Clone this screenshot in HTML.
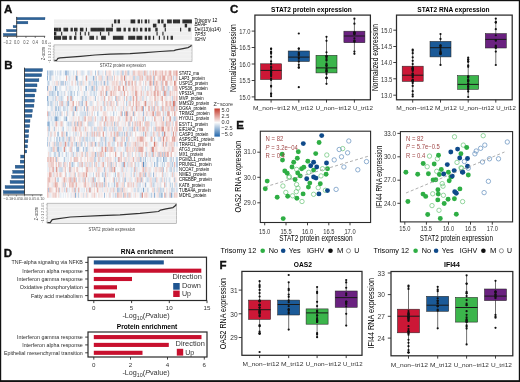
<!DOCTYPE html>
<html><head><meta charset="utf-8"><style>
html,body{margin:0;padding:0;background:#fff;width:520px;height:382px;overflow:hidden}
svg{display:block;font-family:"Liberation Sans",sans-serif;will-change:transform}
</style></head><body>
<svg width="520" height="382" viewBox="0 0 520 382" font-family="Liberation Sans, sans-serif">
<rect x="0" y="0" width="520" height="382" fill="#fff"/>
<text x="4" y="13.1" font-size="11.5" font-weight="bold" fill="#111" stroke="#111" stroke-width="0.35">A</text>
<text x="4.2" y="69.2" font-size="11.5" font-weight="bold" fill="#111" stroke="#111" stroke-width="0.35">B</text>
<text x="230" y="13.1" font-size="11.5" font-weight="bold" fill="#111" stroke="#111" stroke-width="0.35">C</text>
<text x="3.8" y="257.1" font-size="11.5" font-weight="bold" fill="#111" stroke="#111" stroke-width="0.35">D</text>
<text x="236.3" y="129.2" font-size="11.5" font-weight="bold" fill="#111" stroke="#111" stroke-width="0.35">E</text>
<text x="219.4" y="269.1" font-size="11.5" font-weight="bold" fill="#111" stroke="#111" stroke-width="0.35">F</text>
<rect x="16.7" y="17.4" width="28.3" height="2.4" fill="#2d6399" stroke="#1f4670" stroke-width="0.3"/>
<rect x="16.7" y="21.3" width="11.2" height="2.6" fill="#2d6399" stroke="#1f4670" stroke-width="0.3"/>
<rect x="13.1" y="25.4" width="3.6" height="2.4" fill="#2d6399" stroke="#1f4670" stroke-width="0.3"/>
<rect x="6.5" y="29.4" width="10.2" height="2.4" fill="#2d6399" stroke="#1f4670" stroke-width="0.3"/>
<rect x="3.3" y="33.4" width="13.4" height="2.4" fill="#2d6399" stroke="#1f4670" stroke-width="0.3"/>
<line x1="16.7" y1="16.9" x2="16.7" y2="36.3" stroke="#2a2a2a" stroke-width="0.8" />
<line x1="3" y1="36.3" x2="45.2" y2="36.3" stroke="#2a2a2a" stroke-width="0.8" />
<line x1="7.44" y1="36.3" x2="7.44" y2="38" stroke="#2a2a2a" stroke-width="0.6" />
<text x="7.44" y="43.9" font-size="4.9" text-anchor="middle" fill="#555" textLength="7.93" lengthAdjust="spacingAndGlyphs">−0.2</text>
<line x1="16.7" y1="36.3" x2="16.7" y2="38" stroke="#2a2a2a" stroke-width="0.6" />
<text x="16.7" y="43.9" font-size="4.9" text-anchor="middle" fill="#555" textLength="5.59" lengthAdjust="spacingAndGlyphs">0.0</text>
<line x1="25.96" y1="36.3" x2="25.96" y2="38" stroke="#2a2a2a" stroke-width="0.6" />
<text x="25.96" y="43.9" font-size="4.9" text-anchor="middle" fill="#555" textLength="5.59" lengthAdjust="spacingAndGlyphs">0.2</text>
<line x1="35.22" y1="36.3" x2="35.22" y2="38" stroke="#2a2a2a" stroke-width="0.6" />
<text x="35.22" y="43.9" font-size="4.9" text-anchor="middle" fill="#555" textLength="5.59" lengthAdjust="spacingAndGlyphs">0.4</text>
<line x1="44.48" y1="36.3" x2="44.48" y2="38" stroke="#2a2a2a" stroke-width="0.6" />
<text x="44.48" y="43.9" font-size="4.9" text-anchor="middle" fill="#555" textLength="5.59" lengthAdjust="spacingAndGlyphs">0.6</text>
<rect x="54" y="19.5" width="137.8" height="20.25" fill="#ececec"/>
<rect x="114.07" y="19.5" width="2.36" height="4.05" fill="#161616"/>
<rect x="117.6" y="19.5" width="2.36" height="4.05" fill="#161616"/>
<rect x="130.56" y="19.5" width="4.71" height="4.05" fill="#161616"/>
<rect x="137.62" y="19.5" width="2.36" height="4.05" fill="#161616"/>
<rect x="141.16" y="19.5" width="1.18" height="4.05" fill="#161616"/>
<rect x="144.69" y="19.5" width="2.36" height="4.05" fill="#161616"/>
<rect x="148.22" y="19.5" width="1.18" height="4.05" fill="#161616"/>
<rect x="157.64" y="19.5" width="2.36" height="4.05" fill="#161616"/>
<rect x="161.18" y="19.5" width="2.36" height="4.05" fill="#161616"/>
<rect x="167.07" y="19.5" width="4.71" height="4.05" fill="#161616"/>
<rect x="172.96" y="19.5" width="7.07" height="4.05" fill="#161616"/>
<rect x="182.38" y="19.5" width="9.42" height="4.05" fill="#161616"/>
<rect x="111.71" y="23.55" width="1.18" height="4.05" fill="#161616"/>
<rect x="152.93" y="23.55" width="3.53" height="4.05" fill="#161616"/>
<rect x="163.53" y="23.55" width="2.36" height="4.05" fill="#161616"/>
<rect x="184.73" y="23.55" width="2.36" height="4.05" fill="#161616"/>
<rect x="54" y="27.6" width="4.71" height="4.05" fill="#161616"/>
<rect x="58.71" y="27.6" width="2.36" height="4.05" fill="#161616"/>
<rect x="63.42" y="27.6" width="4.71" height="4.05" fill="#161616"/>
<rect x="70.49" y="27.6" width="2.36" height="4.05" fill="#161616"/>
<rect x="74.02" y="27.6" width="3.53" height="4.05" fill="#161616"/>
<rect x="79.91" y="27.6" width="3.53" height="4.05" fill="#161616"/>
<rect x="85.8" y="27.6" width="1.18" height="4.05" fill="#161616"/>
<rect x="90.51" y="27.6" width="14.13" height="4.05" fill="#161616"/>
<rect x="105.82" y="27.6" width="7.07" height="4.05" fill="#161616"/>
<rect x="116.42" y="27.6" width="4.71" height="4.05" fill="#161616"/>
<rect x="123.49" y="27.6" width="2.36" height="4.05" fill="#161616"/>
<rect x="128.2" y="27.6" width="2.36" height="4.05" fill="#161616"/>
<rect x="132.91" y="27.6" width="2.36" height="4.05" fill="#161616"/>
<rect x="136.44" y="27.6" width="1.18" height="4.05" fill="#161616"/>
<rect x="139.98" y="27.6" width="2.36" height="4.05" fill="#161616"/>
<rect x="144.69" y="27.6" width="2.36" height="4.05" fill="#161616"/>
<rect x="148.22" y="27.6" width="2.36" height="4.05" fill="#161616"/>
<rect x="155.29" y="27.6" width="2.36" height="4.05" fill="#161616"/>
<rect x="164.71" y="27.6" width="1.18" height="4.05" fill="#161616"/>
<rect x="180.02" y="27.6" width="1.18" height="4.05" fill="#161616"/>
<rect x="188.27" y="27.6" width="2.36" height="4.05" fill="#161616"/>
<rect x="54" y="31.65" width="2.36" height="4.05" fill="#161616"/>
<rect x="61.07" y="31.65" width="1.18" height="4.05" fill="#161616"/>
<rect x="75.2" y="31.65" width="1.18" height="4.05" fill="#161616"/>
<rect x="79.91" y="31.65" width="1.18" height="4.05" fill="#161616"/>
<rect x="84.62" y="31.65" width="1.18" height="4.05" fill="#161616"/>
<rect x="88.16" y="31.65" width="1.18" height="4.05" fill="#161616"/>
<rect x="99.93" y="31.65" width="1.18" height="4.05" fill="#161616"/>
<rect x="108.18" y="31.65" width="1.18" height="4.05" fill="#161616"/>
<rect x="156.47" y="31.65" width="1.18" height="4.05" fill="#161616"/>
<rect x="162.36" y="31.65" width="1.18" height="4.05" fill="#161616"/>
<rect x="54" y="35.7" width="7.07" height="4.05" fill="#161616"/>
<rect x="62.24" y="35.7" width="4.71" height="4.05" fill="#161616"/>
<rect x="69.31" y="35.7" width="2.36" height="4.05" fill="#161616"/>
<rect x="74.02" y="35.7" width="2.36" height="4.05" fill="#161616"/>
<rect x="79.91" y="35.7" width="2.36" height="4.05" fill="#161616"/>
<rect x="89.33" y="35.7" width="4.71" height="4.05" fill="#161616"/>
<rect x="96.4" y="35.7" width="1.18" height="4.05" fill="#161616"/>
<rect x="101.11" y="35.7" width="4.71" height="4.05" fill="#161616"/>
<rect x="112.89" y="35.7" width="10.6" height="4.05" fill="#161616"/>
<rect x="128.2" y="35.7" width="7.07" height="4.05" fill="#161616"/>
<rect x="136.44" y="35.7" width="5.89" height="4.05" fill="#161616"/>
<rect x="144.69" y="35.7" width="2.36" height="4.05" fill="#161616"/>
<rect x="148.22" y="35.7" width="2.36" height="4.05" fill="#161616"/>
<rect x="152.93" y="35.7" width="1.18" height="4.05" fill="#161616"/>
<rect x="158.82" y="35.7" width="1.18" height="4.05" fill="#161616"/>
<rect x="163.53" y="35.7" width="1.18" height="4.05" fill="#161616"/>
<rect x="167.07" y="35.7" width="1.18" height="4.05" fill="#161616"/>
<rect x="170.6" y="35.7" width="2.36" height="4.05" fill="#161616"/>
<path d="M55.18 19.5V39.75M56.36 19.5V39.75M57.53 19.5V39.75M58.71 19.5V39.75M59.89 19.5V39.75M61.07 19.5V39.75M62.24 19.5V39.75M63.42 19.5V39.75M64.6 19.5V39.75M65.78 19.5V39.75M66.96 19.5V39.75M68.13 19.5V39.75M69.31 19.5V39.75M70.49 19.5V39.75M71.67 19.5V39.75M72.84 19.5V39.75M74.02 19.5V39.75M75.2 19.5V39.75M76.38 19.5V39.75M77.56 19.5V39.75M78.73 19.5V39.75M79.91 19.5V39.75M81.09 19.5V39.75M82.27 19.5V39.75M83.44 19.5V39.75M84.62 19.5V39.75M85.8 19.5V39.75M86.98 19.5V39.75M88.16 19.5V39.75M89.33 19.5V39.75M90.51 19.5V39.75M91.69 19.5V39.75M92.87 19.5V39.75M94.04 19.5V39.75M95.22 19.5V39.75M96.4 19.5V39.75M97.58 19.5V39.75M98.76 19.5V39.75M99.93 19.5V39.75M101.11 19.5V39.75M102.29 19.5V39.75M103.47 19.5V39.75M104.64 19.5V39.75M105.82 19.5V39.75M107 19.5V39.75M108.18 19.5V39.75M109.36 19.5V39.75M110.53 19.5V39.75M111.71 19.5V39.75M112.89 19.5V39.75M114.07 19.5V39.75M115.24 19.5V39.75M116.42 19.5V39.75M117.6 19.5V39.75M118.78 19.5V39.75M119.96 19.5V39.75M121.13 19.5V39.75M122.31 19.5V39.75M123.49 19.5V39.75M124.67 19.5V39.75M125.84 19.5V39.75M127.02 19.5V39.75M128.2 19.5V39.75M129.38 19.5V39.75M130.56 19.5V39.75M131.73 19.5V39.75M132.91 19.5V39.75M134.09 19.5V39.75M135.27 19.5V39.75M136.44 19.5V39.75M137.62 19.5V39.75M138.8 19.5V39.75M139.98 19.5V39.75M141.16 19.5V39.75M142.33 19.5V39.75M143.51 19.5V39.75M144.69 19.5V39.75M145.87 19.5V39.75M147.04 19.5V39.75M148.22 19.5V39.75M149.4 19.5V39.75M150.58 19.5V39.75M151.76 19.5V39.75M152.93 19.5V39.75M154.11 19.5V39.75M155.29 19.5V39.75M156.47 19.5V39.75M157.64 19.5V39.75M158.82 19.5V39.75M160 19.5V39.75M161.18 19.5V39.75M162.36 19.5V39.75M163.53 19.5V39.75M164.71 19.5V39.75M165.89 19.5V39.75M167.07 19.5V39.75M168.24 19.5V39.75M169.42 19.5V39.75M170.6 19.5V39.75M171.78 19.5V39.75M172.96 19.5V39.75M174.13 19.5V39.75M175.31 19.5V39.75M176.49 19.5V39.75M177.67 19.5V39.75M178.84 19.5V39.75M180.02 19.5V39.75M181.2 19.5V39.75M182.38 19.5V39.75M183.56 19.5V39.75M184.73 19.5V39.75M185.91 19.5V39.75M187.09 19.5V39.75M188.27 19.5V39.75M189.44 19.5V39.75M190.62 19.5V39.75" stroke="#ffffff" stroke-width="0.3" opacity="0.45"/>
<path d="M54 23.55H191.8M54 27.6H191.8M54 31.65H191.8M54 35.7H191.8" stroke="#ffffff" stroke-width="0.3"/>
<text x="194.4" y="22.02" font-size="5" textLength="23.07" lengthAdjust="spacingAndGlyphs">Trisomy 12</text>
<text x="194.4" y="26.42" font-size="5" textLength="12.54" lengthAdjust="spacingAndGlyphs" font-style="italic">BRAF</text>
<text x="194.4" y="31.32" font-size="5" textLength="26.38" lengthAdjust="spacingAndGlyphs">Del(13)(q14)</text>
<text x="194.4" y="36.02" font-size="5" textLength="11.23" lengthAdjust="spacingAndGlyphs" font-style="italic">TP53</text>
<text x="194.4" y="40.72" font-size="5" textLength="11.49" lengthAdjust="spacingAndGlyphs">IGHV</text>
<rect x="54" y="44.9" width="138" height="16.7" fill="#efefef" stroke="#9a9a9a" stroke-width="0.6"/>
<line x1="54" y1="48.24" x2="192" y2="48.24" stroke="#fbfbfb" stroke-width="0.4" />
<line x1="54" y1="51.58" x2="192" y2="51.58" stroke="#fbfbfb" stroke-width="0.4" />
<line x1="54" y1="54.92" x2="192" y2="54.92" stroke="#fbfbfb" stroke-width="0.4" />
<line x1="54" y1="58.26" x2="192" y2="58.26" stroke="#fbfbfb" stroke-width="0.4" />
<path d="M54.4 60.3 L56.5 60.5 L57.9 58.4 L60 57.9 L66.9 57.4 L80.4 56.3 L95 55 L110 54.1 L130 53.6 L145 52.6 L160 51.5 L174 50.6 L176 49.9 L183 48.6 L188 47.6 L190.5 46.3 L191.5 45.3" fill="none" stroke="#333" stroke-width="1.25" stroke-linejoin="round"/>
<line x1="52.7" y1="60.1" x2="54" y2="60.1" stroke="#888" stroke-width="0.4" />
<line x1="52.7" y1="57.36" x2="54" y2="57.36" stroke="#888" stroke-width="0.4" />
<line x1="52.7" y1="54.62" x2="54" y2="54.62" stroke="#888" stroke-width="0.4" />
<line x1="52.7" y1="51.88" x2="54" y2="51.88" stroke="#888" stroke-width="0.4" />
<line x1="52.7" y1="49.14" x2="54" y2="49.14" stroke="#888" stroke-width="0.4" />
<line x1="52.7" y1="46.4" x2="54" y2="46.4" stroke="#888" stroke-width="0.4" />
<text x="45.1" y="53.45" font-size="4.9" text-anchor="middle" fill="#333" textLength="13.2" lengthAdjust="spacingAndGlyphs" transform="rotate(-90 45.1 53.45)">Z−score</text>
<text x="50.6" y="52.75" font-size="3.6" text-anchor="middle" fill="#666" textLength="20.8" lengthAdjust="spacingAndGlyphs" transform="rotate(-90 50.6 52.75)">−1 0 1 2 3 4 5</text>
<text x="122.8" y="66.6" font-size="5.9" text-anchor="middle" fill="#444" textLength="46" lengthAdjust="spacingAndGlyphs">STAT2 protein expression</text>
<rect x="24.5" y="68.6" width="18" height="3" fill="#2d6399" stroke="#1f4670" stroke-width="0.35"/>
<rect x="24.5" y="73.68" width="17.1" height="3" fill="#2d6399" stroke="#1f4670" stroke-width="0.35"/>
<rect x="24.5" y="78.77" width="14.4" height="3" fill="#2d6399" stroke="#1f4670" stroke-width="0.35"/>
<rect x="24.5" y="83.85" width="12.5" height="3" fill="#2d6399" stroke="#1f4670" stroke-width="0.35"/>
<rect x="24.5" y="88.94" width="11.6" height="3" fill="#2d6399" stroke="#1f4670" stroke-width="0.35"/>
<rect x="24.5" y="94.02" width="10.3" height="3" fill="#2d6399" stroke="#1f4670" stroke-width="0.35"/>
<rect x="24.5" y="99.11" width="9.8" height="3" fill="#2d6399" stroke="#1f4670" stroke-width="0.35"/>
<rect x="24.5" y="104.19" width="9.4" height="3" fill="#2d6399" stroke="#1f4670" stroke-width="0.35"/>
<rect x="24.5" y="109.28" width="7.9" height="3" fill="#2d6399" stroke="#1f4670" stroke-width="0.35"/>
<rect x="24.5" y="114.36" width="7.4" height="3" fill="#2d6399" stroke="#1f4670" stroke-width="0.35"/>
<rect x="24.5" y="119.45" width="5.5" height="3" fill="#2d6399" stroke="#1f4670" stroke-width="0.35"/>
<rect x="24.5" y="124.53" width="5.2" height="3" fill="#2d6399" stroke="#1f4670" stroke-width="0.35"/>
<rect x="24.5" y="129.62" width="4.3" height="3" fill="#2d6399" stroke="#1f4670" stroke-width="0.35"/>
<rect x="24.5" y="134.7" width="4.1" height="3" fill="#2d6399" stroke="#1f4670" stroke-width="0.35"/>
<rect x="24.5" y="139.79" width="3.4" height="3" fill="#2d6399" stroke="#1f4670" stroke-width="0.35"/>
<rect x="24.5" y="144.88" width="3" height="3" fill="#2d6399" stroke="#1f4670" stroke-width="0.35"/>
<rect x="24.5" y="149.96" width="2.3" height="3" fill="#2d6399" stroke="#1f4670" stroke-width="0.35"/>
<rect x="20.7" y="155.04" width="3.8" height="3" fill="#2d6399" stroke="#1f4670" stroke-width="0.35"/>
<rect x="20.2" y="160.13" width="4.3" height="3" fill="#2d6399" stroke="#1f4670" stroke-width="0.35"/>
<rect x="15.2" y="165.21" width="9.3" height="3" fill="#2d6399" stroke="#1f4670" stroke-width="0.35"/>
<rect x="12.8" y="170.3" width="11.7" height="3" fill="#2d6399" stroke="#1f4670" stroke-width="0.35"/>
<rect x="11.6" y="175.38" width="12.9" height="3" fill="#2d6399" stroke="#1f4670" stroke-width="0.35"/>
<rect x="10.1" y="180.47" width="14.4" height="3" fill="#2d6399" stroke="#1f4670" stroke-width="0.35"/>
<rect x="5.1" y="185.56" width="19.4" height="3" fill="#2d6399" stroke="#1f4670" stroke-width="0.35"/>
<rect x="3.3" y="190.64" width="21.2" height="3" fill="#2d6399" stroke="#1f4670" stroke-width="0.35"/>
<line x1="24.5" y1="67.6" x2="24.5" y2="194.9" stroke="#2a2a2a" stroke-width="0.8" />
<line x1="3" y1="194.9" x2="42.5" y2="194.9" stroke="#2a2a2a" stroke-width="0.8" />
<line x1="8.3" y1="194.9" x2="8.3" y2="196.3" stroke="#2a2a2a" stroke-width="0.5" />
<text x="8.3" y="200.3" font-size="3.9" text-anchor="middle" fill="#555">−0.10</text>
<line x1="16.4" y1="194.9" x2="16.4" y2="196.3" stroke="#2a2a2a" stroke-width="0.5" />
<text x="16.4" y="200.3" font-size="3.9" text-anchor="middle" fill="#555">−0.05</text>
<line x1="24.5" y1="194.9" x2="24.5" y2="196.3" stroke="#2a2a2a" stroke-width="0.5" />
<text x="24.5" y="200.3" font-size="3.9" text-anchor="middle" fill="#555">0.00</text>
<line x1="32.6" y1="194.9" x2="32.6" y2="196.3" stroke="#2a2a2a" stroke-width="0.5" />
<text x="32.6" y="200.3" font-size="3.9" text-anchor="middle" fill="#555">0.05</text>
<line x1="40.7" y1="194.9" x2="40.7" y2="196.3" stroke="#2a2a2a" stroke-width="0.5" />
<text x="40.7" y="200.3" font-size="3.9" text-anchor="middle" fill="#555">0.10</text>
<path fill="#578bc0" d="M81.55 101h1.17v5.14h-1.17zM142.85 162.01h1.17v5.14h-1.17z"/>
<path fill="#6997c6" d="M70.41 90.84h1.17v5.14h-1.17zM59.26 136.59h1.17v5.14h-1.17zM71.52 162.01h1.17v5.14h-1.17zM176.29 162.01h1.17v5.14h-1.17zM170.71 192.52h1.17v5.14h-1.17z"/>
<path fill="#7ba4cc" d="M75.98 75.58h1.17v5.14h-1.17zM92.7 75.58h1.17v5.14h-1.17zM54.8 85.75h1.17v5.14h-1.17zM91.58 85.75h1.17v5.14h-1.17zM74.86 106.09h1.17v5.14h-1.17zM55.92 116.26h1.17v5.14h-1.17zM48.11 121.34h1.17v5.14h-1.17zM128.36 121.34h1.17v5.14h-1.17zM157.34 156.93h1.17v5.14h-1.17zM176.29 156.93h1.17v5.14h-1.17zM110.53 162.01h1.17v5.14h-1.17zM117.22 187.43h1.17v5.14h-1.17zM142.85 187.43h1.17v5.14h-1.17z"/>
<path fill="#8eb0d3" d="M47 75.58h1.17v5.14h-1.17zM107.18 75.58h1.17v5.14h-1.17zM60.37 80.67h1.17v5.14h-1.17zM62.6 80.67h1.17v5.14h-1.17zM100.5 80.67h1.17v5.14h-1.17zM47 85.75h1.17v5.14h-1.17zM106.07 90.84h1.17v5.14h-1.17zM47 95.92h1.17v5.14h-1.17zM50.34 101h1.17v5.14h-1.17zM68.18 101h1.17v5.14h-1.17zM58.15 106.09h1.17v5.14h-1.17zM142.85 106.09h1.17v5.14h-1.17zM72.63 111.17h1.17v5.14h-1.17zM121.67 111.17h1.17v5.14h-1.17zM127.25 111.17h1.17v5.14h-1.17zM54.8 116.26h1.17v5.14h-1.17zM65.95 116.26h1.17v5.14h-1.17zM62.6 126.42h1.17v5.14h-1.17zM137.28 126.42h1.17v5.14h-1.17zM100.5 136.59h1.17v5.14h-1.17zM58.15 146.76h1.17v5.14h-1.17zM78.21 146.76h1.17v5.14h-1.17zM82.66 146.76h1.17v5.14h-1.17zM158.45 151.84h1.17v5.14h-1.17zM162.91 156.93h1.17v5.14h-1.17zM103.84 177.26h1.17v5.14h-1.17zM140.62 177.26h1.17v5.14h-1.17zM108.3 182.35h1.17v5.14h-1.17zM145.08 182.35h1.17v5.14h-1.17zM74.86 192.52h1.17v5.14h-1.17zM153.99 192.52h1.17v5.14h-1.17zM160.68 192.52h1.17v5.14h-1.17z"/>
<path fill="#a0bcda" d="M47 70.5h1.17v5.14h-1.17zM51.46 70.5h1.17v5.14h-1.17zM60.37 70.5h1.17v5.14h-1.17zM64.83 70.5h1.17v5.14h-1.17zM65.95 70.5h1.17v5.14h-1.17zM98.27 70.5h1.17v5.14h-1.17zM128.36 70.5h1.17v5.14h-1.17zM49.23 75.58h1.17v5.14h-1.17zM80.44 80.67h1.17v5.14h-1.17zM103.84 80.67h1.17v5.14h-1.17zM107.18 80.67h1.17v5.14h-1.17zM119.44 80.67h1.17v5.14h-1.17zM152.88 80.67h1.17v5.14h-1.17zM86.01 85.75h1.17v5.14h-1.17zM49.23 90.84h1.17v5.14h-1.17zM57.03 90.84h1.17v5.14h-1.17zM71.52 95.92h1.17v5.14h-1.17zM81.55 95.92h1.17v5.14h-1.17zM126.13 101h1.17v5.14h-1.17zM83.78 106.09h1.17v5.14h-1.17zM87.12 106.09h1.17v5.14h-1.17zM60.37 111.17h1.17v5.14h-1.17zM97.15 111.17h1.17v5.14h-1.17zM132.82 111.17h1.17v5.14h-1.17zM142.85 111.17h1.17v5.14h-1.17zM162.91 116.26h1.17v5.14h-1.17zM49.23 121.34h1.17v5.14h-1.17zM70.41 121.34h1.17v5.14h-1.17zM77.09 121.34h1.17v5.14h-1.17zM49.23 126.42h1.17v5.14h-1.17zM53.69 126.42h1.17v5.14h-1.17zM109.41 126.42h1.17v5.14h-1.17zM131.7 126.42h1.17v5.14h-1.17zM65.95 131.51h1.17v5.14h-1.17zM129.48 131.51h1.17v5.14h-1.17zM62.6 136.59h1.17v5.14h-1.17zM113.87 136.59h1.17v5.14h-1.17zM126.13 136.59h1.17v5.14h-1.17zM159.57 136.59h1.17v5.14h-1.17zM49.23 141.68h1.17v5.14h-1.17zM68.18 141.68h1.17v5.14h-1.17zM75.98 141.68h1.17v5.14h-1.17zM80.44 141.68h1.17v5.14h-1.17zM90.47 141.68h1.17v5.14h-1.17zM94.92 141.68h1.17v5.14h-1.17zM101.61 141.68h1.17v5.14h-1.17zM125.02 141.68h1.17v5.14h-1.17zM166.25 141.68h1.17v5.14h-1.17zM57.03 146.76h1.17v5.14h-1.17zM77.09 146.76h1.17v5.14h-1.17zM72.63 151.84h1.17v5.14h-1.17zM94.92 151.84h1.17v5.14h-1.17zM146.19 151.84h1.17v5.14h-1.17zM63.72 156.93h1.17v5.14h-1.17zM145.08 156.93h1.17v5.14h-1.17zM122.79 162.01h1.17v5.14h-1.17zM153.99 162.01h1.17v5.14h-1.17zM61.49 167.1h1.17v5.14h-1.17zM110.53 167.1h1.17v5.14h-1.17zM101.61 172.18h1.17v5.14h-1.17zM145.08 172.18h1.17v5.14h-1.17zM152.88 172.18h1.17v5.14h-1.17zM139.51 182.35h1.17v5.14h-1.17zM169.6 182.35h1.17v5.14h-1.17zM48.11 187.43h1.17v5.14h-1.17zM59.26 187.43h1.17v5.14h-1.17zM121.67 187.43h1.17v5.14h-1.17zM147.31 187.43h1.17v5.14h-1.17zM78.21 192.52h1.17v5.14h-1.17zM103.84 192.52h1.17v5.14h-1.17zM127.25 192.52h1.17v5.14h-1.17zM150.65 192.52h1.17v5.14h-1.17z"/>
<path fill="#b2c9e0" d="M49.23 70.5h1.17v5.14h-1.17zM50.34 70.5h1.17v5.14h-1.17zM94.92 70.5h1.17v5.14h-1.17zM121.67 70.5h1.17v5.14h-1.17zM127.25 70.5h1.17v5.14h-1.17zM50.34 75.58h1.17v5.14h-1.17zM77.09 75.58h1.17v5.14h-1.17zM101.61 75.58h1.17v5.14h-1.17zM111.64 75.58h1.17v5.14h-1.17zM152.88 75.58h1.17v5.14h-1.17zM48.11 80.67h1.17v5.14h-1.17zM61.49 80.67h1.17v5.14h-1.17zM64.83 80.67h1.17v5.14h-1.17zM77.09 80.67h1.17v5.14h-1.17zM89.35 80.67h1.17v5.14h-1.17zM96.04 80.67h1.17v5.14h-1.17zM126.13 80.67h1.17v5.14h-1.17zM52.57 85.75h1.17v5.14h-1.17zM78.21 85.75h1.17v5.14h-1.17zM96.04 85.75h1.17v5.14h-1.17zM147.31 85.75h1.17v5.14h-1.17zM51.46 90.84h1.17v5.14h-1.17zM52.57 90.84h1.17v5.14h-1.17zM58.15 90.84h1.17v5.14h-1.17zM73.75 90.84h1.17v5.14h-1.17zM77.09 90.84h1.17v5.14h-1.17zM90.47 90.84h1.17v5.14h-1.17zM52.57 95.92h1.17v5.14h-1.17zM94.92 95.92h1.17v5.14h-1.17zM114.99 95.92h1.17v5.14h-1.17zM118.33 95.92h1.17v5.14h-1.17zM48.11 101h1.17v5.14h-1.17zM67.06 101h1.17v5.14h-1.17zM79.32 101h1.17v5.14h-1.17zM109.41 101h1.17v5.14h-1.17zM116.1 101h1.17v5.14h-1.17zM51.46 106.09h1.17v5.14h-1.17zM54.8 106.09h1.17v5.14h-1.17zM55.92 106.09h1.17v5.14h-1.17zM80.44 106.09h1.17v5.14h-1.17zM168.48 106.09h1.17v5.14h-1.17zM174.06 106.09h1.17v5.14h-1.17zM48.11 111.17h1.17v5.14h-1.17zM87.12 111.17h1.17v5.14h-1.17zM112.76 111.17h1.17v5.14h-1.17zM123.9 111.17h1.17v5.14h-1.17zM155.11 111.17h1.17v5.14h-1.17zM57.03 116.26h1.17v5.14h-1.17zM129.48 116.26h1.17v5.14h-1.17zM145.08 116.26h1.17v5.14h-1.17zM174.06 116.26h1.17v5.14h-1.17zM47 121.34h1.17v5.14h-1.17zM68.18 121.34h1.17v5.14h-1.17zM73.75 121.34h1.17v5.14h-1.17zM81.55 121.34h1.17v5.14h-1.17zM88.24 121.34h1.17v5.14h-1.17zM90.47 121.34h1.17v5.14h-1.17zM113.87 121.34h1.17v5.14h-1.17zM131.7 121.34h1.17v5.14h-1.17zM48.11 126.42h1.17v5.14h-1.17zM90.47 126.42h1.17v5.14h-1.17zM99.38 126.42h1.17v5.14h-1.17zM103.84 126.42h1.17v5.14h-1.17zM111.64 126.42h1.17v5.14h-1.17zM122.79 126.42h1.17v5.14h-1.17zM155.11 126.42h1.17v5.14h-1.17zM57.03 131.51h1.17v5.14h-1.17zM58.15 131.51h1.17v5.14h-1.17zM87.12 131.51h1.17v5.14h-1.17zM121.67 131.51h1.17v5.14h-1.17zM123.9 131.51h1.17v5.14h-1.17zM127.25 131.51h1.17v5.14h-1.17zM142.85 131.51h1.17v5.14h-1.17zM161.8 131.51h1.17v5.14h-1.17zM50.34 136.59h1.17v5.14h-1.17zM68.18 136.59h1.17v5.14h-1.17zM69.29 136.59h1.17v5.14h-1.17zM82.66 136.59h1.17v5.14h-1.17zM89.35 136.59h1.17v5.14h-1.17zM104.96 136.59h1.17v5.14h-1.17zM112.76 136.59h1.17v5.14h-1.17zM153.99 136.59h1.17v5.14h-1.17zM47 141.68h1.17v5.14h-1.17zM53.69 141.68h1.17v5.14h-1.17zM58.15 141.68h1.17v5.14h-1.17zM81.55 141.68h1.17v5.14h-1.17zM99.38 141.68h1.17v5.14h-1.17zM104.96 141.68h1.17v5.14h-1.17zM176.29 141.68h1.17v5.14h-1.17zM71.52 146.76h1.17v5.14h-1.17zM75.98 146.76h1.17v5.14h-1.17zM86.01 146.76h1.17v5.14h-1.17zM107.18 146.76h1.17v5.14h-1.17zM150.65 146.76h1.17v5.14h-1.17zM58.15 151.84h1.17v5.14h-1.17zM59.26 151.84h1.17v5.14h-1.17zM61.49 151.84h1.17v5.14h-1.17zM138.39 151.84h1.17v5.14h-1.17zM151.77 151.84h1.17v5.14h-1.17zM161.8 151.84h1.17v5.14h-1.17zM164.03 151.84h1.17v5.14h-1.17zM55.92 156.93h1.17v5.14h-1.17zM128.36 156.93h1.17v5.14h-1.17zM139.51 156.93h1.17v5.14h-1.17zM140.62 156.93h1.17v5.14h-1.17zM149.54 156.93h1.17v5.14h-1.17zM156.22 156.93h1.17v5.14h-1.17zM166.25 156.93h1.17v5.14h-1.17zM170.71 156.93h1.17v5.14h-1.17zM62.6 162.01h1.17v5.14h-1.17zM89.35 162.01h1.17v5.14h-1.17zM98.27 162.01h1.17v5.14h-1.17zM127.25 162.01h1.17v5.14h-1.17zM138.39 162.01h1.17v5.14h-1.17zM156.22 162.01h1.17v5.14h-1.17zM157.34 162.01h1.17v5.14h-1.17zM171.83 162.01h1.17v5.14h-1.17zM59.26 167.1h1.17v5.14h-1.17zM70.41 167.1h1.17v5.14h-1.17zM103.84 167.1h1.17v5.14h-1.17zM162.91 167.1h1.17v5.14h-1.17zM170.71 167.1h1.17v5.14h-1.17zM176.29 167.1h1.17v5.14h-1.17zM92.7 172.18h1.17v5.14h-1.17zM114.99 172.18h1.17v5.14h-1.17zM130.59 172.18h1.17v5.14h-1.17zM71.52 177.26h1.17v5.14h-1.17zM113.87 177.26h1.17v5.14h-1.17zM125.02 177.26h1.17v5.14h-1.17zM147.31 177.26h1.17v5.14h-1.17zM155.11 177.26h1.17v5.14h-1.17zM166.25 177.26h1.17v5.14h-1.17zM168.48 177.26h1.17v5.14h-1.17zM174.06 177.26h1.17v5.14h-1.17zM62.6 182.35h1.17v5.14h-1.17zM103.84 182.35h1.17v5.14h-1.17zM113.87 182.35h1.17v5.14h-1.17zM73.75 187.43h1.17v5.14h-1.17zM118.33 187.43h1.17v5.14h-1.17zM137.28 187.43h1.17v5.14h-1.17zM176.29 187.43h1.17v5.14h-1.17zM122.79 192.52h1.17v5.14h-1.17zM139.51 192.52h1.17v5.14h-1.17zM161.8 192.52h1.17v5.14h-1.17zM165.14 192.52h1.17v5.14h-1.17z"/>
<path fill="#c4d5e6" d="M52.57 70.5h1.17v5.14h-1.17zM67.06 70.5h1.17v5.14h-1.17zM68.18 70.5h1.17v5.14h-1.17zM72.63 70.5h1.17v5.14h-1.17zM75.98 70.5h1.17v5.14h-1.17zM81.55 70.5h1.17v5.14h-1.17zM88.24 70.5h1.17v5.14h-1.17zM104.96 70.5h1.17v5.14h-1.17zM112.76 70.5h1.17v5.14h-1.17zM117.22 70.5h1.17v5.14h-1.17zM122.79 70.5h1.17v5.14h-1.17zM147.31 70.5h1.17v5.14h-1.17zM96.04 75.58h1.17v5.14h-1.17zM109.41 75.58h1.17v5.14h-1.17zM132.82 75.58h1.17v5.14h-1.17zM133.93 75.58h1.17v5.14h-1.17zM138.39 75.58h1.17v5.14h-1.17zM172.94 75.58h1.17v5.14h-1.17zM58.15 80.67h1.17v5.14h-1.17zM88.24 80.67h1.17v5.14h-1.17zM93.81 80.67h1.17v5.14h-1.17zM98.27 80.67h1.17v5.14h-1.17zM160.68 80.67h1.17v5.14h-1.17zM55.92 85.75h1.17v5.14h-1.17zM59.26 85.75h1.17v5.14h-1.17zM69.29 85.75h1.17v5.14h-1.17zM84.89 85.75h1.17v5.14h-1.17zM88.24 85.75h1.17v5.14h-1.17zM90.47 85.75h1.17v5.14h-1.17zM92.7 85.75h1.17v5.14h-1.17zM109.41 85.75h1.17v5.14h-1.17zM145.08 85.75h1.17v5.14h-1.17zM160.68 85.75h1.17v5.14h-1.17zM164.03 85.75h1.17v5.14h-1.17zM167.37 85.75h1.17v5.14h-1.17zM168.48 85.75h1.17v5.14h-1.17zM50.34 90.84h1.17v5.14h-1.17zM63.72 90.84h1.17v5.14h-1.17zM68.18 90.84h1.17v5.14h-1.17zM71.52 90.84h1.17v5.14h-1.17zM83.78 90.84h1.17v5.14h-1.17zM93.81 90.84h1.17v5.14h-1.17zM162.91 90.84h1.17v5.14h-1.17zM54.8 95.92h1.17v5.14h-1.17zM60.37 95.92h1.17v5.14h-1.17zM61.49 95.92h1.17v5.14h-1.17zM68.18 95.92h1.17v5.14h-1.17zM82.66 95.92h1.17v5.14h-1.17zM84.89 95.92h1.17v5.14h-1.17zM86.01 95.92h1.17v5.14h-1.17zM123.9 95.92h1.17v5.14h-1.17zM129.48 95.92h1.17v5.14h-1.17zM130.59 95.92h1.17v5.14h-1.17zM146.19 95.92h1.17v5.14h-1.17zM171.83 95.92h1.17v5.14h-1.17zM47 101h1.17v5.14h-1.17zM51.46 101h1.17v5.14h-1.17zM57.03 101h1.17v5.14h-1.17zM60.37 101h1.17v5.14h-1.17zM62.6 101h1.17v5.14h-1.17zM102.73 101h1.17v5.14h-1.17zM155.11 101h1.17v5.14h-1.17zM157.34 101h1.17v5.14h-1.17zM175.17 101h1.17v5.14h-1.17zM62.6 106.09h1.17v5.14h-1.17zM63.72 106.09h1.17v5.14h-1.17zM67.06 106.09h1.17v5.14h-1.17zM72.63 106.09h1.17v5.14h-1.17zM103.84 106.09h1.17v5.14h-1.17zM122.79 106.09h1.17v5.14h-1.17zM150.65 106.09h1.17v5.14h-1.17zM152.88 106.09h1.17v5.14h-1.17zM160.68 106.09h1.17v5.14h-1.17zM49.23 111.17h1.17v5.14h-1.17zM52.57 111.17h1.17v5.14h-1.17zM54.8 111.17h1.17v5.14h-1.17zM57.03 111.17h1.17v5.14h-1.17zM59.26 111.17h1.17v5.14h-1.17zM67.06 111.17h1.17v5.14h-1.17zM80.44 111.17h1.17v5.14h-1.17zM84.89 111.17h1.17v5.14h-1.17zM89.35 111.17h1.17v5.14h-1.17zM165.14 111.17h1.17v5.14h-1.17zM48.11 116.26h1.17v5.14h-1.17zM53.69 116.26h1.17v5.14h-1.17zM58.15 116.26h1.17v5.14h-1.17zM63.72 116.26h1.17v5.14h-1.17zM64.83 116.26h1.17v5.14h-1.17zM81.55 116.26h1.17v5.14h-1.17zM91.58 116.26h1.17v5.14h-1.17zM119.44 116.26h1.17v5.14h-1.17zM175.17 116.26h1.17v5.14h-1.17zM51.46 121.34h1.17v5.14h-1.17zM89.35 121.34h1.17v5.14h-1.17zM110.53 121.34h1.17v5.14h-1.17zM150.65 121.34h1.17v5.14h-1.17zM165.14 121.34h1.17v5.14h-1.17zM169.6 121.34h1.17v5.14h-1.17zM82.66 126.42h1.17v5.14h-1.17zM93.81 126.42h1.17v5.14h-1.17zM113.87 126.42h1.17v5.14h-1.17zM148.42 126.42h1.17v5.14h-1.17zM150.65 126.42h1.17v5.14h-1.17zM48.11 131.51h1.17v5.14h-1.17zM51.46 131.51h1.17v5.14h-1.17zM62.6 131.51h1.17v5.14h-1.17zM67.06 131.51h1.17v5.14h-1.17zM72.63 131.51h1.17v5.14h-1.17zM97.15 131.51h1.17v5.14h-1.17zM118.33 131.51h1.17v5.14h-1.17zM119.44 131.51h1.17v5.14h-1.17zM147.31 131.51h1.17v5.14h-1.17zM150.65 131.51h1.17v5.14h-1.17zM47 136.59h1.17v5.14h-1.17zM53.69 136.59h1.17v5.14h-1.17zM55.92 136.59h1.17v5.14h-1.17zM57.03 136.59h1.17v5.14h-1.17zM61.49 136.59h1.17v5.14h-1.17zM73.75 136.59h1.17v5.14h-1.17zM81.55 136.59h1.17v5.14h-1.17zM86.01 136.59h1.17v5.14h-1.17zM87.12 136.59h1.17v5.14h-1.17zM93.81 136.59h1.17v5.14h-1.17zM120.56 136.59h1.17v5.14h-1.17zM127.25 136.59h1.17v5.14h-1.17zM55.92 141.68h1.17v5.14h-1.17zM57.03 141.68h1.17v5.14h-1.17zM62.6 141.68h1.17v5.14h-1.17zM78.21 141.68h1.17v5.14h-1.17zM87.12 141.68h1.17v5.14h-1.17zM111.64 141.68h1.17v5.14h-1.17zM119.44 141.68h1.17v5.14h-1.17zM129.48 141.68h1.17v5.14h-1.17zM174.06 141.68h1.17v5.14h-1.17zM50.34 146.76h1.17v5.14h-1.17zM51.46 146.76h1.17v5.14h-1.17zM60.37 146.76h1.17v5.14h-1.17zM87.12 146.76h1.17v5.14h-1.17zM113.87 146.76h1.17v5.14h-1.17zM125.02 146.76h1.17v5.14h-1.17zM50.34 151.84h1.17v5.14h-1.17zM53.69 151.84h1.17v5.14h-1.17zM54.8 151.84h1.17v5.14h-1.17zM65.95 151.84h1.17v5.14h-1.17zM70.41 151.84h1.17v5.14h-1.17zM84.89 151.84h1.17v5.14h-1.17zM89.35 151.84h1.17v5.14h-1.17zM98.27 151.84h1.17v5.14h-1.17zM104.96 151.84h1.17v5.14h-1.17zM122.79 151.84h1.17v5.14h-1.17zM128.36 151.84h1.17v5.14h-1.17zM131.7 151.84h1.17v5.14h-1.17zM93.81 156.93h1.17v5.14h-1.17zM94.92 156.93h1.17v5.14h-1.17zM99.38 156.93h1.17v5.14h-1.17zM114.99 156.93h1.17v5.14h-1.17zM137.28 156.93h1.17v5.14h-1.17zM142.85 156.93h1.17v5.14h-1.17zM147.31 156.93h1.17v5.14h-1.17zM159.57 156.93h1.17v5.14h-1.17zM164.03 156.93h1.17v5.14h-1.17zM165.14 156.93h1.17v5.14h-1.17zM169.6 156.93h1.17v5.14h-1.17zM172.94 156.93h1.17v5.14h-1.17zM59.26 162.01h1.17v5.14h-1.17zM80.44 162.01h1.17v5.14h-1.17zM93.81 162.01h1.17v5.14h-1.17zM116.1 162.01h1.17v5.14h-1.17zM121.67 162.01h1.17v5.14h-1.17zM135.05 162.01h1.17v5.14h-1.17zM145.08 162.01h1.17v5.14h-1.17zM161.8 162.01h1.17v5.14h-1.17zM164.03 162.01h1.17v5.14h-1.17zM169.6 162.01h1.17v5.14h-1.17zM60.37 167.1h1.17v5.14h-1.17zM130.59 167.1h1.17v5.14h-1.17zM135.05 167.1h1.17v5.14h-1.17zM148.42 167.1h1.17v5.14h-1.17zM160.68 167.1h1.17v5.14h-1.17zM169.6 167.1h1.17v5.14h-1.17zM174.06 167.1h1.17v5.14h-1.17zM52.57 172.18h1.17v5.14h-1.17zM69.29 172.18h1.17v5.14h-1.17zM74.86 172.18h1.17v5.14h-1.17zM107.18 172.18h1.17v5.14h-1.17zM133.93 172.18h1.17v5.14h-1.17zM142.85 172.18h1.17v5.14h-1.17zM149.54 172.18h1.17v5.14h-1.17zM57.03 177.26h1.17v5.14h-1.17zM58.15 177.26h1.17v5.14h-1.17zM75.98 177.26h1.17v5.14h-1.17zM83.78 177.26h1.17v5.14h-1.17zM88.24 177.26h1.17v5.14h-1.17zM91.58 177.26h1.17v5.14h-1.17zM93.81 177.26h1.17v5.14h-1.17zM94.92 177.26h1.17v5.14h-1.17zM116.1 177.26h1.17v5.14h-1.17zM119.44 177.26h1.17v5.14h-1.17zM123.9 177.26h1.17v5.14h-1.17zM160.68 177.26h1.17v5.14h-1.17zM164.03 177.26h1.17v5.14h-1.17zM64.83 182.35h1.17v5.14h-1.17zM123.9 182.35h1.17v5.14h-1.17zM137.28 182.35h1.17v5.14h-1.17zM152.88 182.35h1.17v5.14h-1.17zM157.34 182.35h1.17v5.14h-1.17zM159.57 182.35h1.17v5.14h-1.17zM171.83 182.35h1.17v5.14h-1.17zM63.72 187.43h1.17v5.14h-1.17zM88.24 187.43h1.17v5.14h-1.17zM109.41 187.43h1.17v5.14h-1.17zM119.44 187.43h1.17v5.14h-1.17zM138.39 187.43h1.17v5.14h-1.17zM153.99 187.43h1.17v5.14h-1.17zM157.34 187.43h1.17v5.14h-1.17zM159.57 187.43h1.17v5.14h-1.17zM160.68 187.43h1.17v5.14h-1.17zM162.91 187.43h1.17v5.14h-1.17zM168.48 187.43h1.17v5.14h-1.17zM170.71 187.43h1.17v5.14h-1.17zM171.83 187.43h1.17v5.14h-1.17zM70.41 192.52h1.17v5.14h-1.17zM82.66 192.52h1.17v5.14h-1.17zM114.99 192.52h1.17v5.14h-1.17zM140.62 192.52h1.17v5.14h-1.17zM158.45 192.52h1.17v5.14h-1.17zM159.57 192.52h1.17v5.14h-1.17zM168.48 192.52h1.17v5.14h-1.17z"/>
<path fill="#d6e1ed" d="M48.11 70.5h1.17v5.14h-1.17zM54.8 70.5h1.17v5.14h-1.17zM57.03 70.5h1.17v5.14h-1.17zM59.26 70.5h1.17v5.14h-1.17zM70.41 70.5h1.17v5.14h-1.17zM80.44 70.5h1.17v5.14h-1.17zM82.66 70.5h1.17v5.14h-1.17zM87.12 70.5h1.17v5.14h-1.17zM89.35 70.5h1.17v5.14h-1.17zM91.58 70.5h1.17v5.14h-1.17zM101.61 70.5h1.17v5.14h-1.17zM118.33 70.5h1.17v5.14h-1.17zM131.7 70.5h1.17v5.14h-1.17zM142.85 70.5h1.17v5.14h-1.17zM150.65 70.5h1.17v5.14h-1.17zM59.26 75.58h1.17v5.14h-1.17zM68.18 75.58h1.17v5.14h-1.17zM69.29 75.58h1.17v5.14h-1.17zM72.63 75.58h1.17v5.14h-1.17zM81.55 75.58h1.17v5.14h-1.17zM84.89 75.58h1.17v5.14h-1.17zM88.24 75.58h1.17v5.14h-1.17zM93.81 75.58h1.17v5.14h-1.17zM125.02 75.58h1.17v5.14h-1.17zM136.16 75.58h1.17v5.14h-1.17zM137.28 75.58h1.17v5.14h-1.17zM145.08 75.58h1.17v5.14h-1.17zM175.17 75.58h1.17v5.14h-1.17zM47 80.67h1.17v5.14h-1.17zM49.23 80.67h1.17v5.14h-1.17zM51.46 80.67h1.17v5.14h-1.17zM53.69 80.67h1.17v5.14h-1.17zM67.06 80.67h1.17v5.14h-1.17zM69.29 80.67h1.17v5.14h-1.17zM78.21 80.67h1.17v5.14h-1.17zM81.55 80.67h1.17v5.14h-1.17zM90.47 80.67h1.17v5.14h-1.17zM92.7 80.67h1.17v5.14h-1.17zM94.92 80.67h1.17v5.14h-1.17zM102.73 80.67h1.17v5.14h-1.17zM108.3 80.67h1.17v5.14h-1.17zM129.48 80.67h1.17v5.14h-1.17zM136.16 80.67h1.17v5.14h-1.17zM142.85 80.67h1.17v5.14h-1.17zM167.37 80.67h1.17v5.14h-1.17zM57.03 85.75h1.17v5.14h-1.17zM60.37 85.75h1.17v5.14h-1.17zM65.95 85.75h1.17v5.14h-1.17zM70.41 85.75h1.17v5.14h-1.17zM97.15 85.75h1.17v5.14h-1.17zM128.36 85.75h1.17v5.14h-1.17zM141.74 85.75h1.17v5.14h-1.17zM153.99 85.75h1.17v5.14h-1.17zM171.83 85.75h1.17v5.14h-1.17zM53.69 90.84h1.17v5.14h-1.17zM54.8 90.84h1.17v5.14h-1.17zM60.37 90.84h1.17v5.14h-1.17zM61.49 90.84h1.17v5.14h-1.17zM89.35 90.84h1.17v5.14h-1.17zM92.7 90.84h1.17v5.14h-1.17zM96.04 90.84h1.17v5.14h-1.17zM107.18 90.84h1.17v5.14h-1.17zM119.44 90.84h1.17v5.14h-1.17zM121.67 90.84h1.17v5.14h-1.17zM129.48 90.84h1.17v5.14h-1.17zM166.25 90.84h1.17v5.14h-1.17zM167.37 90.84h1.17v5.14h-1.17zM168.48 90.84h1.17v5.14h-1.17zM48.11 95.92h1.17v5.14h-1.17zM51.46 95.92h1.17v5.14h-1.17zM58.15 95.92h1.17v5.14h-1.17zM59.26 95.92h1.17v5.14h-1.17zM62.6 95.92h1.17v5.14h-1.17zM72.63 95.92h1.17v5.14h-1.17zM88.24 95.92h1.17v5.14h-1.17zM98.27 95.92h1.17v5.14h-1.17zM101.61 95.92h1.17v5.14h-1.17zM111.64 95.92h1.17v5.14h-1.17zM128.36 95.92h1.17v5.14h-1.17zM141.74 95.92h1.17v5.14h-1.17zM142.85 95.92h1.17v5.14h-1.17zM166.25 95.92h1.17v5.14h-1.17zM52.57 101h1.17v5.14h-1.17zM54.8 101h1.17v5.14h-1.17zM80.44 101h1.17v5.14h-1.17zM89.35 101h1.17v5.14h-1.17zM90.47 101h1.17v5.14h-1.17zM91.58 101h1.17v5.14h-1.17zM106.07 101h1.17v5.14h-1.17zM149.54 101h1.17v5.14h-1.17zM171.83 101h1.17v5.14h-1.17zM50.34 106.09h1.17v5.14h-1.17zM59.26 106.09h1.17v5.14h-1.17zM60.37 106.09h1.17v5.14h-1.17zM64.83 106.09h1.17v5.14h-1.17zM73.75 106.09h1.17v5.14h-1.17zM77.09 106.09h1.17v5.14h-1.17zM98.27 106.09h1.17v5.14h-1.17zM104.96 106.09h1.17v5.14h-1.17zM126.13 106.09h1.17v5.14h-1.17zM135.05 106.09h1.17v5.14h-1.17zM159.57 106.09h1.17v5.14h-1.17zM50.34 111.17h1.17v5.14h-1.17zM63.72 111.17h1.17v5.14h-1.17zM71.52 111.17h1.17v5.14h-1.17zM79.32 111.17h1.17v5.14h-1.17zM81.55 111.17h1.17v5.14h-1.17zM82.66 111.17h1.17v5.14h-1.17zM83.78 111.17h1.17v5.14h-1.17zM93.81 111.17h1.17v5.14h-1.17zM98.27 111.17h1.17v5.14h-1.17zM116.1 111.17h1.17v5.14h-1.17zM147.31 111.17h1.17v5.14h-1.17zM50.34 116.26h1.17v5.14h-1.17zM51.46 116.26h1.17v5.14h-1.17zM79.32 116.26h1.17v5.14h-1.17zM82.66 116.26h1.17v5.14h-1.17zM92.7 116.26h1.17v5.14h-1.17zM97.15 116.26h1.17v5.14h-1.17zM99.38 116.26h1.17v5.14h-1.17zM100.5 116.26h1.17v5.14h-1.17zM102.73 116.26h1.17v5.14h-1.17zM108.3 116.26h1.17v5.14h-1.17zM133.93 116.26h1.17v5.14h-1.17zM136.16 116.26h1.17v5.14h-1.17zM141.74 116.26h1.17v5.14h-1.17zM148.42 116.26h1.17v5.14h-1.17zM151.77 116.26h1.17v5.14h-1.17zM172.94 116.26h1.17v5.14h-1.17zM52.57 121.34h1.17v5.14h-1.17zM62.6 121.34h1.17v5.14h-1.17zM67.06 121.34h1.17v5.14h-1.17zM69.29 121.34h1.17v5.14h-1.17zM91.58 121.34h1.17v5.14h-1.17zM92.7 121.34h1.17v5.14h-1.17zM97.15 121.34h1.17v5.14h-1.17zM104.96 121.34h1.17v5.14h-1.17zM116.1 121.34h1.17v5.14h-1.17zM118.33 121.34h1.17v5.14h-1.17zM136.16 121.34h1.17v5.14h-1.17zM143.96 121.34h1.17v5.14h-1.17zM172.94 121.34h1.17v5.14h-1.17zM58.15 126.42h1.17v5.14h-1.17zM61.49 126.42h1.17v5.14h-1.17zM68.18 126.42h1.17v5.14h-1.17zM94.92 126.42h1.17v5.14h-1.17zM96.04 126.42h1.17v5.14h-1.17zM102.73 126.42h1.17v5.14h-1.17zM104.96 126.42h1.17v5.14h-1.17zM106.07 126.42h1.17v5.14h-1.17zM114.99 126.42h1.17v5.14h-1.17zM116.1 126.42h1.17v5.14h-1.17zM126.13 126.42h1.17v5.14h-1.17zM128.36 126.42h1.17v5.14h-1.17zM129.48 126.42h1.17v5.14h-1.17zM130.59 126.42h1.17v5.14h-1.17zM136.16 126.42h1.17v5.14h-1.17zM153.99 126.42h1.17v5.14h-1.17zM159.57 126.42h1.17v5.14h-1.17zM170.71 126.42h1.17v5.14h-1.17zM69.29 131.51h1.17v5.14h-1.17zM74.86 131.51h1.17v5.14h-1.17zM75.98 131.51h1.17v5.14h-1.17zM78.21 131.51h1.17v5.14h-1.17zM89.35 131.51h1.17v5.14h-1.17zM90.47 131.51h1.17v5.14h-1.17zM92.7 131.51h1.17v5.14h-1.17zM106.07 131.51h1.17v5.14h-1.17zM114.99 131.51h1.17v5.14h-1.17zM120.56 131.51h1.17v5.14h-1.17zM131.7 131.51h1.17v5.14h-1.17zM140.62 131.51h1.17v5.14h-1.17zM149.54 131.51h1.17v5.14h-1.17zM156.22 131.51h1.17v5.14h-1.17zM157.34 131.51h1.17v5.14h-1.17zM162.91 131.51h1.17v5.14h-1.17zM165.14 131.51h1.17v5.14h-1.17zM170.71 131.51h1.17v5.14h-1.17zM176.29 131.51h1.17v5.14h-1.17zM63.72 136.59h1.17v5.14h-1.17zM65.95 136.59h1.17v5.14h-1.17zM80.44 136.59h1.17v5.14h-1.17zM84.89 136.59h1.17v5.14h-1.17zM91.58 136.59h1.17v5.14h-1.17zM92.7 136.59h1.17v5.14h-1.17zM101.61 136.59h1.17v5.14h-1.17zM102.73 136.59h1.17v5.14h-1.17zM106.07 136.59h1.17v5.14h-1.17zM157.34 136.59h1.17v5.14h-1.17zM158.45 136.59h1.17v5.14h-1.17zM61.49 141.68h1.17v5.14h-1.17zM63.72 141.68h1.17v5.14h-1.17zM67.06 141.68h1.17v5.14h-1.17zM69.29 141.68h1.17v5.14h-1.17zM73.75 141.68h1.17v5.14h-1.17zM74.86 141.68h1.17v5.14h-1.17zM83.78 141.68h1.17v5.14h-1.17zM96.04 141.68h1.17v5.14h-1.17zM100.5 141.68h1.17v5.14h-1.17zM106.07 141.68h1.17v5.14h-1.17zM112.76 141.68h1.17v5.14h-1.17zM113.87 141.68h1.17v5.14h-1.17zM123.9 141.68h1.17v5.14h-1.17zM126.13 141.68h1.17v5.14h-1.17zM128.36 141.68h1.17v5.14h-1.17zM136.16 141.68h1.17v5.14h-1.17zM138.39 141.68h1.17v5.14h-1.17zM161.8 141.68h1.17v5.14h-1.17zM49.23 146.76h1.17v5.14h-1.17zM59.26 146.76h1.17v5.14h-1.17zM61.49 146.76h1.17v5.14h-1.17zM64.83 146.76h1.17v5.14h-1.17zM84.89 146.76h1.17v5.14h-1.17zM92.7 146.76h1.17v5.14h-1.17zM100.5 146.76h1.17v5.14h-1.17zM114.99 146.76h1.17v5.14h-1.17zM118.33 146.76h1.17v5.14h-1.17zM133.93 146.76h1.17v5.14h-1.17zM137.28 146.76h1.17v5.14h-1.17zM146.19 146.76h1.17v5.14h-1.17zM169.6 146.76h1.17v5.14h-1.17zM49.23 151.84h1.17v5.14h-1.17zM68.18 151.84h1.17v5.14h-1.17zM77.09 151.84h1.17v5.14h-1.17zM79.32 151.84h1.17v5.14h-1.17zM96.04 151.84h1.17v5.14h-1.17zM139.51 151.84h1.17v5.14h-1.17zM150.65 151.84h1.17v5.14h-1.17zM155.11 151.84h1.17v5.14h-1.17zM68.18 156.93h1.17v5.14h-1.17zM101.61 156.93h1.17v5.14h-1.17zM102.73 156.93h1.17v5.14h-1.17zM108.3 156.93h1.17v5.14h-1.17zM117.22 156.93h1.17v5.14h-1.17zM125.02 156.93h1.17v5.14h-1.17zM160.68 156.93h1.17v5.14h-1.17zM67.06 162.01h1.17v5.14h-1.17zM72.63 162.01h1.17v5.14h-1.17zM73.75 162.01h1.17v5.14h-1.17zM77.09 162.01h1.17v5.14h-1.17zM78.21 162.01h1.17v5.14h-1.17zM83.78 162.01h1.17v5.14h-1.17zM87.12 162.01h1.17v5.14h-1.17zM90.47 162.01h1.17v5.14h-1.17zM108.3 162.01h1.17v5.14h-1.17zM112.76 162.01h1.17v5.14h-1.17zM120.56 162.01h1.17v5.14h-1.17zM129.48 162.01h1.17v5.14h-1.17zM137.28 162.01h1.17v5.14h-1.17zM143.96 162.01h1.17v5.14h-1.17zM146.19 162.01h1.17v5.14h-1.17zM150.65 162.01h1.17v5.14h-1.17zM170.71 162.01h1.17v5.14h-1.17zM81.55 167.1h1.17v5.14h-1.17zM96.04 167.1h1.17v5.14h-1.17zM108.3 167.1h1.17v5.14h-1.17zM114.99 167.1h1.17v5.14h-1.17zM120.56 167.1h1.17v5.14h-1.17zM122.79 167.1h1.17v5.14h-1.17zM126.13 167.1h1.17v5.14h-1.17zM137.28 167.1h1.17v5.14h-1.17zM143.96 167.1h1.17v5.14h-1.17zM168.48 167.1h1.17v5.14h-1.17zM172.94 167.1h1.17v5.14h-1.17zM65.95 172.18h1.17v5.14h-1.17zM79.32 172.18h1.17v5.14h-1.17zM90.47 172.18h1.17v5.14h-1.17zM102.73 172.18h1.17v5.14h-1.17zM103.84 172.18h1.17v5.14h-1.17zM120.56 172.18h1.17v5.14h-1.17zM125.02 172.18h1.17v5.14h-1.17zM138.39 172.18h1.17v5.14h-1.17zM146.19 172.18h1.17v5.14h-1.17zM150.65 172.18h1.17v5.14h-1.17zM156.22 172.18h1.17v5.14h-1.17zM162.91 172.18h1.17v5.14h-1.17zM165.14 172.18h1.17v5.14h-1.17zM167.37 172.18h1.17v5.14h-1.17zM172.94 172.18h1.17v5.14h-1.17zM81.55 177.26h1.17v5.14h-1.17zM121.67 177.26h1.17v5.14h-1.17zM130.59 177.26h1.17v5.14h-1.17zM135.05 177.26h1.17v5.14h-1.17zM146.19 177.26h1.17v5.14h-1.17zM148.42 177.26h1.17v5.14h-1.17zM151.77 177.26h1.17v5.14h-1.17zM152.88 177.26h1.17v5.14h-1.17zM153.99 177.26h1.17v5.14h-1.17zM159.57 177.26h1.17v5.14h-1.17zM169.6 177.26h1.17v5.14h-1.17zM51.46 182.35h1.17v5.14h-1.17zM90.47 182.35h1.17v5.14h-1.17zM92.7 182.35h1.17v5.14h-1.17zM94.92 182.35h1.17v5.14h-1.17zM97.15 182.35h1.17v5.14h-1.17zM100.5 182.35h1.17v5.14h-1.17zM102.73 182.35h1.17v5.14h-1.17zM119.44 182.35h1.17v5.14h-1.17zM138.39 182.35h1.17v5.14h-1.17zM151.77 182.35h1.17v5.14h-1.17zM153.99 182.35h1.17v5.14h-1.17zM165.14 182.35h1.17v5.14h-1.17zM166.25 182.35h1.17v5.14h-1.17zM175.17 182.35h1.17v5.14h-1.17zM176.29 182.35h1.17v5.14h-1.17zM67.06 187.43h1.17v5.14h-1.17zM69.29 187.43h1.17v5.14h-1.17zM80.44 187.43h1.17v5.14h-1.17zM83.78 187.43h1.17v5.14h-1.17zM90.47 187.43h1.17v5.14h-1.17zM99.38 187.43h1.17v5.14h-1.17zM101.61 187.43h1.17v5.14h-1.17zM113.87 187.43h1.17v5.14h-1.17zM133.93 187.43h1.17v5.14h-1.17zM135.05 187.43h1.17v5.14h-1.17zM140.62 187.43h1.17v5.14h-1.17zM156.22 187.43h1.17v5.14h-1.17zM161.8 187.43h1.17v5.14h-1.17zM172.94 187.43h1.17v5.14h-1.17zM174.06 187.43h1.17v5.14h-1.17zM60.37 192.52h1.17v5.14h-1.17zM62.6 192.52h1.17v5.14h-1.17zM86.01 192.52h1.17v5.14h-1.17zM108.3 192.52h1.17v5.14h-1.17zM112.76 192.52h1.17v5.14h-1.17zM116.1 192.52h1.17v5.14h-1.17zM130.59 192.52h1.17v5.14h-1.17zM148.42 192.52h1.17v5.14h-1.17zM171.83 192.52h1.17v5.14h-1.17z"/>
<path fill="#e8eef4" d="M58.15 70.5h1.17v5.14h-1.17zM62.6 70.5h1.17v5.14h-1.17zM63.72 70.5h1.17v5.14h-1.17zM69.29 70.5h1.17v5.14h-1.17zM73.75 70.5h1.17v5.14h-1.17zM83.78 70.5h1.17v5.14h-1.17zM99.38 70.5h1.17v5.14h-1.17zM100.5 70.5h1.17v5.14h-1.17zM114.99 70.5h1.17v5.14h-1.17zM116.1 70.5h1.17v5.14h-1.17zM119.44 70.5h1.17v5.14h-1.17zM130.59 70.5h1.17v5.14h-1.17zM153.99 70.5h1.17v5.14h-1.17zM51.46 75.58h1.17v5.14h-1.17zM54.8 75.58h1.17v5.14h-1.17zM55.92 75.58h1.17v5.14h-1.17zM57.03 75.58h1.17v5.14h-1.17zM60.37 75.58h1.17v5.14h-1.17zM62.6 75.58h1.17v5.14h-1.17zM70.41 75.58h1.17v5.14h-1.17zM89.35 75.58h1.17v5.14h-1.17zM90.47 75.58h1.17v5.14h-1.17zM91.58 75.58h1.17v5.14h-1.17zM102.73 75.58h1.17v5.14h-1.17zM103.84 75.58h1.17v5.14h-1.17zM142.85 75.58h1.17v5.14h-1.17zM148.42 75.58h1.17v5.14h-1.17zM160.68 75.58h1.17v5.14h-1.17zM65.95 80.67h1.17v5.14h-1.17zM68.18 80.67h1.17v5.14h-1.17zM72.63 80.67h1.17v5.14h-1.17zM75.98 80.67h1.17v5.14h-1.17zM84.89 80.67h1.17v5.14h-1.17zM97.15 80.67h1.17v5.14h-1.17zM106.07 80.67h1.17v5.14h-1.17zM110.53 80.67h1.17v5.14h-1.17zM123.9 80.67h1.17v5.14h-1.17zM147.31 80.67h1.17v5.14h-1.17zM148.42 80.67h1.17v5.14h-1.17zM53.69 85.75h1.17v5.14h-1.17zM64.83 85.75h1.17v5.14h-1.17zM68.18 85.75h1.17v5.14h-1.17zM71.52 85.75h1.17v5.14h-1.17zM72.63 85.75h1.17v5.14h-1.17zM74.86 85.75h1.17v5.14h-1.17zM77.09 85.75h1.17v5.14h-1.17zM82.66 85.75h1.17v5.14h-1.17zM94.92 85.75h1.17v5.14h-1.17zM112.76 85.75h1.17v5.14h-1.17zM123.9 85.75h1.17v5.14h-1.17zM142.85 85.75h1.17v5.14h-1.17zM148.42 85.75h1.17v5.14h-1.17zM158.45 85.75h1.17v5.14h-1.17zM169.6 85.75h1.17v5.14h-1.17zM59.26 90.84h1.17v5.14h-1.17zM62.6 90.84h1.17v5.14h-1.17zM67.06 90.84h1.17v5.14h-1.17zM69.29 90.84h1.17v5.14h-1.17zM72.63 90.84h1.17v5.14h-1.17zM78.21 90.84h1.17v5.14h-1.17zM79.32 90.84h1.17v5.14h-1.17zM82.66 90.84h1.17v5.14h-1.17zM84.89 90.84h1.17v5.14h-1.17zM86.01 90.84h1.17v5.14h-1.17zM91.58 90.84h1.17v5.14h-1.17zM94.92 90.84h1.17v5.14h-1.17zM99.38 90.84h1.17v5.14h-1.17zM101.61 90.84h1.17v5.14h-1.17zM133.93 90.84h1.17v5.14h-1.17zM141.74 90.84h1.17v5.14h-1.17zM143.96 90.84h1.17v5.14h-1.17zM145.08 90.84h1.17v5.14h-1.17zM149.54 90.84h1.17v5.14h-1.17zM49.23 95.92h1.17v5.14h-1.17zM50.34 95.92h1.17v5.14h-1.17zM53.69 95.92h1.17v5.14h-1.17zM69.29 95.92h1.17v5.14h-1.17zM77.09 95.92h1.17v5.14h-1.17zM79.32 95.92h1.17v5.14h-1.17zM83.78 95.92h1.17v5.14h-1.17zM93.81 95.92h1.17v5.14h-1.17zM104.96 95.92h1.17v5.14h-1.17zM127.25 95.92h1.17v5.14h-1.17zM137.28 95.92h1.17v5.14h-1.17zM138.39 95.92h1.17v5.14h-1.17zM148.42 95.92h1.17v5.14h-1.17zM158.45 95.92h1.17v5.14h-1.17zM170.71 95.92h1.17v5.14h-1.17zM49.23 101h1.17v5.14h-1.17zM55.92 101h1.17v5.14h-1.17zM63.72 101h1.17v5.14h-1.17zM64.83 101h1.17v5.14h-1.17zM83.78 101h1.17v5.14h-1.17zM88.24 101h1.17v5.14h-1.17zM96.04 101h1.17v5.14h-1.17zM99.38 101h1.17v5.14h-1.17zM101.61 101h1.17v5.14h-1.17zM119.44 101h1.17v5.14h-1.17zM123.9 101h1.17v5.14h-1.17zM127.25 101h1.17v5.14h-1.17zM130.59 101h1.17v5.14h-1.17zM139.51 101h1.17v5.14h-1.17zM146.19 101h1.17v5.14h-1.17zM147.31 101h1.17v5.14h-1.17zM158.45 101h1.17v5.14h-1.17zM47 106.09h1.17v5.14h-1.17zM52.57 106.09h1.17v5.14h-1.17zM57.03 106.09h1.17v5.14h-1.17zM65.95 106.09h1.17v5.14h-1.17zM68.18 106.09h1.17v5.14h-1.17zM78.21 106.09h1.17v5.14h-1.17zM82.66 106.09h1.17v5.14h-1.17zM93.81 106.09h1.17v5.14h-1.17zM96.04 106.09h1.17v5.14h-1.17zM102.73 106.09h1.17v5.14h-1.17zM112.76 106.09h1.17v5.14h-1.17zM113.87 106.09h1.17v5.14h-1.17zM117.22 106.09h1.17v5.14h-1.17zM118.33 106.09h1.17v5.14h-1.17zM119.44 106.09h1.17v5.14h-1.17zM129.48 106.09h1.17v5.14h-1.17zM132.82 106.09h1.17v5.14h-1.17zM137.28 106.09h1.17v5.14h-1.17zM139.51 106.09h1.17v5.14h-1.17zM147.31 106.09h1.17v5.14h-1.17zM155.11 106.09h1.17v5.14h-1.17zM164.03 106.09h1.17v5.14h-1.17zM55.92 111.17h1.17v5.14h-1.17zM58.15 111.17h1.17v5.14h-1.17zM68.18 111.17h1.17v5.14h-1.17zM75.98 111.17h1.17v5.14h-1.17zM77.09 111.17h1.17v5.14h-1.17zM100.5 111.17h1.17v5.14h-1.17zM107.18 111.17h1.17v5.14h-1.17zM109.41 111.17h1.17v5.14h-1.17zM110.53 111.17h1.17v5.14h-1.17zM113.87 111.17h1.17v5.14h-1.17zM137.28 111.17h1.17v5.14h-1.17zM139.51 111.17h1.17v5.14h-1.17zM141.74 111.17h1.17v5.14h-1.17zM153.99 111.17h1.17v5.14h-1.17zM161.8 111.17h1.17v5.14h-1.17zM164.03 111.17h1.17v5.14h-1.17zM166.25 111.17h1.17v5.14h-1.17zM49.23 116.26h1.17v5.14h-1.17zM52.57 116.26h1.17v5.14h-1.17zM59.26 116.26h1.17v5.14h-1.17zM60.37 116.26h1.17v5.14h-1.17zM62.6 116.26h1.17v5.14h-1.17zM67.06 116.26h1.17v5.14h-1.17zM70.41 116.26h1.17v5.14h-1.17zM71.52 116.26h1.17v5.14h-1.17zM73.75 116.26h1.17v5.14h-1.17zM80.44 116.26h1.17v5.14h-1.17zM98.27 116.26h1.17v5.14h-1.17zM122.79 116.26h1.17v5.14h-1.17zM123.9 116.26h1.17v5.14h-1.17zM143.96 116.26h1.17v5.14h-1.17zM147.31 116.26h1.17v5.14h-1.17zM165.14 116.26h1.17v5.14h-1.17zM170.71 116.26h1.17v5.14h-1.17zM171.83 116.26h1.17v5.14h-1.17zM53.69 121.34h1.17v5.14h-1.17zM58.15 121.34h1.17v5.14h-1.17zM59.26 121.34h1.17v5.14h-1.17zM65.95 121.34h1.17v5.14h-1.17zM98.27 121.34h1.17v5.14h-1.17zM102.73 121.34h1.17v5.14h-1.17zM108.3 121.34h1.17v5.14h-1.17zM121.67 121.34h1.17v5.14h-1.17zM123.9 121.34h1.17v5.14h-1.17zM149.54 121.34h1.17v5.14h-1.17zM151.77 121.34h1.17v5.14h-1.17zM152.88 121.34h1.17v5.14h-1.17zM153.99 121.34h1.17v5.14h-1.17zM164.03 121.34h1.17v5.14h-1.17zM52.57 126.42h1.17v5.14h-1.17zM65.95 126.42h1.17v5.14h-1.17zM69.29 126.42h1.17v5.14h-1.17zM70.41 126.42h1.17v5.14h-1.17zM73.75 126.42h1.17v5.14h-1.17zM80.44 126.42h1.17v5.14h-1.17zM81.55 126.42h1.17v5.14h-1.17zM88.24 126.42h1.17v5.14h-1.17zM92.7 126.42h1.17v5.14h-1.17zM108.3 126.42h1.17v5.14h-1.17zM117.22 126.42h1.17v5.14h-1.17zM123.9 126.42h1.17v5.14h-1.17zM125.02 126.42h1.17v5.14h-1.17zM145.08 126.42h1.17v5.14h-1.17zM49.23 131.51h1.17v5.14h-1.17zM70.41 131.51h1.17v5.14h-1.17zM82.66 131.51h1.17v5.14h-1.17zM84.89 131.51h1.17v5.14h-1.17zM104.96 131.51h1.17v5.14h-1.17zM111.64 131.51h1.17v5.14h-1.17zM128.36 131.51h1.17v5.14h-1.17zM138.39 131.51h1.17v5.14h-1.17zM143.96 131.51h1.17v5.14h-1.17zM151.77 131.51h1.17v5.14h-1.17zM160.68 131.51h1.17v5.14h-1.17zM171.83 131.51h1.17v5.14h-1.17zM48.11 136.59h1.17v5.14h-1.17zM58.15 136.59h1.17v5.14h-1.17zM60.37 136.59h1.17v5.14h-1.17zM88.24 136.59h1.17v5.14h-1.17zM90.47 136.59h1.17v5.14h-1.17zM96.04 136.59h1.17v5.14h-1.17zM107.18 136.59h1.17v5.14h-1.17zM108.3 136.59h1.17v5.14h-1.17zM110.53 136.59h1.17v5.14h-1.17zM122.79 136.59h1.17v5.14h-1.17zM130.59 136.59h1.17v5.14h-1.17zM132.82 136.59h1.17v5.14h-1.17zM133.93 136.59h1.17v5.14h-1.17zM147.31 136.59h1.17v5.14h-1.17zM149.54 136.59h1.17v5.14h-1.17zM72.63 141.68h1.17v5.14h-1.17zM97.15 141.68h1.17v5.14h-1.17zM102.73 141.68h1.17v5.14h-1.17zM110.53 141.68h1.17v5.14h-1.17zM148.42 141.68h1.17v5.14h-1.17zM149.54 141.68h1.17v5.14h-1.17zM150.65 141.68h1.17v5.14h-1.17zM157.34 141.68h1.17v5.14h-1.17zM158.45 141.68h1.17v5.14h-1.17zM48.11 146.76h1.17v5.14h-1.17zM54.8 146.76h1.17v5.14h-1.17zM65.95 146.76h1.17v5.14h-1.17zM68.18 146.76h1.17v5.14h-1.17zM73.75 146.76h1.17v5.14h-1.17zM83.78 146.76h1.17v5.14h-1.17zM98.27 146.76h1.17v5.14h-1.17zM99.38 146.76h1.17v5.14h-1.17zM119.44 146.76h1.17v5.14h-1.17zM120.56 146.76h1.17v5.14h-1.17zM123.9 146.76h1.17v5.14h-1.17zM145.08 146.76h1.17v5.14h-1.17zM160.68 146.76h1.17v5.14h-1.17zM165.14 146.76h1.17v5.14h-1.17zM52.57 151.84h1.17v5.14h-1.17zM55.92 151.84h1.17v5.14h-1.17zM62.6 151.84h1.17v5.14h-1.17zM64.83 151.84h1.17v5.14h-1.17zM67.06 151.84h1.17v5.14h-1.17zM73.75 151.84h1.17v5.14h-1.17zM74.86 151.84h1.17v5.14h-1.17zM82.66 151.84h1.17v5.14h-1.17zM103.84 151.84h1.17v5.14h-1.17zM107.18 151.84h1.17v5.14h-1.17zM119.44 151.84h1.17v5.14h-1.17zM123.9 151.84h1.17v5.14h-1.17zM126.13 151.84h1.17v5.14h-1.17zM136.16 151.84h1.17v5.14h-1.17zM143.96 151.84h1.17v5.14h-1.17zM147.31 151.84h1.17v5.14h-1.17zM176.29 151.84h1.17v5.14h-1.17zM60.37 156.93h1.17v5.14h-1.17zM62.6 156.93h1.17v5.14h-1.17zM64.83 156.93h1.17v5.14h-1.17zM65.95 156.93h1.17v5.14h-1.17zM67.06 156.93h1.17v5.14h-1.17zM72.63 156.93h1.17v5.14h-1.17zM81.55 156.93h1.17v5.14h-1.17zM96.04 156.93h1.17v5.14h-1.17zM103.84 156.93h1.17v5.14h-1.17zM113.87 156.93h1.17v5.14h-1.17zM116.1 156.93h1.17v5.14h-1.17zM119.44 156.93h1.17v5.14h-1.17zM133.93 156.93h1.17v5.14h-1.17zM143.96 156.93h1.17v5.14h-1.17zM151.77 156.93h1.17v5.14h-1.17zM152.88 156.93h1.17v5.14h-1.17zM153.99 156.93h1.17v5.14h-1.17zM158.45 156.93h1.17v5.14h-1.17zM168.48 156.93h1.17v5.14h-1.17zM175.17 156.93h1.17v5.14h-1.17zM47 162.01h1.17v5.14h-1.17zM70.41 162.01h1.17v5.14h-1.17zM82.66 162.01h1.17v5.14h-1.17zM99.38 162.01h1.17v5.14h-1.17zM103.84 162.01h1.17v5.14h-1.17zM104.96 162.01h1.17v5.14h-1.17zM125.02 162.01h1.17v5.14h-1.17zM126.13 162.01h1.17v5.14h-1.17zM136.16 162.01h1.17v5.14h-1.17zM140.62 162.01h1.17v5.14h-1.17zM149.54 162.01h1.17v5.14h-1.17zM155.11 162.01h1.17v5.14h-1.17zM159.57 162.01h1.17v5.14h-1.17zM160.68 162.01h1.17v5.14h-1.17zM162.91 162.01h1.17v5.14h-1.17zM172.94 162.01h1.17v5.14h-1.17zM47 167.1h1.17v5.14h-1.17zM48.11 167.1h1.17v5.14h-1.17zM53.69 167.1h1.17v5.14h-1.17zM54.8 167.1h1.17v5.14h-1.17zM58.15 167.1h1.17v5.14h-1.17zM67.06 167.1h1.17v5.14h-1.17zM68.18 167.1h1.17v5.14h-1.17zM79.32 167.1h1.17v5.14h-1.17zM88.24 167.1h1.17v5.14h-1.17zM94.92 167.1h1.17v5.14h-1.17zM102.73 167.1h1.17v5.14h-1.17zM107.18 167.1h1.17v5.14h-1.17zM117.22 167.1h1.17v5.14h-1.17zM119.44 167.1h1.17v5.14h-1.17zM123.9 167.1h1.17v5.14h-1.17zM127.25 167.1h1.17v5.14h-1.17zM129.48 167.1h1.17v5.14h-1.17zM131.7 167.1h1.17v5.14h-1.17zM132.82 167.1h1.17v5.14h-1.17zM138.39 167.1h1.17v5.14h-1.17zM139.51 167.1h1.17v5.14h-1.17zM150.65 167.1h1.17v5.14h-1.17zM152.88 167.1h1.17v5.14h-1.17zM157.34 167.1h1.17v5.14h-1.17zM68.18 172.18h1.17v5.14h-1.17zM88.24 172.18h1.17v5.14h-1.17zM89.35 172.18h1.17v5.14h-1.17zM97.15 172.18h1.17v5.14h-1.17zM99.38 172.18h1.17v5.14h-1.17zM110.53 172.18h1.17v5.14h-1.17zM112.76 172.18h1.17v5.14h-1.17zM113.87 172.18h1.17v5.14h-1.17zM119.44 172.18h1.17v5.14h-1.17zM121.67 172.18h1.17v5.14h-1.17zM127.25 172.18h1.17v5.14h-1.17zM129.48 172.18h1.17v5.14h-1.17zM135.05 172.18h1.17v5.14h-1.17zM137.28 172.18h1.17v5.14h-1.17zM164.03 172.18h1.17v5.14h-1.17zM169.6 172.18h1.17v5.14h-1.17zM170.71 172.18h1.17v5.14h-1.17zM55.92 177.26h1.17v5.14h-1.17zM60.37 177.26h1.17v5.14h-1.17zM67.06 177.26h1.17v5.14h-1.17zM80.44 177.26h1.17v5.14h-1.17zM89.35 177.26h1.17v5.14h-1.17zM99.38 177.26h1.17v5.14h-1.17zM102.73 177.26h1.17v5.14h-1.17zM108.3 177.26h1.17v5.14h-1.17zM117.22 177.26h1.17v5.14h-1.17zM127.25 177.26h1.17v5.14h-1.17zM128.36 177.26h1.17v5.14h-1.17zM131.7 177.26h1.17v5.14h-1.17zM138.39 177.26h1.17v5.14h-1.17zM142.85 177.26h1.17v5.14h-1.17zM145.08 177.26h1.17v5.14h-1.17zM158.45 177.26h1.17v5.14h-1.17zM73.75 182.35h1.17v5.14h-1.17zM79.32 182.35h1.17v5.14h-1.17zM110.53 182.35h1.17v5.14h-1.17zM111.64 182.35h1.17v5.14h-1.17zM112.76 182.35h1.17v5.14h-1.17zM114.99 182.35h1.17v5.14h-1.17zM118.33 182.35h1.17v5.14h-1.17zM131.7 182.35h1.17v5.14h-1.17zM133.93 182.35h1.17v5.14h-1.17zM141.74 182.35h1.17v5.14h-1.17zM142.85 182.35h1.17v5.14h-1.17zM146.19 182.35h1.17v5.14h-1.17zM148.42 182.35h1.17v5.14h-1.17zM155.11 182.35h1.17v5.14h-1.17zM170.71 182.35h1.17v5.14h-1.17zM64.83 187.43h1.17v5.14h-1.17zM68.18 187.43h1.17v5.14h-1.17zM75.98 187.43h1.17v5.14h-1.17zM77.09 187.43h1.17v5.14h-1.17zM81.55 187.43h1.17v5.14h-1.17zM82.66 187.43h1.17v5.14h-1.17zM102.73 187.43h1.17v5.14h-1.17zM106.07 187.43h1.17v5.14h-1.17zM111.64 187.43h1.17v5.14h-1.17zM127.25 187.43h1.17v5.14h-1.17zM132.82 187.43h1.17v5.14h-1.17zM139.51 187.43h1.17v5.14h-1.17zM141.74 187.43h1.17v5.14h-1.17zM143.96 187.43h1.17v5.14h-1.17zM145.08 187.43h1.17v5.14h-1.17zM148.42 187.43h1.17v5.14h-1.17zM49.23 192.52h1.17v5.14h-1.17zM50.34 192.52h1.17v5.14h-1.17zM59.26 192.52h1.17v5.14h-1.17zM64.83 192.52h1.17v5.14h-1.17zM68.18 192.52h1.17v5.14h-1.17zM72.63 192.52h1.17v5.14h-1.17zM75.98 192.52h1.17v5.14h-1.17zM90.47 192.52h1.17v5.14h-1.17zM96.04 192.52h1.17v5.14h-1.17zM99.38 192.52h1.17v5.14h-1.17zM111.64 192.52h1.17v5.14h-1.17zM133.93 192.52h1.17v5.14h-1.17zM149.54 192.52h1.17v5.14h-1.17zM151.77 192.52h1.17v5.14h-1.17zM155.11 192.52h1.17v5.14h-1.17zM172.94 192.52h1.17v5.14h-1.17z"/>
<path fill="#fafafa" d="M53.69 70.5h1.17v5.14h-1.17zM55.92 70.5h1.17v5.14h-1.17zM61.49 70.5h1.17v5.14h-1.17zM71.52 70.5h1.17v5.14h-1.17zM74.86 70.5h1.17v5.14h-1.17zM78.21 70.5h1.17v5.14h-1.17zM84.89 70.5h1.17v5.14h-1.17zM86.01 70.5h1.17v5.14h-1.17zM92.7 70.5h1.17v5.14h-1.17zM93.81 70.5h1.17v5.14h-1.17zM96.04 70.5h1.17v5.14h-1.17zM103.84 70.5h1.17v5.14h-1.17zM111.64 70.5h1.17v5.14h-1.17zM148.42 70.5h1.17v5.14h-1.17zM167.37 70.5h1.17v5.14h-1.17zM171.83 70.5h1.17v5.14h-1.17zM48.11 75.58h1.17v5.14h-1.17zM53.69 75.58h1.17v5.14h-1.17zM58.15 75.58h1.17v5.14h-1.17zM61.49 75.58h1.17v5.14h-1.17zM63.72 75.58h1.17v5.14h-1.17zM64.83 75.58h1.17v5.14h-1.17zM67.06 75.58h1.17v5.14h-1.17zM73.75 75.58h1.17v5.14h-1.17zM78.21 75.58h1.17v5.14h-1.17zM79.32 75.58h1.17v5.14h-1.17zM80.44 75.58h1.17v5.14h-1.17zM83.78 75.58h1.17v5.14h-1.17zM87.12 75.58h1.17v5.14h-1.17zM97.15 75.58h1.17v5.14h-1.17zM112.76 75.58h1.17v5.14h-1.17zM114.99 75.58h1.17v5.14h-1.17zM118.33 75.58h1.17v5.14h-1.17zM119.44 75.58h1.17v5.14h-1.17zM122.79 75.58h1.17v5.14h-1.17zM127.25 75.58h1.17v5.14h-1.17zM156.22 75.58h1.17v5.14h-1.17zM166.25 75.58h1.17v5.14h-1.17zM50.34 80.67h1.17v5.14h-1.17zM70.41 80.67h1.17v5.14h-1.17zM73.75 80.67h1.17v5.14h-1.17zM87.12 80.67h1.17v5.14h-1.17zM122.79 80.67h1.17v5.14h-1.17zM132.82 80.67h1.17v5.14h-1.17zM137.28 80.67h1.17v5.14h-1.17zM141.74 80.67h1.17v5.14h-1.17zM143.96 80.67h1.17v5.14h-1.17zM164.03 80.67h1.17v5.14h-1.17zM168.48 80.67h1.17v5.14h-1.17zM172.94 80.67h1.17v5.14h-1.17zM176.29 80.67h1.17v5.14h-1.17zM49.23 85.75h1.17v5.14h-1.17zM51.46 85.75h1.17v5.14h-1.17zM58.15 85.75h1.17v5.14h-1.17zM61.49 85.75h1.17v5.14h-1.17zM62.6 85.75h1.17v5.14h-1.17zM63.72 85.75h1.17v5.14h-1.17zM73.75 85.75h1.17v5.14h-1.17zM75.98 85.75h1.17v5.14h-1.17zM79.32 85.75h1.17v5.14h-1.17zM81.55 85.75h1.17v5.14h-1.17zM83.78 85.75h1.17v5.14h-1.17zM87.12 85.75h1.17v5.14h-1.17zM100.5 85.75h1.17v5.14h-1.17zM103.84 85.75h1.17v5.14h-1.17zM110.53 85.75h1.17v5.14h-1.17zM117.22 85.75h1.17v5.14h-1.17zM120.56 85.75h1.17v5.14h-1.17zM121.67 85.75h1.17v5.14h-1.17zM127.25 85.75h1.17v5.14h-1.17zM139.51 85.75h1.17v5.14h-1.17zM146.19 85.75h1.17v5.14h-1.17zM152.88 85.75h1.17v5.14h-1.17zM170.71 85.75h1.17v5.14h-1.17zM55.92 90.84h1.17v5.14h-1.17zM65.95 90.84h1.17v5.14h-1.17zM74.86 90.84h1.17v5.14h-1.17zM75.98 90.84h1.17v5.14h-1.17zM80.44 90.84h1.17v5.14h-1.17zM88.24 90.84h1.17v5.14h-1.17zM97.15 90.84h1.17v5.14h-1.17zM103.84 90.84h1.17v5.14h-1.17zM117.22 90.84h1.17v5.14h-1.17zM125.02 90.84h1.17v5.14h-1.17zM126.13 90.84h1.17v5.14h-1.17zM128.36 90.84h1.17v5.14h-1.17zM139.51 90.84h1.17v5.14h-1.17zM156.22 90.84h1.17v5.14h-1.17zM160.68 90.84h1.17v5.14h-1.17zM175.17 90.84h1.17v5.14h-1.17zM63.72 95.92h1.17v5.14h-1.17zM64.83 95.92h1.17v5.14h-1.17zM65.95 95.92h1.17v5.14h-1.17zM73.75 95.92h1.17v5.14h-1.17zM74.86 95.92h1.17v5.14h-1.17zM75.98 95.92h1.17v5.14h-1.17zM78.21 95.92h1.17v5.14h-1.17zM91.58 95.92h1.17v5.14h-1.17zM96.04 95.92h1.17v5.14h-1.17zM99.38 95.92h1.17v5.14h-1.17zM106.07 95.92h1.17v5.14h-1.17zM107.18 95.92h1.17v5.14h-1.17zM112.76 95.92h1.17v5.14h-1.17zM113.87 95.92h1.17v5.14h-1.17zM120.56 95.92h1.17v5.14h-1.17zM125.02 95.92h1.17v5.14h-1.17zM147.31 95.92h1.17v5.14h-1.17zM152.88 95.92h1.17v5.14h-1.17zM156.22 95.92h1.17v5.14h-1.17zM162.91 95.92h1.17v5.14h-1.17zM168.48 95.92h1.17v5.14h-1.17zM58.15 101h1.17v5.14h-1.17zM73.75 101h1.17v5.14h-1.17zM74.86 101h1.17v5.14h-1.17zM77.09 101h1.17v5.14h-1.17zM87.12 101h1.17v5.14h-1.17zM93.81 101h1.17v5.14h-1.17zM94.92 101h1.17v5.14h-1.17zM114.99 101h1.17v5.14h-1.17zM118.33 101h1.17v5.14h-1.17zM121.67 101h1.17v5.14h-1.17zM125.02 101h1.17v5.14h-1.17zM131.7 101h1.17v5.14h-1.17zM133.93 101h1.17v5.14h-1.17zM141.74 101h1.17v5.14h-1.17zM152.88 101h1.17v5.14h-1.17zM159.57 101h1.17v5.14h-1.17zM160.68 101h1.17v5.14h-1.17zM164.03 101h1.17v5.14h-1.17zM48.11 106.09h1.17v5.14h-1.17zM49.23 106.09h1.17v5.14h-1.17zM61.49 106.09h1.17v5.14h-1.17zM84.89 106.09h1.17v5.14h-1.17zM89.35 106.09h1.17v5.14h-1.17zM99.38 106.09h1.17v5.14h-1.17zM106.07 106.09h1.17v5.14h-1.17zM110.53 106.09h1.17v5.14h-1.17zM116.1 106.09h1.17v5.14h-1.17zM128.36 106.09h1.17v5.14h-1.17zM143.96 106.09h1.17v5.14h-1.17zM146.19 106.09h1.17v5.14h-1.17zM62.6 111.17h1.17v5.14h-1.17zM64.83 111.17h1.17v5.14h-1.17zM70.41 111.17h1.17v5.14h-1.17zM74.86 111.17h1.17v5.14h-1.17zM78.21 111.17h1.17v5.14h-1.17zM90.47 111.17h1.17v5.14h-1.17zM92.7 111.17h1.17v5.14h-1.17zM94.92 111.17h1.17v5.14h-1.17zM96.04 111.17h1.17v5.14h-1.17zM99.38 111.17h1.17v5.14h-1.17zM101.61 111.17h1.17v5.14h-1.17zM108.3 111.17h1.17v5.14h-1.17zM111.64 111.17h1.17v5.14h-1.17zM114.99 111.17h1.17v5.14h-1.17zM117.22 111.17h1.17v5.14h-1.17zM119.44 111.17h1.17v5.14h-1.17zM122.79 111.17h1.17v5.14h-1.17zM130.59 111.17h1.17v5.14h-1.17zM136.16 111.17h1.17v5.14h-1.17zM160.68 111.17h1.17v5.14h-1.17zM169.6 111.17h1.17v5.14h-1.17zM170.71 111.17h1.17v5.14h-1.17zM172.94 111.17h1.17v5.14h-1.17zM176.29 111.17h1.17v5.14h-1.17zM61.49 116.26h1.17v5.14h-1.17zM68.18 116.26h1.17v5.14h-1.17zM77.09 116.26h1.17v5.14h-1.17zM86.01 116.26h1.17v5.14h-1.17zM96.04 116.26h1.17v5.14h-1.17zM103.84 116.26h1.17v5.14h-1.17zM113.87 116.26h1.17v5.14h-1.17zM116.1 116.26h1.17v5.14h-1.17zM120.56 116.26h1.17v5.14h-1.17zM132.82 116.26h1.17v5.14h-1.17zM135.05 116.26h1.17v5.14h-1.17zM146.19 116.26h1.17v5.14h-1.17zM149.54 116.26h1.17v5.14h-1.17zM152.88 116.26h1.17v5.14h-1.17zM156.22 116.26h1.17v5.14h-1.17zM167.37 116.26h1.17v5.14h-1.17zM50.34 121.34h1.17v5.14h-1.17zM63.72 121.34h1.17v5.14h-1.17zM64.83 121.34h1.17v5.14h-1.17zM84.89 121.34h1.17v5.14h-1.17zM86.01 121.34h1.17v5.14h-1.17zM94.92 121.34h1.17v5.14h-1.17zM96.04 121.34h1.17v5.14h-1.17zM101.61 121.34h1.17v5.14h-1.17zM119.44 121.34h1.17v5.14h-1.17zM126.13 121.34h1.17v5.14h-1.17zM130.59 121.34h1.17v5.14h-1.17zM138.39 121.34h1.17v5.14h-1.17zM140.62 121.34h1.17v5.14h-1.17zM142.85 121.34h1.17v5.14h-1.17zM157.34 121.34h1.17v5.14h-1.17zM174.06 121.34h1.17v5.14h-1.17zM50.34 126.42h1.17v5.14h-1.17zM57.03 126.42h1.17v5.14h-1.17zM59.26 126.42h1.17v5.14h-1.17zM63.72 126.42h1.17v5.14h-1.17zM64.83 126.42h1.17v5.14h-1.17zM89.35 126.42h1.17v5.14h-1.17zM149.54 126.42h1.17v5.14h-1.17zM151.77 126.42h1.17v5.14h-1.17zM164.03 126.42h1.17v5.14h-1.17zM172.94 126.42h1.17v5.14h-1.17zM52.57 131.51h1.17v5.14h-1.17zM55.92 131.51h1.17v5.14h-1.17zM59.26 131.51h1.17v5.14h-1.17zM60.37 131.51h1.17v5.14h-1.17zM68.18 131.51h1.17v5.14h-1.17zM71.52 131.51h1.17v5.14h-1.17zM79.32 131.51h1.17v5.14h-1.17zM81.55 131.51h1.17v5.14h-1.17zM100.5 131.51h1.17v5.14h-1.17zM101.61 131.51h1.17v5.14h-1.17zM103.84 131.51h1.17v5.14h-1.17zM109.41 131.51h1.17v5.14h-1.17zM132.82 131.51h1.17v5.14h-1.17zM133.93 131.51h1.17v5.14h-1.17zM136.16 131.51h1.17v5.14h-1.17zM137.28 131.51h1.17v5.14h-1.17zM174.06 131.51h1.17v5.14h-1.17zM51.46 136.59h1.17v5.14h-1.17zM52.57 136.59h1.17v5.14h-1.17zM54.8 136.59h1.17v5.14h-1.17zM71.52 136.59h1.17v5.14h-1.17zM75.98 136.59h1.17v5.14h-1.17zM78.21 136.59h1.17v5.14h-1.17zM94.92 136.59h1.17v5.14h-1.17zM97.15 136.59h1.17v5.14h-1.17zM98.27 136.59h1.17v5.14h-1.17zM118.33 136.59h1.17v5.14h-1.17zM125.02 136.59h1.17v5.14h-1.17zM129.48 136.59h1.17v5.14h-1.17zM146.19 136.59h1.17v5.14h-1.17zM148.42 136.59h1.17v5.14h-1.17zM152.88 136.59h1.17v5.14h-1.17zM156.22 136.59h1.17v5.14h-1.17zM169.6 136.59h1.17v5.14h-1.17zM170.71 136.59h1.17v5.14h-1.17zM50.34 141.68h1.17v5.14h-1.17zM82.66 141.68h1.17v5.14h-1.17zM86.01 141.68h1.17v5.14h-1.17zM114.99 141.68h1.17v5.14h-1.17zM116.1 141.68h1.17v5.14h-1.17zM122.79 141.68h1.17v5.14h-1.17zM143.96 141.68h1.17v5.14h-1.17zM151.77 141.68h1.17v5.14h-1.17zM159.57 141.68h1.17v5.14h-1.17zM164.03 141.68h1.17v5.14h-1.17zM175.17 141.68h1.17v5.14h-1.17zM47 146.76h1.17v5.14h-1.17zM62.6 146.76h1.17v5.14h-1.17zM67.06 146.76h1.17v5.14h-1.17zM72.63 146.76h1.17v5.14h-1.17zM74.86 146.76h1.17v5.14h-1.17zM80.44 146.76h1.17v5.14h-1.17zM81.55 146.76h1.17v5.14h-1.17zM90.47 146.76h1.17v5.14h-1.17zM93.81 146.76h1.17v5.14h-1.17zM94.92 146.76h1.17v5.14h-1.17zM97.15 146.76h1.17v5.14h-1.17zM121.67 146.76h1.17v5.14h-1.17zM128.36 146.76h1.17v5.14h-1.17zM143.96 146.76h1.17v5.14h-1.17zM148.42 146.76h1.17v5.14h-1.17zM158.45 146.76h1.17v5.14h-1.17zM175.17 146.76h1.17v5.14h-1.17zM47 151.84h1.17v5.14h-1.17zM51.46 151.84h1.17v5.14h-1.17zM60.37 151.84h1.17v5.14h-1.17zM63.72 151.84h1.17v5.14h-1.17zM69.29 151.84h1.17v5.14h-1.17zM88.24 151.84h1.17v5.14h-1.17zM106.07 151.84h1.17v5.14h-1.17zM108.3 151.84h1.17v5.14h-1.17zM110.53 151.84h1.17v5.14h-1.17zM111.64 151.84h1.17v5.14h-1.17zM113.87 151.84h1.17v5.14h-1.17zM117.22 151.84h1.17v5.14h-1.17zM118.33 151.84h1.17v5.14h-1.17zM125.02 151.84h1.17v5.14h-1.17zM132.82 151.84h1.17v5.14h-1.17zM133.93 151.84h1.17v5.14h-1.17zM142.85 151.84h1.17v5.14h-1.17zM168.48 151.84h1.17v5.14h-1.17zM171.83 151.84h1.17v5.14h-1.17zM172.94 151.84h1.17v5.14h-1.17zM51.46 156.93h1.17v5.14h-1.17zM53.69 156.93h1.17v5.14h-1.17zM59.26 156.93h1.17v5.14h-1.17zM61.49 156.93h1.17v5.14h-1.17zM69.29 156.93h1.17v5.14h-1.17zM71.52 156.93h1.17v5.14h-1.17zM78.21 156.93h1.17v5.14h-1.17zM79.32 156.93h1.17v5.14h-1.17zM82.66 156.93h1.17v5.14h-1.17zM86.01 156.93h1.17v5.14h-1.17zM88.24 156.93h1.17v5.14h-1.17zM111.64 156.93h1.17v5.14h-1.17zM121.67 156.93h1.17v5.14h-1.17zM146.19 156.93h1.17v5.14h-1.17zM148.42 156.93h1.17v5.14h-1.17zM155.11 156.93h1.17v5.14h-1.17zM161.8 156.93h1.17v5.14h-1.17zM167.37 156.93h1.17v5.14h-1.17zM174.06 156.93h1.17v5.14h-1.17zM53.69 162.01h1.17v5.14h-1.17zM57.03 162.01h1.17v5.14h-1.17zM61.49 162.01h1.17v5.14h-1.17zM68.18 162.01h1.17v5.14h-1.17zM74.86 162.01h1.17v5.14h-1.17zM75.98 162.01h1.17v5.14h-1.17zM92.7 162.01h1.17v5.14h-1.17zM97.15 162.01h1.17v5.14h-1.17zM106.07 162.01h1.17v5.14h-1.17zM117.22 162.01h1.17v5.14h-1.17zM132.82 162.01h1.17v5.14h-1.17zM139.51 162.01h1.17v5.14h-1.17zM148.42 162.01h1.17v5.14h-1.17zM152.88 162.01h1.17v5.14h-1.17zM158.45 162.01h1.17v5.14h-1.17zM165.14 162.01h1.17v5.14h-1.17zM175.17 162.01h1.17v5.14h-1.17zM65.95 167.1h1.17v5.14h-1.17zM74.86 167.1h1.17v5.14h-1.17zM78.21 167.1h1.17v5.14h-1.17zM80.44 167.1h1.17v5.14h-1.17zM82.66 167.1h1.17v5.14h-1.17zM83.78 167.1h1.17v5.14h-1.17zM92.7 167.1h1.17v5.14h-1.17zM116.1 167.1h1.17v5.14h-1.17zM118.33 167.1h1.17v5.14h-1.17zM140.62 167.1h1.17v5.14h-1.17zM151.77 167.1h1.17v5.14h-1.17zM164.03 167.1h1.17v5.14h-1.17zM165.14 167.1h1.17v5.14h-1.17zM167.37 167.1h1.17v5.14h-1.17zM175.17 167.1h1.17v5.14h-1.17zM58.15 172.18h1.17v5.14h-1.17zM62.6 172.18h1.17v5.14h-1.17zM63.72 172.18h1.17v5.14h-1.17zM67.06 172.18h1.17v5.14h-1.17zM75.98 172.18h1.17v5.14h-1.17zM87.12 172.18h1.17v5.14h-1.17zM91.58 172.18h1.17v5.14h-1.17zM93.81 172.18h1.17v5.14h-1.17zM100.5 172.18h1.17v5.14h-1.17zM111.64 172.18h1.17v5.14h-1.17zM116.1 172.18h1.17v5.14h-1.17zM131.7 172.18h1.17v5.14h-1.17zM151.77 172.18h1.17v5.14h-1.17zM157.34 172.18h1.17v5.14h-1.17zM159.57 172.18h1.17v5.14h-1.17zM160.68 172.18h1.17v5.14h-1.17zM168.48 172.18h1.17v5.14h-1.17zM175.17 172.18h1.17v5.14h-1.17zM50.34 177.26h1.17v5.14h-1.17zM59.26 177.26h1.17v5.14h-1.17zM77.09 177.26h1.17v5.14h-1.17zM86.01 177.26h1.17v5.14h-1.17zM96.04 177.26h1.17v5.14h-1.17zM100.5 177.26h1.17v5.14h-1.17zM101.61 177.26h1.17v5.14h-1.17zM107.18 177.26h1.17v5.14h-1.17zM110.53 177.26h1.17v5.14h-1.17zM111.64 177.26h1.17v5.14h-1.17zM120.56 177.26h1.17v5.14h-1.17zM132.82 177.26h1.17v5.14h-1.17zM143.96 177.26h1.17v5.14h-1.17zM167.37 177.26h1.17v5.14h-1.17zM170.71 177.26h1.17v5.14h-1.17zM171.83 177.26h1.17v5.14h-1.17zM49.23 182.35h1.17v5.14h-1.17zM58.15 182.35h1.17v5.14h-1.17zM60.37 182.35h1.17v5.14h-1.17zM65.95 182.35h1.17v5.14h-1.17zM68.18 182.35h1.17v5.14h-1.17zM77.09 182.35h1.17v5.14h-1.17zM81.55 182.35h1.17v5.14h-1.17zM89.35 182.35h1.17v5.14h-1.17zM107.18 182.35h1.17v5.14h-1.17zM109.41 182.35h1.17v5.14h-1.17zM125.02 182.35h1.17v5.14h-1.17zM126.13 182.35h1.17v5.14h-1.17zM140.62 182.35h1.17v5.14h-1.17zM147.31 182.35h1.17v5.14h-1.17zM161.8 182.35h1.17v5.14h-1.17zM162.91 182.35h1.17v5.14h-1.17zM167.37 182.35h1.17v5.14h-1.17zM172.94 182.35h1.17v5.14h-1.17zM53.69 187.43h1.17v5.14h-1.17zM60.37 187.43h1.17v5.14h-1.17zM70.41 187.43h1.17v5.14h-1.17zM79.32 187.43h1.17v5.14h-1.17zM84.89 187.43h1.17v5.14h-1.17zM92.7 187.43h1.17v5.14h-1.17zM94.92 187.43h1.17v5.14h-1.17zM98.27 187.43h1.17v5.14h-1.17zM108.3 187.43h1.17v5.14h-1.17zM128.36 187.43h1.17v5.14h-1.17zM129.48 187.43h1.17v5.14h-1.17zM149.54 187.43h1.17v5.14h-1.17zM150.65 187.43h1.17v5.14h-1.17zM165.14 187.43h1.17v5.14h-1.17zM167.37 187.43h1.17v5.14h-1.17zM57.03 192.52h1.17v5.14h-1.17zM61.49 192.52h1.17v5.14h-1.17zM63.72 192.52h1.17v5.14h-1.17zM65.95 192.52h1.17v5.14h-1.17zM69.29 192.52h1.17v5.14h-1.17zM79.32 192.52h1.17v5.14h-1.17zM88.24 192.52h1.17v5.14h-1.17zM89.35 192.52h1.17v5.14h-1.17zM97.15 192.52h1.17v5.14h-1.17zM102.73 192.52h1.17v5.14h-1.17zM104.96 192.52h1.17v5.14h-1.17zM107.18 192.52h1.17v5.14h-1.17zM110.53 192.52h1.17v5.14h-1.17zM131.7 192.52h1.17v5.14h-1.17zM136.16 192.52h1.17v5.14h-1.17zM138.39 192.52h1.17v5.14h-1.17zM142.85 192.52h1.17v5.14h-1.17zM162.91 192.52h1.17v5.14h-1.17zM167.37 192.52h1.17v5.14h-1.17z"/>
<path fill="#f6eae9" d="M79.32 70.5h1.17v5.14h-1.17zM102.73 70.5h1.17v5.14h-1.17zM107.18 70.5h1.17v5.14h-1.17zM110.53 70.5h1.17v5.14h-1.17zM113.87 70.5h1.17v5.14h-1.17zM123.9 70.5h1.17v5.14h-1.17zM129.48 70.5h1.17v5.14h-1.17zM135.05 70.5h1.17v5.14h-1.17zM136.16 70.5h1.17v5.14h-1.17zM151.77 70.5h1.17v5.14h-1.17zM157.34 70.5h1.17v5.14h-1.17zM162.91 70.5h1.17v5.14h-1.17zM164.03 70.5h1.17v5.14h-1.17zM52.57 75.58h1.17v5.14h-1.17zM71.52 75.58h1.17v5.14h-1.17zM82.66 75.58h1.17v5.14h-1.17zM104.96 75.58h1.17v5.14h-1.17zM116.1 75.58h1.17v5.14h-1.17zM128.36 75.58h1.17v5.14h-1.17zM130.59 75.58h1.17v5.14h-1.17zM143.96 75.58h1.17v5.14h-1.17zM151.77 75.58h1.17v5.14h-1.17zM155.11 75.58h1.17v5.14h-1.17zM165.14 75.58h1.17v5.14h-1.17zM171.83 75.58h1.17v5.14h-1.17zM174.06 75.58h1.17v5.14h-1.17zM52.57 80.67h1.17v5.14h-1.17zM54.8 80.67h1.17v5.14h-1.17zM59.26 80.67h1.17v5.14h-1.17zM63.72 80.67h1.17v5.14h-1.17zM83.78 80.67h1.17v5.14h-1.17zM86.01 80.67h1.17v5.14h-1.17zM99.38 80.67h1.17v5.14h-1.17zM101.61 80.67h1.17v5.14h-1.17zM109.41 80.67h1.17v5.14h-1.17zM114.99 80.67h1.17v5.14h-1.17zM118.33 80.67h1.17v5.14h-1.17zM127.25 80.67h1.17v5.14h-1.17zM138.39 80.67h1.17v5.14h-1.17zM140.62 80.67h1.17v5.14h-1.17zM146.19 80.67h1.17v5.14h-1.17zM158.45 80.67h1.17v5.14h-1.17zM171.83 80.67h1.17v5.14h-1.17zM67.06 85.75h1.17v5.14h-1.17zM89.35 85.75h1.17v5.14h-1.17zM98.27 85.75h1.17v5.14h-1.17zM99.38 85.75h1.17v5.14h-1.17zM104.96 85.75h1.17v5.14h-1.17zM129.48 85.75h1.17v5.14h-1.17zM130.59 85.75h1.17v5.14h-1.17zM133.93 85.75h1.17v5.14h-1.17zM137.28 85.75h1.17v5.14h-1.17zM138.39 85.75h1.17v5.14h-1.17zM143.96 85.75h1.17v5.14h-1.17zM151.77 85.75h1.17v5.14h-1.17zM159.57 85.75h1.17v5.14h-1.17zM165.14 85.75h1.17v5.14h-1.17zM47 90.84h1.17v5.14h-1.17zM48.11 90.84h1.17v5.14h-1.17zM64.83 90.84h1.17v5.14h-1.17zM81.55 90.84h1.17v5.14h-1.17zM87.12 90.84h1.17v5.14h-1.17zM98.27 90.84h1.17v5.14h-1.17zM108.3 90.84h1.17v5.14h-1.17zM109.41 90.84h1.17v5.14h-1.17zM111.64 90.84h1.17v5.14h-1.17zM116.1 90.84h1.17v5.14h-1.17zM118.33 90.84h1.17v5.14h-1.17zM122.79 90.84h1.17v5.14h-1.17zM130.59 90.84h1.17v5.14h-1.17zM137.28 90.84h1.17v5.14h-1.17zM138.39 90.84h1.17v5.14h-1.17zM148.42 90.84h1.17v5.14h-1.17zM151.77 90.84h1.17v5.14h-1.17zM158.45 90.84h1.17v5.14h-1.17zM161.8 90.84h1.17v5.14h-1.17zM170.71 90.84h1.17v5.14h-1.17zM172.94 90.84h1.17v5.14h-1.17zM57.03 95.92h1.17v5.14h-1.17zM80.44 95.92h1.17v5.14h-1.17zM87.12 95.92h1.17v5.14h-1.17zM89.35 95.92h1.17v5.14h-1.17zM90.47 95.92h1.17v5.14h-1.17zM92.7 95.92h1.17v5.14h-1.17zM97.15 95.92h1.17v5.14h-1.17zM102.73 95.92h1.17v5.14h-1.17zM109.41 95.92h1.17v5.14h-1.17zM121.67 95.92h1.17v5.14h-1.17zM122.79 95.92h1.17v5.14h-1.17zM131.7 95.92h1.17v5.14h-1.17zM133.93 95.92h1.17v5.14h-1.17zM135.05 95.92h1.17v5.14h-1.17zM143.96 95.92h1.17v5.14h-1.17zM145.08 95.92h1.17v5.14h-1.17zM150.65 95.92h1.17v5.14h-1.17zM151.77 95.92h1.17v5.14h-1.17zM159.57 95.92h1.17v5.14h-1.17zM164.03 95.92h1.17v5.14h-1.17zM167.37 95.92h1.17v5.14h-1.17zM175.17 95.92h1.17v5.14h-1.17zM53.69 101h1.17v5.14h-1.17zM69.29 101h1.17v5.14h-1.17zM70.41 101h1.17v5.14h-1.17zM71.52 101h1.17v5.14h-1.17zM82.66 101h1.17v5.14h-1.17zM92.7 101h1.17v5.14h-1.17zM98.27 101h1.17v5.14h-1.17zM100.5 101h1.17v5.14h-1.17zM104.96 101h1.17v5.14h-1.17zM108.3 101h1.17v5.14h-1.17zM111.64 101h1.17v5.14h-1.17zM113.87 101h1.17v5.14h-1.17zM120.56 101h1.17v5.14h-1.17zM137.28 101h1.17v5.14h-1.17zM140.62 101h1.17v5.14h-1.17zM142.85 101h1.17v5.14h-1.17zM162.91 101h1.17v5.14h-1.17zM167.37 101h1.17v5.14h-1.17zM53.69 106.09h1.17v5.14h-1.17zM69.29 106.09h1.17v5.14h-1.17zM79.32 106.09h1.17v5.14h-1.17zM81.55 106.09h1.17v5.14h-1.17zM90.47 106.09h1.17v5.14h-1.17zM91.58 106.09h1.17v5.14h-1.17zM101.61 106.09h1.17v5.14h-1.17zM108.3 106.09h1.17v5.14h-1.17zM109.41 106.09h1.17v5.14h-1.17zM121.67 106.09h1.17v5.14h-1.17zM123.9 106.09h1.17v5.14h-1.17zM125.02 106.09h1.17v5.14h-1.17zM133.93 106.09h1.17v5.14h-1.17zM149.54 106.09h1.17v5.14h-1.17zM156.22 106.09h1.17v5.14h-1.17zM158.45 106.09h1.17v5.14h-1.17zM169.6 106.09h1.17v5.14h-1.17zM51.46 111.17h1.17v5.14h-1.17zM53.69 111.17h1.17v5.14h-1.17zM69.29 111.17h1.17v5.14h-1.17zM86.01 111.17h1.17v5.14h-1.17zM88.24 111.17h1.17v5.14h-1.17zM106.07 111.17h1.17v5.14h-1.17zM118.33 111.17h1.17v5.14h-1.17zM128.36 111.17h1.17v5.14h-1.17zM135.05 111.17h1.17v5.14h-1.17zM140.62 111.17h1.17v5.14h-1.17zM143.96 111.17h1.17v5.14h-1.17zM145.08 111.17h1.17v5.14h-1.17zM148.42 111.17h1.17v5.14h-1.17zM150.65 111.17h1.17v5.14h-1.17zM47 116.26h1.17v5.14h-1.17zM69.29 116.26h1.17v5.14h-1.17zM74.86 116.26h1.17v5.14h-1.17zM75.98 116.26h1.17v5.14h-1.17zM87.12 116.26h1.17v5.14h-1.17zM93.81 116.26h1.17v5.14h-1.17zM107.18 116.26h1.17v5.14h-1.17zM109.41 116.26h1.17v5.14h-1.17zM114.99 116.26h1.17v5.14h-1.17zM117.22 116.26h1.17v5.14h-1.17zM121.67 116.26h1.17v5.14h-1.17zM128.36 116.26h1.17v5.14h-1.17zM131.7 116.26h1.17v5.14h-1.17zM137.28 116.26h1.17v5.14h-1.17zM139.51 116.26h1.17v5.14h-1.17zM140.62 116.26h1.17v5.14h-1.17zM150.65 116.26h1.17v5.14h-1.17zM157.34 116.26h1.17v5.14h-1.17zM158.45 116.26h1.17v5.14h-1.17zM159.57 116.26h1.17v5.14h-1.17zM161.8 116.26h1.17v5.14h-1.17zM164.03 116.26h1.17v5.14h-1.17zM57.03 121.34h1.17v5.14h-1.17zM72.63 121.34h1.17v5.14h-1.17zM79.32 121.34h1.17v5.14h-1.17zM82.66 121.34h1.17v5.14h-1.17zM83.78 121.34h1.17v5.14h-1.17zM93.81 121.34h1.17v5.14h-1.17zM112.76 121.34h1.17v5.14h-1.17zM120.56 121.34h1.17v5.14h-1.17zM122.79 121.34h1.17v5.14h-1.17zM127.25 121.34h1.17v5.14h-1.17zM132.82 121.34h1.17v5.14h-1.17zM158.45 121.34h1.17v5.14h-1.17zM159.57 121.34h1.17v5.14h-1.17zM170.71 121.34h1.17v5.14h-1.17zM51.46 126.42h1.17v5.14h-1.17zM54.8 126.42h1.17v5.14h-1.17zM55.92 126.42h1.17v5.14h-1.17zM60.37 126.42h1.17v5.14h-1.17zM67.06 126.42h1.17v5.14h-1.17zM71.52 126.42h1.17v5.14h-1.17zM77.09 126.42h1.17v5.14h-1.17zM78.21 126.42h1.17v5.14h-1.17zM83.78 126.42h1.17v5.14h-1.17zM86.01 126.42h1.17v5.14h-1.17zM87.12 126.42h1.17v5.14h-1.17zM107.18 126.42h1.17v5.14h-1.17zM110.53 126.42h1.17v5.14h-1.17zM121.67 126.42h1.17v5.14h-1.17zM135.05 126.42h1.17v5.14h-1.17zM138.39 126.42h1.17v5.14h-1.17zM140.62 126.42h1.17v5.14h-1.17zM166.25 126.42h1.17v5.14h-1.17zM169.6 126.42h1.17v5.14h-1.17zM47 131.51h1.17v5.14h-1.17zM64.83 131.51h1.17v5.14h-1.17zM73.75 131.51h1.17v5.14h-1.17zM77.09 131.51h1.17v5.14h-1.17zM83.78 131.51h1.17v5.14h-1.17zM88.24 131.51h1.17v5.14h-1.17zM94.92 131.51h1.17v5.14h-1.17zM107.18 131.51h1.17v5.14h-1.17zM108.3 131.51h1.17v5.14h-1.17zM112.76 131.51h1.17v5.14h-1.17zM122.79 131.51h1.17v5.14h-1.17zM125.02 131.51h1.17v5.14h-1.17zM139.51 131.51h1.17v5.14h-1.17zM141.74 131.51h1.17v5.14h-1.17zM146.19 131.51h1.17v5.14h-1.17zM148.42 131.51h1.17v5.14h-1.17zM155.11 131.51h1.17v5.14h-1.17zM159.57 131.51h1.17v5.14h-1.17zM166.25 131.51h1.17v5.14h-1.17zM168.48 131.51h1.17v5.14h-1.17zM169.6 131.51h1.17v5.14h-1.17zM49.23 136.59h1.17v5.14h-1.17zM64.83 136.59h1.17v5.14h-1.17zM74.86 136.59h1.17v5.14h-1.17zM77.09 136.59h1.17v5.14h-1.17zM99.38 136.59h1.17v5.14h-1.17zM116.1 136.59h1.17v5.14h-1.17zM117.22 136.59h1.17v5.14h-1.17zM119.44 136.59h1.17v5.14h-1.17zM131.7 136.59h1.17v5.14h-1.17zM135.05 136.59h1.17v5.14h-1.17zM136.16 136.59h1.17v5.14h-1.17zM138.39 136.59h1.17v5.14h-1.17zM143.96 136.59h1.17v5.14h-1.17zM145.08 136.59h1.17v5.14h-1.17zM155.11 136.59h1.17v5.14h-1.17zM161.8 136.59h1.17v5.14h-1.17zM164.03 136.59h1.17v5.14h-1.17zM165.14 136.59h1.17v5.14h-1.17zM167.37 136.59h1.17v5.14h-1.17zM175.17 136.59h1.17v5.14h-1.17zM48.11 141.68h1.17v5.14h-1.17zM51.46 141.68h1.17v5.14h-1.17zM88.24 141.68h1.17v5.14h-1.17zM92.7 141.68h1.17v5.14h-1.17zM103.84 141.68h1.17v5.14h-1.17zM107.18 141.68h1.17v5.14h-1.17zM118.33 141.68h1.17v5.14h-1.17zM130.59 141.68h1.17v5.14h-1.17zM131.7 141.68h1.17v5.14h-1.17zM140.62 141.68h1.17v5.14h-1.17zM141.74 141.68h1.17v5.14h-1.17zM147.31 141.68h1.17v5.14h-1.17zM152.88 141.68h1.17v5.14h-1.17zM160.68 141.68h1.17v5.14h-1.17zM167.37 141.68h1.17v5.14h-1.17zM79.32 146.76h1.17v5.14h-1.17zM88.24 146.76h1.17v5.14h-1.17zM89.35 146.76h1.17v5.14h-1.17zM91.58 146.76h1.17v5.14h-1.17zM96.04 146.76h1.17v5.14h-1.17zM102.73 146.76h1.17v5.14h-1.17zM103.84 146.76h1.17v5.14h-1.17zM116.1 146.76h1.17v5.14h-1.17zM117.22 146.76h1.17v5.14h-1.17zM122.79 146.76h1.17v5.14h-1.17zM130.59 146.76h1.17v5.14h-1.17zM147.31 146.76h1.17v5.14h-1.17zM153.99 146.76h1.17v5.14h-1.17zM157.34 146.76h1.17v5.14h-1.17zM159.57 146.76h1.17v5.14h-1.17zM161.8 146.76h1.17v5.14h-1.17zM162.91 146.76h1.17v5.14h-1.17zM166.25 146.76h1.17v5.14h-1.17zM167.37 146.76h1.17v5.14h-1.17zM174.06 146.76h1.17v5.14h-1.17zM176.29 146.76h1.17v5.14h-1.17zM57.03 151.84h1.17v5.14h-1.17zM78.21 151.84h1.17v5.14h-1.17zM80.44 151.84h1.17v5.14h-1.17zM83.78 151.84h1.17v5.14h-1.17zM90.47 151.84h1.17v5.14h-1.17zM112.76 151.84h1.17v5.14h-1.17zM116.1 151.84h1.17v5.14h-1.17zM121.67 151.84h1.17v5.14h-1.17zM130.59 151.84h1.17v5.14h-1.17zM137.28 151.84h1.17v5.14h-1.17zM153.99 151.84h1.17v5.14h-1.17zM156.22 151.84h1.17v5.14h-1.17zM169.6 151.84h1.17v5.14h-1.17zM174.06 151.84h1.17v5.14h-1.17zM175.17 151.84h1.17v5.14h-1.17zM58.15 156.93h1.17v5.14h-1.17zM83.78 156.93h1.17v5.14h-1.17zM84.89 156.93h1.17v5.14h-1.17zM97.15 156.93h1.17v5.14h-1.17zM100.5 156.93h1.17v5.14h-1.17zM106.07 156.93h1.17v5.14h-1.17zM112.76 156.93h1.17v5.14h-1.17zM122.79 156.93h1.17v5.14h-1.17zM127.25 156.93h1.17v5.14h-1.17zM129.48 156.93h1.17v5.14h-1.17zM130.59 156.93h1.17v5.14h-1.17zM131.7 156.93h1.17v5.14h-1.17zM135.05 156.93h1.17v5.14h-1.17zM141.74 156.93h1.17v5.14h-1.17zM150.65 156.93h1.17v5.14h-1.17zM171.83 156.93h1.17v5.14h-1.17zM54.8 162.01h1.17v5.14h-1.17zM65.95 162.01h1.17v5.14h-1.17zM100.5 162.01h1.17v5.14h-1.17zM113.87 162.01h1.17v5.14h-1.17zM118.33 162.01h1.17v5.14h-1.17zM119.44 162.01h1.17v5.14h-1.17zM147.31 162.01h1.17v5.14h-1.17zM151.77 162.01h1.17v5.14h-1.17zM166.25 162.01h1.17v5.14h-1.17zM50.34 167.1h1.17v5.14h-1.17zM62.6 167.1h1.17v5.14h-1.17zM63.72 167.1h1.17v5.14h-1.17zM71.52 167.1h1.17v5.14h-1.17zM72.63 167.1h1.17v5.14h-1.17zM84.89 167.1h1.17v5.14h-1.17zM90.47 167.1h1.17v5.14h-1.17zM93.81 167.1h1.17v5.14h-1.17zM100.5 167.1h1.17v5.14h-1.17zM101.61 167.1h1.17v5.14h-1.17zM106.07 167.1h1.17v5.14h-1.17zM125.02 167.1h1.17v5.14h-1.17zM128.36 167.1h1.17v5.14h-1.17zM147.31 167.1h1.17v5.14h-1.17zM153.99 167.1h1.17v5.14h-1.17zM171.83 167.1h1.17v5.14h-1.17zM47 172.18h1.17v5.14h-1.17zM48.11 172.18h1.17v5.14h-1.17zM51.46 172.18h1.17v5.14h-1.17zM54.8 172.18h1.17v5.14h-1.17zM61.49 172.18h1.17v5.14h-1.17zM71.52 172.18h1.17v5.14h-1.17zM72.63 172.18h1.17v5.14h-1.17zM77.09 172.18h1.17v5.14h-1.17zM81.55 172.18h1.17v5.14h-1.17zM94.92 172.18h1.17v5.14h-1.17zM106.07 172.18h1.17v5.14h-1.17zM108.3 172.18h1.17v5.14h-1.17zM109.41 172.18h1.17v5.14h-1.17zM123.9 172.18h1.17v5.14h-1.17zM126.13 172.18h1.17v5.14h-1.17zM128.36 172.18h1.17v5.14h-1.17zM147.31 172.18h1.17v5.14h-1.17zM153.99 172.18h1.17v5.14h-1.17zM155.11 172.18h1.17v5.14h-1.17zM158.45 172.18h1.17v5.14h-1.17zM166.25 172.18h1.17v5.14h-1.17zM176.29 172.18h1.17v5.14h-1.17zM52.57 177.26h1.17v5.14h-1.17zM53.69 177.26h1.17v5.14h-1.17zM61.49 177.26h1.17v5.14h-1.17zM87.12 177.26h1.17v5.14h-1.17zM97.15 177.26h1.17v5.14h-1.17zM106.07 177.26h1.17v5.14h-1.17zM109.41 177.26h1.17v5.14h-1.17zM114.99 177.26h1.17v5.14h-1.17zM126.13 177.26h1.17v5.14h-1.17zM133.93 177.26h1.17v5.14h-1.17zM157.34 177.26h1.17v5.14h-1.17zM162.91 177.26h1.17v5.14h-1.17zM165.14 177.26h1.17v5.14h-1.17zM172.94 177.26h1.17v5.14h-1.17zM176.29 177.26h1.17v5.14h-1.17zM50.34 182.35h1.17v5.14h-1.17zM59.26 182.35h1.17v5.14h-1.17zM67.06 182.35h1.17v5.14h-1.17zM70.41 182.35h1.17v5.14h-1.17zM78.21 182.35h1.17v5.14h-1.17zM80.44 182.35h1.17v5.14h-1.17zM82.66 182.35h1.17v5.14h-1.17zM86.01 182.35h1.17v5.14h-1.17zM87.12 182.35h1.17v5.14h-1.17zM120.56 182.35h1.17v5.14h-1.17zM129.48 182.35h1.17v5.14h-1.17zM135.05 182.35h1.17v5.14h-1.17zM143.96 182.35h1.17v5.14h-1.17zM149.54 182.35h1.17v5.14h-1.17zM156.22 182.35h1.17v5.14h-1.17zM158.45 182.35h1.17v5.14h-1.17zM160.68 182.35h1.17v5.14h-1.17zM168.48 182.35h1.17v5.14h-1.17zM52.57 187.43h1.17v5.14h-1.17zM54.8 187.43h1.17v5.14h-1.17zM57.03 187.43h1.17v5.14h-1.17zM62.6 187.43h1.17v5.14h-1.17zM87.12 187.43h1.17v5.14h-1.17zM91.58 187.43h1.17v5.14h-1.17zM96.04 187.43h1.17v5.14h-1.17zM100.5 187.43h1.17v5.14h-1.17zM103.84 187.43h1.17v5.14h-1.17zM104.96 187.43h1.17v5.14h-1.17zM114.99 187.43h1.17v5.14h-1.17zM116.1 187.43h1.17v5.14h-1.17zM125.02 187.43h1.17v5.14h-1.17zM126.13 187.43h1.17v5.14h-1.17zM130.59 187.43h1.17v5.14h-1.17zM131.7 187.43h1.17v5.14h-1.17zM136.16 187.43h1.17v5.14h-1.17zM146.19 187.43h1.17v5.14h-1.17zM155.11 187.43h1.17v5.14h-1.17zM164.03 187.43h1.17v5.14h-1.17zM169.6 187.43h1.17v5.14h-1.17zM175.17 187.43h1.17v5.14h-1.17zM51.46 192.52h1.17v5.14h-1.17zM67.06 192.52h1.17v5.14h-1.17zM71.52 192.52h1.17v5.14h-1.17zM77.09 192.52h1.17v5.14h-1.17zM80.44 192.52h1.17v5.14h-1.17zM81.55 192.52h1.17v5.14h-1.17zM83.78 192.52h1.17v5.14h-1.17zM84.89 192.52h1.17v5.14h-1.17zM92.7 192.52h1.17v5.14h-1.17zM94.92 192.52h1.17v5.14h-1.17zM100.5 192.52h1.17v5.14h-1.17zM101.61 192.52h1.17v5.14h-1.17zM106.07 192.52h1.17v5.14h-1.17zM113.87 192.52h1.17v5.14h-1.17zM121.67 192.52h1.17v5.14h-1.17zM126.13 192.52h1.17v5.14h-1.17zM132.82 192.52h1.17v5.14h-1.17zM137.28 192.52h1.17v5.14h-1.17zM147.31 192.52h1.17v5.14h-1.17zM152.88 192.52h1.17v5.14h-1.17zM156.22 192.52h1.17v5.14h-1.17z"/>
<path fill="#f1dad7" d="M77.09 70.5h1.17v5.14h-1.17zM90.47 70.5h1.17v5.14h-1.17zM97.15 70.5h1.17v5.14h-1.17zM106.07 70.5h1.17v5.14h-1.17zM108.3 70.5h1.17v5.14h-1.17zM126.13 70.5h1.17v5.14h-1.17zM137.28 70.5h1.17v5.14h-1.17zM139.51 70.5h1.17v5.14h-1.17zM140.62 70.5h1.17v5.14h-1.17zM141.74 70.5h1.17v5.14h-1.17zM146.19 70.5h1.17v5.14h-1.17zM158.45 70.5h1.17v5.14h-1.17zM160.68 70.5h1.17v5.14h-1.17zM166.25 70.5h1.17v5.14h-1.17zM170.71 70.5h1.17v5.14h-1.17zM94.92 75.58h1.17v5.14h-1.17zM98.27 75.58h1.17v5.14h-1.17zM99.38 75.58h1.17v5.14h-1.17zM106.07 75.58h1.17v5.14h-1.17zM108.3 75.58h1.17v5.14h-1.17zM110.53 75.58h1.17v5.14h-1.17zM117.22 75.58h1.17v5.14h-1.17zM126.13 75.58h1.17v5.14h-1.17zM129.48 75.58h1.17v5.14h-1.17zM131.7 75.58h1.17v5.14h-1.17zM135.05 75.58h1.17v5.14h-1.17zM140.62 75.58h1.17v5.14h-1.17zM157.34 75.58h1.17v5.14h-1.17zM158.45 75.58h1.17v5.14h-1.17zM168.48 75.58h1.17v5.14h-1.17zM169.6 75.58h1.17v5.14h-1.17zM55.92 80.67h1.17v5.14h-1.17zM57.03 80.67h1.17v5.14h-1.17zM74.86 80.67h1.17v5.14h-1.17zM79.32 80.67h1.17v5.14h-1.17zM82.66 80.67h1.17v5.14h-1.17zM91.58 80.67h1.17v5.14h-1.17zM104.96 80.67h1.17v5.14h-1.17zM111.64 80.67h1.17v5.14h-1.17zM112.76 80.67h1.17v5.14h-1.17zM113.87 80.67h1.17v5.14h-1.17zM117.22 80.67h1.17v5.14h-1.17zM120.56 80.67h1.17v5.14h-1.17zM130.59 80.67h1.17v5.14h-1.17zM133.93 80.67h1.17v5.14h-1.17zM151.77 80.67h1.17v5.14h-1.17zM155.11 80.67h1.17v5.14h-1.17zM157.34 80.67h1.17v5.14h-1.17zM159.57 80.67h1.17v5.14h-1.17zM162.91 80.67h1.17v5.14h-1.17zM169.6 80.67h1.17v5.14h-1.17zM170.71 80.67h1.17v5.14h-1.17zM48.11 85.75h1.17v5.14h-1.17zM50.34 85.75h1.17v5.14h-1.17zM80.44 85.75h1.17v5.14h-1.17zM102.73 85.75h1.17v5.14h-1.17zM107.18 85.75h1.17v5.14h-1.17zM108.3 85.75h1.17v5.14h-1.17zM111.64 85.75h1.17v5.14h-1.17zM114.99 85.75h1.17v5.14h-1.17zM116.1 85.75h1.17v5.14h-1.17zM125.02 85.75h1.17v5.14h-1.17zM132.82 85.75h1.17v5.14h-1.17zM136.16 85.75h1.17v5.14h-1.17zM140.62 85.75h1.17v5.14h-1.17zM149.54 85.75h1.17v5.14h-1.17zM150.65 85.75h1.17v5.14h-1.17zM156.22 85.75h1.17v5.14h-1.17zM172.94 85.75h1.17v5.14h-1.17zM113.87 90.84h1.17v5.14h-1.17zM114.99 90.84h1.17v5.14h-1.17zM131.7 90.84h1.17v5.14h-1.17zM132.82 90.84h1.17v5.14h-1.17zM142.85 90.84h1.17v5.14h-1.17zM146.19 90.84h1.17v5.14h-1.17zM152.88 90.84h1.17v5.14h-1.17zM171.83 90.84h1.17v5.14h-1.17zM174.06 90.84h1.17v5.14h-1.17zM55.92 95.92h1.17v5.14h-1.17zM100.5 95.92h1.17v5.14h-1.17zM110.53 95.92h1.17v5.14h-1.17zM117.22 95.92h1.17v5.14h-1.17zM119.44 95.92h1.17v5.14h-1.17zM139.51 95.92h1.17v5.14h-1.17zM140.62 95.92h1.17v5.14h-1.17zM149.54 95.92h1.17v5.14h-1.17zM165.14 95.92h1.17v5.14h-1.17zM169.6 95.92h1.17v5.14h-1.17zM172.94 95.92h1.17v5.14h-1.17zM65.95 101h1.17v5.14h-1.17zM75.98 101h1.17v5.14h-1.17zM84.89 101h1.17v5.14h-1.17zM97.15 101h1.17v5.14h-1.17zM112.76 101h1.17v5.14h-1.17zM122.79 101h1.17v5.14h-1.17zM128.36 101h1.17v5.14h-1.17zM135.05 101h1.17v5.14h-1.17zM148.42 101h1.17v5.14h-1.17zM150.65 101h1.17v5.14h-1.17zM151.77 101h1.17v5.14h-1.17zM153.99 101h1.17v5.14h-1.17zM168.48 101h1.17v5.14h-1.17zM170.71 101h1.17v5.14h-1.17zM176.29 101h1.17v5.14h-1.17zM70.41 106.09h1.17v5.14h-1.17zM88.24 106.09h1.17v5.14h-1.17zM94.92 106.09h1.17v5.14h-1.17zM97.15 106.09h1.17v5.14h-1.17zM107.18 106.09h1.17v5.14h-1.17zM114.99 106.09h1.17v5.14h-1.17zM120.56 106.09h1.17v5.14h-1.17zM127.25 106.09h1.17v5.14h-1.17zM130.59 106.09h1.17v5.14h-1.17zM145.08 106.09h1.17v5.14h-1.17zM166.25 106.09h1.17v5.14h-1.17zM175.17 106.09h1.17v5.14h-1.17zM61.49 111.17h1.17v5.14h-1.17zM65.95 111.17h1.17v5.14h-1.17zM73.75 111.17h1.17v5.14h-1.17zM102.73 111.17h1.17v5.14h-1.17zM103.84 111.17h1.17v5.14h-1.17zM104.96 111.17h1.17v5.14h-1.17zM129.48 111.17h1.17v5.14h-1.17zM131.7 111.17h1.17v5.14h-1.17zM138.39 111.17h1.17v5.14h-1.17zM149.54 111.17h1.17v5.14h-1.17zM171.83 111.17h1.17v5.14h-1.17zM175.17 111.17h1.17v5.14h-1.17zM72.63 116.26h1.17v5.14h-1.17zM89.35 116.26h1.17v5.14h-1.17zM111.64 116.26h1.17v5.14h-1.17zM125.02 116.26h1.17v5.14h-1.17zM127.25 116.26h1.17v5.14h-1.17zM138.39 116.26h1.17v5.14h-1.17zM168.48 116.26h1.17v5.14h-1.17zM54.8 121.34h1.17v5.14h-1.17zM71.52 121.34h1.17v5.14h-1.17zM75.98 121.34h1.17v5.14h-1.17zM87.12 121.34h1.17v5.14h-1.17zM99.38 121.34h1.17v5.14h-1.17zM100.5 121.34h1.17v5.14h-1.17zM106.07 121.34h1.17v5.14h-1.17zM109.41 121.34h1.17v5.14h-1.17zM114.99 121.34h1.17v5.14h-1.17zM125.02 121.34h1.17v5.14h-1.17zM133.93 121.34h1.17v5.14h-1.17zM141.74 121.34h1.17v5.14h-1.17zM155.11 121.34h1.17v5.14h-1.17zM156.22 121.34h1.17v5.14h-1.17zM160.68 121.34h1.17v5.14h-1.17zM167.37 121.34h1.17v5.14h-1.17zM171.83 121.34h1.17v5.14h-1.17zM47 126.42h1.17v5.14h-1.17zM91.58 126.42h1.17v5.14h-1.17zM97.15 126.42h1.17v5.14h-1.17zM98.27 126.42h1.17v5.14h-1.17zM100.5 126.42h1.17v5.14h-1.17zM101.61 126.42h1.17v5.14h-1.17zM112.76 126.42h1.17v5.14h-1.17zM119.44 126.42h1.17v5.14h-1.17zM120.56 126.42h1.17v5.14h-1.17zM127.25 126.42h1.17v5.14h-1.17zM132.82 126.42h1.17v5.14h-1.17zM152.88 126.42h1.17v5.14h-1.17zM157.34 126.42h1.17v5.14h-1.17zM165.14 126.42h1.17v5.14h-1.17zM175.17 126.42h1.17v5.14h-1.17zM53.69 131.51h1.17v5.14h-1.17zM54.8 131.51h1.17v5.14h-1.17zM63.72 131.51h1.17v5.14h-1.17zM86.01 131.51h1.17v5.14h-1.17zM130.59 131.51h1.17v5.14h-1.17zM135.05 131.51h1.17v5.14h-1.17zM153.99 131.51h1.17v5.14h-1.17zM167.37 131.51h1.17v5.14h-1.17zM67.06 136.59h1.17v5.14h-1.17zM72.63 136.59h1.17v5.14h-1.17zM83.78 136.59h1.17v5.14h-1.17zM103.84 136.59h1.17v5.14h-1.17zM109.41 136.59h1.17v5.14h-1.17zM111.64 136.59h1.17v5.14h-1.17zM151.77 136.59h1.17v5.14h-1.17zM160.68 136.59h1.17v5.14h-1.17zM168.48 136.59h1.17v5.14h-1.17zM176.29 136.59h1.17v5.14h-1.17zM52.57 141.68h1.17v5.14h-1.17zM54.8 141.68h1.17v5.14h-1.17zM59.26 141.68h1.17v5.14h-1.17zM65.95 141.68h1.17v5.14h-1.17zM70.41 141.68h1.17v5.14h-1.17zM77.09 141.68h1.17v5.14h-1.17zM79.32 141.68h1.17v5.14h-1.17zM84.89 141.68h1.17v5.14h-1.17zM89.35 141.68h1.17v5.14h-1.17zM93.81 141.68h1.17v5.14h-1.17zM109.41 141.68h1.17v5.14h-1.17zM132.82 141.68h1.17v5.14h-1.17zM133.93 141.68h1.17v5.14h-1.17zM139.51 141.68h1.17v5.14h-1.17zM155.11 141.68h1.17v5.14h-1.17zM168.48 141.68h1.17v5.14h-1.17zM169.6 141.68h1.17v5.14h-1.17zM171.83 141.68h1.17v5.14h-1.17zM172.94 141.68h1.17v5.14h-1.17zM55.92 146.76h1.17v5.14h-1.17zM69.29 146.76h1.17v5.14h-1.17zM108.3 146.76h1.17v5.14h-1.17zM109.41 146.76h1.17v5.14h-1.17zM112.76 146.76h1.17v5.14h-1.17zM131.7 146.76h1.17v5.14h-1.17zM132.82 146.76h1.17v5.14h-1.17zM135.05 146.76h1.17v5.14h-1.17zM142.85 146.76h1.17v5.14h-1.17zM149.54 146.76h1.17v5.14h-1.17zM155.11 146.76h1.17v5.14h-1.17zM156.22 146.76h1.17v5.14h-1.17zM164.03 146.76h1.17v5.14h-1.17zM170.71 146.76h1.17v5.14h-1.17zM48.11 151.84h1.17v5.14h-1.17zM71.52 151.84h1.17v5.14h-1.17zM75.98 151.84h1.17v5.14h-1.17zM86.01 151.84h1.17v5.14h-1.17zM92.7 151.84h1.17v5.14h-1.17zM93.81 151.84h1.17v5.14h-1.17zM101.61 151.84h1.17v5.14h-1.17zM109.41 151.84h1.17v5.14h-1.17zM129.48 151.84h1.17v5.14h-1.17zM135.05 151.84h1.17v5.14h-1.17zM140.62 151.84h1.17v5.14h-1.17zM148.42 151.84h1.17v5.14h-1.17zM149.54 151.84h1.17v5.14h-1.17zM166.25 151.84h1.17v5.14h-1.17zM49.23 156.93h1.17v5.14h-1.17zM57.03 156.93h1.17v5.14h-1.17zM89.35 156.93h1.17v5.14h-1.17zM91.58 156.93h1.17v5.14h-1.17zM92.7 156.93h1.17v5.14h-1.17zM104.96 156.93h1.17v5.14h-1.17zM109.41 156.93h1.17v5.14h-1.17zM110.53 156.93h1.17v5.14h-1.17zM123.9 156.93h1.17v5.14h-1.17zM126.13 156.93h1.17v5.14h-1.17zM136.16 156.93h1.17v5.14h-1.17zM48.11 162.01h1.17v5.14h-1.17zM49.23 162.01h1.17v5.14h-1.17zM64.83 162.01h1.17v5.14h-1.17zM84.89 162.01h1.17v5.14h-1.17zM86.01 162.01h1.17v5.14h-1.17zM88.24 162.01h1.17v5.14h-1.17zM94.92 162.01h1.17v5.14h-1.17zM101.61 162.01h1.17v5.14h-1.17zM111.64 162.01h1.17v5.14h-1.17zM114.99 162.01h1.17v5.14h-1.17zM128.36 162.01h1.17v5.14h-1.17zM131.7 162.01h1.17v5.14h-1.17zM133.93 162.01h1.17v5.14h-1.17zM168.48 162.01h1.17v5.14h-1.17zM51.46 167.1h1.17v5.14h-1.17zM57.03 167.1h1.17v5.14h-1.17zM73.75 167.1h1.17v5.14h-1.17zM75.98 167.1h1.17v5.14h-1.17zM89.35 167.1h1.17v5.14h-1.17zM91.58 167.1h1.17v5.14h-1.17zM97.15 167.1h1.17v5.14h-1.17zM99.38 167.1h1.17v5.14h-1.17zM104.96 167.1h1.17v5.14h-1.17zM112.76 167.1h1.17v5.14h-1.17zM136.16 167.1h1.17v5.14h-1.17zM141.74 167.1h1.17v5.14h-1.17zM146.19 167.1h1.17v5.14h-1.17zM149.54 167.1h1.17v5.14h-1.17zM155.11 167.1h1.17v5.14h-1.17zM156.22 167.1h1.17v5.14h-1.17zM158.45 167.1h1.17v5.14h-1.17zM53.69 172.18h1.17v5.14h-1.17zM55.92 172.18h1.17v5.14h-1.17zM70.41 172.18h1.17v5.14h-1.17zM80.44 172.18h1.17v5.14h-1.17zM84.89 172.18h1.17v5.14h-1.17zM122.79 172.18h1.17v5.14h-1.17zM132.82 172.18h1.17v5.14h-1.17zM136.16 172.18h1.17v5.14h-1.17zM140.62 172.18h1.17v5.14h-1.17zM141.74 172.18h1.17v5.14h-1.17zM174.06 172.18h1.17v5.14h-1.17zM47 177.26h1.17v5.14h-1.17zM51.46 177.26h1.17v5.14h-1.17zM62.6 177.26h1.17v5.14h-1.17zM64.83 177.26h1.17v5.14h-1.17zM65.95 177.26h1.17v5.14h-1.17zM68.18 177.26h1.17v5.14h-1.17zM78.21 177.26h1.17v5.14h-1.17zM79.32 177.26h1.17v5.14h-1.17zM90.47 177.26h1.17v5.14h-1.17zM98.27 177.26h1.17v5.14h-1.17zM104.96 177.26h1.17v5.14h-1.17zM122.79 177.26h1.17v5.14h-1.17zM129.48 177.26h1.17v5.14h-1.17zM136.16 177.26h1.17v5.14h-1.17zM149.54 177.26h1.17v5.14h-1.17zM150.65 177.26h1.17v5.14h-1.17zM161.8 177.26h1.17v5.14h-1.17zM175.17 177.26h1.17v5.14h-1.17zM47 182.35h1.17v5.14h-1.17zM52.57 182.35h1.17v5.14h-1.17zM53.69 182.35h1.17v5.14h-1.17zM61.49 182.35h1.17v5.14h-1.17zM74.86 182.35h1.17v5.14h-1.17zM88.24 182.35h1.17v5.14h-1.17zM98.27 182.35h1.17v5.14h-1.17zM104.96 182.35h1.17v5.14h-1.17zM106.07 182.35h1.17v5.14h-1.17zM121.67 182.35h1.17v5.14h-1.17zM122.79 182.35h1.17v5.14h-1.17zM136.16 182.35h1.17v5.14h-1.17zM174.06 182.35h1.17v5.14h-1.17zM51.46 187.43h1.17v5.14h-1.17zM61.49 187.43h1.17v5.14h-1.17zM71.52 187.43h1.17v5.14h-1.17zM72.63 187.43h1.17v5.14h-1.17zM93.81 187.43h1.17v5.14h-1.17zM107.18 187.43h1.17v5.14h-1.17zM110.53 187.43h1.17v5.14h-1.17zM122.79 187.43h1.17v5.14h-1.17zM123.9 187.43h1.17v5.14h-1.17zM151.77 187.43h1.17v5.14h-1.17zM152.88 187.43h1.17v5.14h-1.17zM166.25 187.43h1.17v5.14h-1.17zM48.11 192.52h1.17v5.14h-1.17zM53.69 192.52h1.17v5.14h-1.17zM55.92 192.52h1.17v5.14h-1.17zM58.15 192.52h1.17v5.14h-1.17zM73.75 192.52h1.17v5.14h-1.17zM87.12 192.52h1.17v5.14h-1.17zM91.58 192.52h1.17v5.14h-1.17zM98.27 192.52h1.17v5.14h-1.17zM119.44 192.52h1.17v5.14h-1.17zM135.05 192.52h1.17v5.14h-1.17zM143.96 192.52h1.17v5.14h-1.17zM145.08 192.52h1.17v5.14h-1.17zM157.34 192.52h1.17v5.14h-1.17zM166.25 192.52h1.17v5.14h-1.17zM175.17 192.52h1.17v5.14h-1.17z"/>
<path fill="#eccac6" d="M109.41 70.5h1.17v5.14h-1.17zM120.56 70.5h1.17v5.14h-1.17zM125.02 70.5h1.17v5.14h-1.17zM132.82 70.5h1.17v5.14h-1.17zM133.93 70.5h1.17v5.14h-1.17zM145.08 70.5h1.17v5.14h-1.17zM149.54 70.5h1.17v5.14h-1.17zM156.22 70.5h1.17v5.14h-1.17zM159.57 70.5h1.17v5.14h-1.17zM172.94 70.5h1.17v5.14h-1.17zM174.06 70.5h1.17v5.14h-1.17zM175.17 70.5h1.17v5.14h-1.17zM74.86 75.58h1.17v5.14h-1.17zM100.5 75.58h1.17v5.14h-1.17zM113.87 75.58h1.17v5.14h-1.17zM121.67 75.58h1.17v5.14h-1.17zM146.19 75.58h1.17v5.14h-1.17zM150.65 75.58h1.17v5.14h-1.17zM71.52 80.67h1.17v5.14h-1.17zM116.1 80.67h1.17v5.14h-1.17zM121.67 80.67h1.17v5.14h-1.17zM135.05 80.67h1.17v5.14h-1.17zM139.51 80.67h1.17v5.14h-1.17zM145.08 80.67h1.17v5.14h-1.17zM153.99 80.67h1.17v5.14h-1.17zM93.81 85.75h1.17v5.14h-1.17zM101.61 85.75h1.17v5.14h-1.17zM113.87 85.75h1.17v5.14h-1.17zM119.44 85.75h1.17v5.14h-1.17zM126.13 85.75h1.17v5.14h-1.17zM131.7 85.75h1.17v5.14h-1.17zM135.05 85.75h1.17v5.14h-1.17zM161.8 85.75h1.17v5.14h-1.17zM166.25 85.75h1.17v5.14h-1.17zM174.06 85.75h1.17v5.14h-1.17zM102.73 90.84h1.17v5.14h-1.17zM104.96 90.84h1.17v5.14h-1.17zM112.76 90.84h1.17v5.14h-1.17zM120.56 90.84h1.17v5.14h-1.17zM127.25 90.84h1.17v5.14h-1.17zM150.65 90.84h1.17v5.14h-1.17zM159.57 90.84h1.17v5.14h-1.17zM176.29 90.84h1.17v5.14h-1.17zM153.99 95.92h1.17v5.14h-1.17zM157.34 95.92h1.17v5.14h-1.17zM160.68 95.92h1.17v5.14h-1.17zM174.06 95.92h1.17v5.14h-1.17zM59.26 101h1.17v5.14h-1.17zM78.21 101h1.17v5.14h-1.17zM103.84 101h1.17v5.14h-1.17zM107.18 101h1.17v5.14h-1.17zM117.22 101h1.17v5.14h-1.17zM143.96 101h1.17v5.14h-1.17zM156.22 101h1.17v5.14h-1.17zM161.8 101h1.17v5.14h-1.17zM165.14 101h1.17v5.14h-1.17zM71.52 106.09h1.17v5.14h-1.17zM86.01 106.09h1.17v5.14h-1.17zM92.7 106.09h1.17v5.14h-1.17zM111.64 106.09h1.17v5.14h-1.17zM138.39 106.09h1.17v5.14h-1.17zM140.62 106.09h1.17v5.14h-1.17zM151.77 106.09h1.17v5.14h-1.17zM162.91 106.09h1.17v5.14h-1.17zM165.14 106.09h1.17v5.14h-1.17zM167.37 106.09h1.17v5.14h-1.17zM171.83 106.09h1.17v5.14h-1.17zM91.58 111.17h1.17v5.14h-1.17zM125.02 111.17h1.17v5.14h-1.17zM133.93 111.17h1.17v5.14h-1.17zM146.19 111.17h1.17v5.14h-1.17zM156.22 111.17h1.17v5.14h-1.17zM158.45 111.17h1.17v5.14h-1.17zM159.57 111.17h1.17v5.14h-1.17zM162.91 111.17h1.17v5.14h-1.17zM78.21 116.26h1.17v5.14h-1.17zM83.78 116.26h1.17v5.14h-1.17zM88.24 116.26h1.17v5.14h-1.17zM90.47 116.26h1.17v5.14h-1.17zM94.92 116.26h1.17v5.14h-1.17zM106.07 116.26h1.17v5.14h-1.17zM112.76 116.26h1.17v5.14h-1.17zM118.33 116.26h1.17v5.14h-1.17zM155.11 116.26h1.17v5.14h-1.17zM160.68 116.26h1.17v5.14h-1.17zM166.25 116.26h1.17v5.14h-1.17zM176.29 116.26h1.17v5.14h-1.17zM60.37 121.34h1.17v5.14h-1.17zM61.49 121.34h1.17v5.14h-1.17zM74.86 121.34h1.17v5.14h-1.17zM107.18 121.34h1.17v5.14h-1.17zM111.64 121.34h1.17v5.14h-1.17zM117.22 121.34h1.17v5.14h-1.17zM129.48 121.34h1.17v5.14h-1.17zM135.05 121.34h1.17v5.14h-1.17zM145.08 121.34h1.17v5.14h-1.17zM146.19 121.34h1.17v5.14h-1.17zM148.42 121.34h1.17v5.14h-1.17zM161.8 121.34h1.17v5.14h-1.17zM162.91 121.34h1.17v5.14h-1.17zM72.63 126.42h1.17v5.14h-1.17zM75.98 126.42h1.17v5.14h-1.17zM84.89 126.42h1.17v5.14h-1.17zM118.33 126.42h1.17v5.14h-1.17zM141.74 126.42h1.17v5.14h-1.17zM143.96 126.42h1.17v5.14h-1.17zM146.19 126.42h1.17v5.14h-1.17zM147.31 126.42h1.17v5.14h-1.17zM171.83 126.42h1.17v5.14h-1.17zM174.06 126.42h1.17v5.14h-1.17zM50.34 131.51h1.17v5.14h-1.17zM96.04 131.51h1.17v5.14h-1.17zM98.27 131.51h1.17v5.14h-1.17zM99.38 131.51h1.17v5.14h-1.17zM116.1 131.51h1.17v5.14h-1.17zM152.88 131.51h1.17v5.14h-1.17zM70.41 136.59h1.17v5.14h-1.17zM79.32 136.59h1.17v5.14h-1.17zM114.99 136.59h1.17v5.14h-1.17zM121.67 136.59h1.17v5.14h-1.17zM123.9 136.59h1.17v5.14h-1.17zM128.36 136.59h1.17v5.14h-1.17zM142.85 136.59h1.17v5.14h-1.17zM60.37 141.68h1.17v5.14h-1.17zM98.27 141.68h1.17v5.14h-1.17zM121.67 141.68h1.17v5.14h-1.17zM127.25 141.68h1.17v5.14h-1.17zM137.28 141.68h1.17v5.14h-1.17zM142.85 141.68h1.17v5.14h-1.17zM145.08 141.68h1.17v5.14h-1.17zM146.19 141.68h1.17v5.14h-1.17zM156.22 141.68h1.17v5.14h-1.17zM170.71 141.68h1.17v5.14h-1.17zM52.57 146.76h1.17v5.14h-1.17zM53.69 146.76h1.17v5.14h-1.17zM106.07 146.76h1.17v5.14h-1.17zM111.64 146.76h1.17v5.14h-1.17zM126.13 146.76h1.17v5.14h-1.17zM129.48 146.76h1.17v5.14h-1.17zM136.16 146.76h1.17v5.14h-1.17zM168.48 146.76h1.17v5.14h-1.17zM172.94 146.76h1.17v5.14h-1.17zM87.12 151.84h1.17v5.14h-1.17zM91.58 151.84h1.17v5.14h-1.17zM97.15 151.84h1.17v5.14h-1.17zM99.38 151.84h1.17v5.14h-1.17zM102.73 151.84h1.17v5.14h-1.17zM127.25 151.84h1.17v5.14h-1.17zM141.74 151.84h1.17v5.14h-1.17zM145.08 151.84h1.17v5.14h-1.17zM157.34 151.84h1.17v5.14h-1.17zM160.68 151.84h1.17v5.14h-1.17zM162.91 151.84h1.17v5.14h-1.17zM47 156.93h1.17v5.14h-1.17zM48.11 156.93h1.17v5.14h-1.17zM54.8 156.93h1.17v5.14h-1.17zM70.41 156.93h1.17v5.14h-1.17zM74.86 156.93h1.17v5.14h-1.17zM75.98 156.93h1.17v5.14h-1.17zM77.09 156.93h1.17v5.14h-1.17zM80.44 156.93h1.17v5.14h-1.17zM87.12 156.93h1.17v5.14h-1.17zM90.47 156.93h1.17v5.14h-1.17zM107.18 156.93h1.17v5.14h-1.17zM138.39 156.93h1.17v5.14h-1.17zM50.34 162.01h1.17v5.14h-1.17zM51.46 162.01h1.17v5.14h-1.17zM55.92 162.01h1.17v5.14h-1.17zM60.37 162.01h1.17v5.14h-1.17zM63.72 162.01h1.17v5.14h-1.17zM79.32 162.01h1.17v5.14h-1.17zM91.58 162.01h1.17v5.14h-1.17zM96.04 162.01h1.17v5.14h-1.17zM107.18 162.01h1.17v5.14h-1.17zM109.41 162.01h1.17v5.14h-1.17zM130.59 162.01h1.17v5.14h-1.17zM141.74 162.01h1.17v5.14h-1.17zM167.37 162.01h1.17v5.14h-1.17zM49.23 167.1h1.17v5.14h-1.17zM64.83 167.1h1.17v5.14h-1.17zM77.09 167.1h1.17v5.14h-1.17zM98.27 167.1h1.17v5.14h-1.17zM109.41 167.1h1.17v5.14h-1.17zM121.67 167.1h1.17v5.14h-1.17zM145.08 167.1h1.17v5.14h-1.17zM159.57 167.1h1.17v5.14h-1.17zM161.8 167.1h1.17v5.14h-1.17zM166.25 167.1h1.17v5.14h-1.17zM57.03 172.18h1.17v5.14h-1.17zM59.26 172.18h1.17v5.14h-1.17zM60.37 172.18h1.17v5.14h-1.17zM64.83 172.18h1.17v5.14h-1.17zM73.75 172.18h1.17v5.14h-1.17zM78.21 172.18h1.17v5.14h-1.17zM83.78 172.18h1.17v5.14h-1.17zM96.04 172.18h1.17v5.14h-1.17zM117.22 172.18h1.17v5.14h-1.17zM118.33 172.18h1.17v5.14h-1.17zM143.96 172.18h1.17v5.14h-1.17zM148.42 172.18h1.17v5.14h-1.17zM161.8 172.18h1.17v5.14h-1.17zM171.83 172.18h1.17v5.14h-1.17zM72.63 177.26h1.17v5.14h-1.17zM74.86 177.26h1.17v5.14h-1.17zM82.66 177.26h1.17v5.14h-1.17zM112.76 177.26h1.17v5.14h-1.17zM118.33 177.26h1.17v5.14h-1.17zM141.74 177.26h1.17v5.14h-1.17zM156.22 177.26h1.17v5.14h-1.17zM48.11 182.35h1.17v5.14h-1.17zM57.03 182.35h1.17v5.14h-1.17zM63.72 182.35h1.17v5.14h-1.17zM83.78 182.35h1.17v5.14h-1.17zM91.58 182.35h1.17v5.14h-1.17zM93.81 182.35h1.17v5.14h-1.17zM127.25 182.35h1.17v5.14h-1.17zM128.36 182.35h1.17v5.14h-1.17zM130.59 182.35h1.17v5.14h-1.17zM132.82 182.35h1.17v5.14h-1.17zM150.65 182.35h1.17v5.14h-1.17zM47 187.43h1.17v5.14h-1.17zM50.34 187.43h1.17v5.14h-1.17zM86.01 187.43h1.17v5.14h-1.17zM112.76 187.43h1.17v5.14h-1.17zM120.56 187.43h1.17v5.14h-1.17zM158.45 187.43h1.17v5.14h-1.17zM47 192.52h1.17v5.14h-1.17zM52.57 192.52h1.17v5.14h-1.17zM54.8 192.52h1.17v5.14h-1.17zM93.81 192.52h1.17v5.14h-1.17zM109.41 192.52h1.17v5.14h-1.17zM118.33 192.52h1.17v5.14h-1.17zM120.56 192.52h1.17v5.14h-1.17zM123.9 192.52h1.17v5.14h-1.17zM125.02 192.52h1.17v5.14h-1.17zM128.36 192.52h1.17v5.14h-1.17zM129.48 192.52h1.17v5.14h-1.17zM146.19 192.52h1.17v5.14h-1.17zM174.06 192.52h1.17v5.14h-1.17zM176.29 192.52h1.17v5.14h-1.17z"/>
<path fill="#e8bab5" d="M138.39 70.5h1.17v5.14h-1.17zM143.96 70.5h1.17v5.14h-1.17zM152.88 70.5h1.17v5.14h-1.17zM161.8 70.5h1.17v5.14h-1.17zM165.14 70.5h1.17v5.14h-1.17zM168.48 70.5h1.17v5.14h-1.17zM65.95 75.58h1.17v5.14h-1.17zM120.56 75.58h1.17v5.14h-1.17zM139.51 75.58h1.17v5.14h-1.17zM141.74 75.58h1.17v5.14h-1.17zM153.99 75.58h1.17v5.14h-1.17zM161.8 75.58h1.17v5.14h-1.17zM167.37 75.58h1.17v5.14h-1.17zM150.65 80.67h1.17v5.14h-1.17zM161.8 80.67h1.17v5.14h-1.17zM106.07 85.75h1.17v5.14h-1.17zM157.34 85.75h1.17v5.14h-1.17zM162.91 85.75h1.17v5.14h-1.17zM175.17 85.75h1.17v5.14h-1.17zM176.29 85.75h1.17v5.14h-1.17zM140.62 90.84h1.17v5.14h-1.17zM147.31 90.84h1.17v5.14h-1.17zM155.11 90.84h1.17v5.14h-1.17zM169.6 90.84h1.17v5.14h-1.17zM67.06 95.92h1.17v5.14h-1.17zM103.84 95.92h1.17v5.14h-1.17zM108.3 95.92h1.17v5.14h-1.17zM116.1 95.92h1.17v5.14h-1.17zM126.13 95.92h1.17v5.14h-1.17zM155.11 95.92h1.17v5.14h-1.17zM110.53 101h1.17v5.14h-1.17zM129.48 101h1.17v5.14h-1.17zM132.82 101h1.17v5.14h-1.17zM138.39 101h1.17v5.14h-1.17zM75.98 106.09h1.17v5.14h-1.17zM100.5 106.09h1.17v5.14h-1.17zM131.7 106.09h1.17v5.14h-1.17zM153.99 106.09h1.17v5.14h-1.17zM157.34 106.09h1.17v5.14h-1.17zM161.8 106.09h1.17v5.14h-1.17zM170.71 106.09h1.17v5.14h-1.17zM172.94 106.09h1.17v5.14h-1.17zM176.29 106.09h1.17v5.14h-1.17zM47 111.17h1.17v5.14h-1.17zM151.77 111.17h1.17v5.14h-1.17zM84.89 116.26h1.17v5.14h-1.17zM101.61 116.26h1.17v5.14h-1.17zM110.53 116.26h1.17v5.14h-1.17zM142.85 116.26h1.17v5.14h-1.17zM153.99 116.26h1.17v5.14h-1.17zM55.92 121.34h1.17v5.14h-1.17zM78.21 121.34h1.17v5.14h-1.17zM103.84 121.34h1.17v5.14h-1.17zM137.28 121.34h1.17v5.14h-1.17zM147.31 121.34h1.17v5.14h-1.17zM168.48 121.34h1.17v5.14h-1.17zM175.17 121.34h1.17v5.14h-1.17zM79.32 126.42h1.17v5.14h-1.17zM133.93 126.42h1.17v5.14h-1.17zM139.51 126.42h1.17v5.14h-1.17zM142.85 126.42h1.17v5.14h-1.17zM156.22 126.42h1.17v5.14h-1.17zM160.68 126.42h1.17v5.14h-1.17zM167.37 126.42h1.17v5.14h-1.17zM168.48 126.42h1.17v5.14h-1.17zM80.44 131.51h1.17v5.14h-1.17zM91.58 131.51h1.17v5.14h-1.17zM93.81 131.51h1.17v5.14h-1.17zM110.53 131.51h1.17v5.14h-1.17zM113.87 131.51h1.17v5.14h-1.17zM126.13 131.51h1.17v5.14h-1.17zM158.45 131.51h1.17v5.14h-1.17zM175.17 131.51h1.17v5.14h-1.17zM137.28 136.59h1.17v5.14h-1.17zM172.94 136.59h1.17v5.14h-1.17zM71.52 141.68h1.17v5.14h-1.17zM91.58 141.68h1.17v5.14h-1.17zM108.3 141.68h1.17v5.14h-1.17zM117.22 141.68h1.17v5.14h-1.17zM120.56 141.68h1.17v5.14h-1.17zM135.05 141.68h1.17v5.14h-1.17zM165.14 141.68h1.17v5.14h-1.17zM70.41 146.76h1.17v5.14h-1.17zM127.25 146.76h1.17v5.14h-1.17zM171.83 146.76h1.17v5.14h-1.17zM81.55 151.84h1.17v5.14h-1.17zM120.56 151.84h1.17v5.14h-1.17zM152.88 151.84h1.17v5.14h-1.17zM159.57 151.84h1.17v5.14h-1.17zM165.14 151.84h1.17v5.14h-1.17zM170.71 151.84h1.17v5.14h-1.17zM73.75 156.93h1.17v5.14h-1.17zM98.27 156.93h1.17v5.14h-1.17zM120.56 156.93h1.17v5.14h-1.17zM132.82 156.93h1.17v5.14h-1.17zM52.57 162.01h1.17v5.14h-1.17zM58.15 162.01h1.17v5.14h-1.17zM174.06 162.01h1.17v5.14h-1.17zM86.01 167.1h1.17v5.14h-1.17zM87.12 167.1h1.17v5.14h-1.17zM111.64 167.1h1.17v5.14h-1.17zM133.93 167.1h1.17v5.14h-1.17zM142.85 167.1h1.17v5.14h-1.17zM82.66 172.18h1.17v5.14h-1.17zM98.27 172.18h1.17v5.14h-1.17zM104.96 172.18h1.17v5.14h-1.17zM48.11 177.26h1.17v5.14h-1.17zM49.23 177.26h1.17v5.14h-1.17zM54.8 177.26h1.17v5.14h-1.17zM69.29 177.26h1.17v5.14h-1.17zM70.41 177.26h1.17v5.14h-1.17zM84.89 177.26h1.17v5.14h-1.17zM139.51 177.26h1.17v5.14h-1.17zM55.92 182.35h1.17v5.14h-1.17zM72.63 182.35h1.17v5.14h-1.17zM75.98 182.35h1.17v5.14h-1.17zM84.89 182.35h1.17v5.14h-1.17zM99.38 182.35h1.17v5.14h-1.17zM101.61 182.35h1.17v5.14h-1.17zM116.1 182.35h1.17v5.14h-1.17zM117.22 182.35h1.17v5.14h-1.17zM164.03 182.35h1.17v5.14h-1.17zM49.23 187.43h1.17v5.14h-1.17zM55.92 187.43h1.17v5.14h-1.17zM58.15 187.43h1.17v5.14h-1.17zM65.95 187.43h1.17v5.14h-1.17zM74.86 187.43h1.17v5.14h-1.17zM164.03 192.52h1.17v5.14h-1.17zM169.6 192.52h1.17v5.14h-1.17z"/>
<path fill="#e4aaa3" d="M155.11 70.5h1.17v5.14h-1.17zM86.01 75.58h1.17v5.14h-1.17zM147.31 75.58h1.17v5.14h-1.17zM149.54 75.58h1.17v5.14h-1.17zM159.57 75.58h1.17v5.14h-1.17zM162.91 75.58h1.17v5.14h-1.17zM164.03 75.58h1.17v5.14h-1.17zM170.71 75.58h1.17v5.14h-1.17zM176.29 75.58h1.17v5.14h-1.17zM125.02 80.67h1.17v5.14h-1.17zM131.7 80.67h1.17v5.14h-1.17zM156.22 80.67h1.17v5.14h-1.17zM165.14 80.67h1.17v5.14h-1.17zM175.17 80.67h1.17v5.14h-1.17zM155.11 85.75h1.17v5.14h-1.17zM100.5 90.84h1.17v5.14h-1.17zM123.9 90.84h1.17v5.14h-1.17zM135.05 90.84h1.17v5.14h-1.17zM136.16 90.84h1.17v5.14h-1.17zM153.99 90.84h1.17v5.14h-1.17zM165.14 90.84h1.17v5.14h-1.17zM132.82 95.92h1.17v5.14h-1.17zM161.8 95.92h1.17v5.14h-1.17zM176.29 95.92h1.17v5.14h-1.17zM61.49 101h1.17v5.14h-1.17zM86.01 101h1.17v5.14h-1.17zM136.16 101h1.17v5.14h-1.17zM166.25 101h1.17v5.14h-1.17zM169.6 101h1.17v5.14h-1.17zM120.56 111.17h1.17v5.14h-1.17zM157.34 111.17h1.17v5.14h-1.17zM174.06 111.17h1.17v5.14h-1.17zM104.96 116.26h1.17v5.14h-1.17zM126.13 116.26h1.17v5.14h-1.17zM130.59 116.26h1.17v5.14h-1.17zM80.44 121.34h1.17v5.14h-1.17zM166.25 121.34h1.17v5.14h-1.17zM176.29 121.34h1.17v5.14h-1.17zM74.86 126.42h1.17v5.14h-1.17zM158.45 126.42h1.17v5.14h-1.17zM61.49 131.51h1.17v5.14h-1.17zM117.22 131.51h1.17v5.14h-1.17zM145.08 131.51h1.17v5.14h-1.17zM139.51 136.59h1.17v5.14h-1.17zM140.62 136.59h1.17v5.14h-1.17zM141.74 136.59h1.17v5.14h-1.17zM150.65 136.59h1.17v5.14h-1.17zM166.25 136.59h1.17v5.14h-1.17zM171.83 136.59h1.17v5.14h-1.17zM162.91 141.68h1.17v5.14h-1.17zM110.53 146.76h1.17v5.14h-1.17zM138.39 146.76h1.17v5.14h-1.17zM140.62 146.76h1.17v5.14h-1.17zM141.74 146.76h1.17v5.14h-1.17zM100.5 151.84h1.17v5.14h-1.17zM114.99 151.84h1.17v5.14h-1.17zM52.57 156.93h1.17v5.14h-1.17zM69.29 162.01h1.17v5.14h-1.17zM81.55 162.01h1.17v5.14h-1.17zM102.73 162.01h1.17v5.14h-1.17zM50.34 172.18h1.17v5.14h-1.17zM139.51 172.18h1.17v5.14h-1.17zM63.72 177.26h1.17v5.14h-1.17zM73.75 177.26h1.17v5.14h-1.17zM92.7 177.26h1.17v5.14h-1.17zM137.28 177.26h1.17v5.14h-1.17zM54.8 182.35h1.17v5.14h-1.17zM69.29 182.35h1.17v5.14h-1.17zM71.52 182.35h1.17v5.14h-1.17zM96.04 182.35h1.17v5.14h-1.17zM78.21 187.43h1.17v5.14h-1.17zM97.15 187.43h1.17v5.14h-1.17zM117.22 192.52h1.17v5.14h-1.17z"/>
<path fill="#df9a92" d="M169.6 70.5h1.17v5.14h-1.17zM128.36 80.67h1.17v5.14h-1.17zM166.25 80.67h1.17v5.14h-1.17zM118.33 85.75h1.17v5.14h-1.17zM110.53 90.84h1.17v5.14h-1.17zM164.03 90.84h1.17v5.14h-1.17zM70.41 95.92h1.17v5.14h-1.17zM136.16 95.92h1.17v5.14h-1.17zM72.63 101h1.17v5.14h-1.17zM136.16 106.09h1.17v5.14h-1.17zM141.74 106.09h1.17v5.14h-1.17zM148.42 106.09h1.17v5.14h-1.17zM152.88 111.17h1.17v5.14h-1.17zM168.48 111.17h1.17v5.14h-1.17zM139.51 121.34h1.17v5.14h-1.17zM161.8 126.42h1.17v5.14h-1.17zM162.91 126.42h1.17v5.14h-1.17zM176.29 126.42h1.17v5.14h-1.17zM102.73 131.51h1.17v5.14h-1.17zM172.94 131.51h1.17v5.14h-1.17zM174.06 136.59h1.17v5.14h-1.17zM64.83 141.68h1.17v5.14h-1.17zM101.61 146.76h1.17v5.14h-1.17zM104.96 146.76h1.17v5.14h-1.17zM139.51 146.76h1.17v5.14h-1.17zM152.88 146.76h1.17v5.14h-1.17zM50.34 156.93h1.17v5.14h-1.17zM123.9 162.01h1.17v5.14h-1.17zM52.57 167.1h1.17v5.14h-1.17zM55.92 167.1h1.17v5.14h-1.17zM69.29 167.1h1.17v5.14h-1.17zM113.87 167.1h1.17v5.14h-1.17zM49.23 172.18h1.17v5.14h-1.17zM86.01 172.18h1.17v5.14h-1.17z"/>
<path fill="#da8a81" d="M176.29 70.5h1.17v5.14h-1.17zM123.9 75.58h1.17v5.14h-1.17zM149.54 80.67h1.17v5.14h-1.17zM174.06 80.67h1.17v5.14h-1.17zM122.79 85.75h1.17v5.14h-1.17zM157.34 90.84h1.17v5.14h-1.17zM145.08 101h1.17v5.14h-1.17zM174.06 101h1.17v5.14h-1.17zM126.13 111.17h1.17v5.14h-1.17zM167.37 111.17h1.17v5.14h-1.17zM169.6 116.26h1.17v5.14h-1.17zM164.03 131.51h1.17v5.14h-1.17zM162.91 136.59h1.17v5.14h-1.17zM63.72 146.76h1.17v5.14h-1.17zM151.77 146.76h1.17v5.14h-1.17zM167.37 151.84h1.17v5.14h-1.17zM118.33 156.93h1.17v5.14h-1.17zM89.35 187.43h1.17v5.14h-1.17zM141.74 192.52h1.17v5.14h-1.17z"/>
<path fill="#d67a6f" d="M172.94 101h1.17v5.14h-1.17zM153.99 141.68h1.17v5.14h-1.17z"/>
<text x="179.1" y="74.72" font-size="5" textLength="19.86" lengthAdjust="spacingAndGlyphs">STAT2_rna</text>
<text x="179.1" y="79.8" font-size="5" textLength="25.75" lengthAdjust="spacingAndGlyphs">LAP3_protein</text>
<text x="179.1" y="84.89" font-size="5" textLength="28.82" lengthAdjust="spacingAndGlyphs">USP15_protein</text>
<text x="179.1" y="89.97" font-size="5" textLength="28.59" lengthAdjust="spacingAndGlyphs">VPS36_protein</text>
<text x="179.1" y="95.05" font-size="5" textLength="23.13" lengthAdjust="spacingAndGlyphs">VPS33A_rna</text>
<text x="179.1" y="100.13" font-size="5" textLength="24.57" lengthAdjust="spacingAndGlyphs">MVP_protein</text>
<text x="179.1" y="105.22" font-size="5" textLength="30" lengthAdjust="spacingAndGlyphs">MMS19_protein</text>
<text x="179.1" y="110.3" font-size="5" textLength="27.4" lengthAdjust="spacingAndGlyphs">DGKA_protein</text>
<text x="179.1" y="115.38" font-size="5" textLength="30.47" lengthAdjust="spacingAndGlyphs">TRIM22_protein</text>
<text x="179.1" y="120.47" font-size="5" textLength="30" lengthAdjust="spacingAndGlyphs">HYOU1_protein</text>
<text x="179.1" y="125.55" font-size="5" textLength="28.82" lengthAdjust="spacingAndGlyphs">ESYT1_protein</text>
<text x="179.1" y="130.63" font-size="5" textLength="24.01" lengthAdjust="spacingAndGlyphs">EIF2AK2_rna</text>
<text x="179.1" y="135.72" font-size="5" textLength="29.29" lengthAdjust="spacingAndGlyphs">CASP3_protein</text>
<text x="179.1" y="140.8" font-size="5" textLength="35.2" lengthAdjust="spacingAndGlyphs">ASPSCR1_protein</text>
<text x="179.1" y="145.88" font-size="5" textLength="31.89" lengthAdjust="spacingAndGlyphs">TRAFD1_protein</text>
<text x="179.1" y="150.97" font-size="5" textLength="26.14" lengthAdjust="spacingAndGlyphs">ATG3_protein</text>
<text x="179.1" y="156.05" font-size="5" textLength="24.1" lengthAdjust="spacingAndGlyphs">MX1_protein</text>
<text x="179.1" y="161.13" font-size="5" textLength="32.13" lengthAdjust="spacingAndGlyphs">PGM2L1_protein</text>
<text x="179.1" y="166.21" font-size="5" textLength="32.6" lengthAdjust="spacingAndGlyphs">PRUNE1_protein</text>
<text x="179.1" y="171.3" font-size="5" textLength="30" lengthAdjust="spacingAndGlyphs">NCOA7_protein</text>
<text x="179.1" y="176.38" font-size="5" textLength="27.16" lengthAdjust="spacingAndGlyphs">NME3_protein</text>
<text x="179.1" y="181.46" font-size="5" textLength="32.84" lengthAdjust="spacingAndGlyphs">CREBBP_protein</text>
<text x="179.1" y="186.55" font-size="5" textLength="25.67" lengthAdjust="spacingAndGlyphs">KAT8_protein</text>
<text x="179.1" y="191.63" font-size="5" textLength="31.89" lengthAdjust="spacingAndGlyphs">TUBA4A_protein</text>
<text x="179.1" y="196.71" font-size="5" textLength="27.4" lengthAdjust="spacingAndGlyphs">MDH1_protein</text>
<defs><linearGradient id="zg" x1="0" y1="0" x2="0" y2="1"><stop offset="0" stop-color="#c4392a"/><stop offset="0.5" stop-color="#fafafa"/><stop offset="1" stop-color="#2166ac"/></linearGradient></defs>
<rect x="214.4" y="108.5" width="5.5" height="28.1" fill="url(#zg)"/>
<text x="213.5" y="105.73" font-size="6.2" fill="#333" textLength="19.6" lengthAdjust="spacingAndGlyphs">Z−score</text>
<text x="221.6" y="112.03" font-size="6.2" fill="#333" textLength="7.76" lengthAdjust="spacingAndGlyphs">5.0</text>
<text x="221.6" y="117.73" font-size="6.2" fill="#333" textLength="7.76" lengthAdjust="spacingAndGlyphs">2.5</text>
<text x="221.6" y="123.63" font-size="6.2" fill="#333" textLength="7.76" lengthAdjust="spacingAndGlyphs">0.0</text>
<text x="221.6" y="130.13" font-size="6.2" fill="#333" textLength="11.02" lengthAdjust="spacingAndGlyphs">−2.5</text>
<text x="221.6" y="136.43" font-size="6.2" fill="#333" textLength="11.02" lengthAdjust="spacingAndGlyphs">−5.0</text>
<rect x="47.1" y="203.2" width="129.4" height="20.4" fill="#efefef" stroke="#9a9a9a" stroke-width="0.6"/>
<line x1="47.1" y1="207.28" x2="176.5" y2="207.28" stroke="#fbfbfb" stroke-width="0.4" />
<line x1="47.1" y1="211.36" x2="176.5" y2="211.36" stroke="#fbfbfb" stroke-width="0.4" />
<line x1="47.1" y1="215.44" x2="176.5" y2="215.44" stroke="#fbfbfb" stroke-width="0.4" />
<line x1="47.1" y1="219.52" x2="176.5" y2="219.52" stroke="#fbfbfb" stroke-width="0.4" />
<path d="M47.4 222.5 L50.2 222.6 L52.2 219.6 L56.9 218.9 L70.4 217 L100 215.6 L120 214.8 L140 213.4 L158.5 211.5 L160.5 210.1 L166 208.9 L173 207.6 L175 206 L176.3 204.3" fill="none" stroke="#333" stroke-width="1.25" stroke-linejoin="round"/>
<line x1="45.8" y1="222.1" x2="47.1" y2="222.1" stroke="#888" stroke-width="0.4" />
<line x1="45.8" y1="218.62" x2="47.1" y2="218.62" stroke="#888" stroke-width="0.4" />
<line x1="45.8" y1="215.14" x2="47.1" y2="215.14" stroke="#888" stroke-width="0.4" />
<line x1="45.8" y1="211.66" x2="47.1" y2="211.66" stroke="#888" stroke-width="0.4" />
<line x1="45.8" y1="208.18" x2="47.1" y2="208.18" stroke="#888" stroke-width="0.4" />
<line x1="45.8" y1="204.7" x2="47.1" y2="204.7" stroke="#888" stroke-width="0.4" />
<text x="37.7" y="213.6" font-size="4.9" text-anchor="middle" fill="#333" textLength="13.2" lengthAdjust="spacingAndGlyphs" transform="rotate(-90 37.7 213.6)">Z−score</text>
<text x="43.6" y="212.9" font-size="3.6" text-anchor="middle" fill="#666" textLength="20.8" lengthAdjust="spacingAndGlyphs" transform="rotate(-90 43.6 212.9)">−1 0 1 2 3 4 5</text>
<text x="111.8" y="230.53" font-size="5.9" text-anchor="middle" fill="#444" textLength="46.7" lengthAdjust="spacingAndGlyphs">STAT2 protein expression</text>
<text x="311.5" y="11.5" font-size="6.8" text-anchor="middle" font-weight="bold" textLength="80.8" lengthAdjust="spacingAndGlyphs">STAT2 protein expression</text>
<line x1="251.7" y1="31.1" x2="254.9" y2="31.1" stroke="#2a2a2a" stroke-width="0.9" />
<text x="250.6" y="33.9" font-size="6.4" text-anchor="end" fill="#333" textLength="11.3" lengthAdjust="spacingAndGlyphs">17.0</text>
<line x1="251.7" y1="47.5" x2="254.9" y2="47.5" stroke="#2a2a2a" stroke-width="0.9" />
<text x="250.6" y="50.3" font-size="6.4" text-anchor="end" fill="#333" textLength="11.3" lengthAdjust="spacingAndGlyphs">16.5</text>
<line x1="251.7" y1="64" x2="254.9" y2="64" stroke="#2a2a2a" stroke-width="0.9" />
<text x="250.6" y="66.8" font-size="6.4" text-anchor="end" fill="#333" textLength="11.3" lengthAdjust="spacingAndGlyphs">16.0</text>
<line x1="251.7" y1="80.5" x2="254.9" y2="80.5" stroke="#2a2a2a" stroke-width="0.9" />
<text x="250.6" y="83.3" font-size="6.4" text-anchor="end" fill="#333" textLength="11.3" lengthAdjust="spacingAndGlyphs">15.5</text>
<line x1="251.7" y1="96.9" x2="254.9" y2="96.9" stroke="#2a2a2a" stroke-width="0.9" />
<text x="250.6" y="99.7" font-size="6.4" text-anchor="end" fill="#333" textLength="11.3" lengthAdjust="spacingAndGlyphs">15.0</text>
<text x="236" y="58.1" font-size="8.6" text-anchor="middle" textLength="67.8" lengthAdjust="spacingAndGlyphs" transform="rotate(-90 236 58.1)">Normalized expression</text>
<line x1="271.1" y1="48.5" x2="271.1" y2="96.2" stroke="#111" stroke-width="0.6" />
<rect x="260.6" y="63.8" width="21" height="15.7" fill="#cc1736" stroke="#262626" stroke-width="0.55"/>
<line x1="260.6" y1="70.4" x2="281.6" y2="70.4" stroke="#1a1a1a" stroke-width="1" />
<circle cx="271.1" cy="61.47" r="1.1" fill="#111"/>
<circle cx="271.1" cy="67.8" r="1.1" fill="#111"/>
<circle cx="271.1" cy="70.86" r="1.1" fill="#111"/>
<circle cx="271.1" cy="76.18" r="1.1" fill="#111"/>
<circle cx="271.1" cy="48.93" r="1.1" fill="#111"/>
<circle cx="271.1" cy="70.59" r="1.1" fill="#111"/>
<circle cx="271.1" cy="63.83" r="1.1" fill="#111"/>
<circle cx="271.1" cy="75.13" r="1.1" fill="#111"/>
<circle cx="271.1" cy="78.64" r="1.1" fill="#111"/>
<circle cx="271.1" cy="80.01" r="1.1" fill="#111"/>
<circle cx="271.1" cy="56.78" r="1.1" fill="#111"/>
<circle cx="271.1" cy="85.87" r="1.1" fill="#111"/>
<circle cx="271.1" cy="70.43" r="1.1" fill="#111"/>
<circle cx="271.1" cy="51.89" r="1.1" fill="#111"/>
<circle cx="271.1" cy="71.58" r="1.1" fill="#111"/>
<circle cx="271.1" cy="67.42" r="1.1" fill="#111"/>
<circle cx="271.1" cy="71.02" r="1.1" fill="#111"/>
<circle cx="271.1" cy="64.14" r="1.1" fill="#111"/>
<circle cx="271.1" cy="72.54" r="1.1" fill="#111"/>
<circle cx="271.1" cy="66.72" r="1.1" fill="#111"/>
<circle cx="271.1" cy="93.86" r="1.1" fill="#111"/>
<circle cx="271.1" cy="53.59" r="1.1" fill="#111"/>
<circle cx="271.1" cy="74.97" r="1.1" fill="#111"/>
<circle cx="271.1" cy="86.55" r="1.1" fill="#111"/>
<circle cx="271.1" cy="74.32" r="1.1" fill="#111"/>
<circle cx="271.1" cy="73.03" r="1.1" fill="#111"/>
<circle cx="271.1" cy="93.63" r="1.1" fill="#111"/>
<circle cx="271.1" cy="73.05" r="1.1" fill="#111"/>
<circle cx="271.1" cy="52.21" r="1.1" fill="#111"/>
<circle cx="271.1" cy="70.3" r="1.1" fill="#111"/>
<circle cx="271.1" cy="48.5" r="1.1" fill="#111"/>
<circle cx="271.1" cy="96.2" r="1.1" fill="#111"/>
<line x1="271.1" y1="99.8" x2="271.1" y2="102.6" stroke="#2a2a2a" stroke-width="0.9" />
<line x1="298.8" y1="48.5" x2="298.8" y2="67.7" stroke="#111" stroke-width="0.6" />
<rect x="288.2" y="51" width="21.2" height="10.5" fill="#1b5a98" stroke="#262626" stroke-width="0.55"/>
<line x1="288.2" y1="57.1" x2="309.4" y2="57.1" stroke="#1a1a1a" stroke-width="1" />
<circle cx="298.8" cy="67.38" r="1.1" fill="#111"/>
<circle cx="298.8" cy="48.71" r="1.1" fill="#111"/>
<circle cx="298.8" cy="58.73" r="1.1" fill="#111"/>
<circle cx="298.8" cy="54.24" r="1.1" fill="#111"/>
<circle cx="298.8" cy="57.37" r="1.1" fill="#111"/>
<circle cx="298.8" cy="52.66" r="1.1" fill="#111"/>
<circle cx="298.8" cy="55.13" r="1.1" fill="#111"/>
<circle cx="298.8" cy="61.45" r="1.1" fill="#111"/>
<circle cx="298.8" cy="64.87" r="1.1" fill="#111"/>
<circle cx="298.8" cy="53.82" r="1.1" fill="#111"/>
<circle cx="298.8" cy="48.5" r="1.1" fill="#111"/>
<circle cx="298.8" cy="67.7" r="1.1" fill="#111"/>
<circle cx="298.8" cy="33.5" r="1.1" fill="#111"/>
<circle cx="298.8" cy="87.2" r="1.1" fill="#111"/>
<line x1="298.8" y1="99.8" x2="298.8" y2="102.6" stroke="#2a2a2a" stroke-width="0.9" />
<line x1="326.5" y1="36.8" x2="326.5" y2="83.8" stroke="#111" stroke-width="0.6" />
<rect x="316" y="55.3" width="21" height="17.6" fill="#3bb54b" stroke="#262626" stroke-width="0.55"/>
<line x1="316" y1="67.9" x2="337" y2="67.9" stroke="#1a1a1a" stroke-width="1" />
<circle cx="326.5" cy="64.88" r="1.1" fill="#111"/>
<circle cx="326.5" cy="65.93" r="1.1" fill="#111"/>
<circle cx="326.5" cy="56.45" r="1.1" fill="#111"/>
<circle cx="326.5" cy="52.29" r="1.1" fill="#111"/>
<circle cx="326.5" cy="59.42" r="1.1" fill="#111"/>
<circle cx="326.5" cy="78.03" r="1.1" fill="#111"/>
<circle cx="326.5" cy="63.68" r="1.1" fill="#111"/>
<circle cx="326.5" cy="57.95" r="1.1" fill="#111"/>
<circle cx="326.5" cy="70.58" r="1.1" fill="#111"/>
<circle cx="326.5" cy="68.35" r="1.1" fill="#111"/>
<circle cx="326.5" cy="56.43" r="1.1" fill="#111"/>
<circle cx="326.5" cy="65.7" r="1.1" fill="#111"/>
<circle cx="326.5" cy="55.85" r="1.1" fill="#111"/>
<circle cx="326.5" cy="78.05" r="1.1" fill="#111"/>
<circle cx="326.5" cy="70.77" r="1.1" fill="#111"/>
<circle cx="326.5" cy="71.51" r="1.1" fill="#111"/>
<circle cx="326.5" cy="69.4" r="1.1" fill="#111"/>
<circle cx="326.5" cy="71.77" r="1.1" fill="#111"/>
<circle cx="326.5" cy="73.96" r="1.1" fill="#111"/>
<circle cx="326.5" cy="40.81" r="1.1" fill="#111"/>
<circle cx="326.5" cy="77.65" r="1.1" fill="#111"/>
<circle cx="326.5" cy="60.6" r="1.1" fill="#111"/>
<circle cx="326.5" cy="36.8" r="1.1" fill="#111"/>
<circle cx="326.5" cy="83.8" r="1.1" fill="#111"/>
<line x1="326.5" y1="99.8" x2="326.5" y2="102.6" stroke="#2a2a2a" stroke-width="0.9" />
<line x1="354.4" y1="18.7" x2="354.4" y2="53.8" stroke="#111" stroke-width="0.6" />
<rect x="343.9" y="31.2" width="21" height="11.5" fill="#6a2180" stroke="#262626" stroke-width="0.55"/>
<line x1="343.9" y1="36" x2="364.9" y2="36" stroke="#1a1a1a" stroke-width="1" />
<circle cx="354.4" cy="32.39" r="1.1" fill="#111"/>
<circle cx="354.4" cy="32.98" r="1.1" fill="#111"/>
<circle cx="354.4" cy="23.72" r="1.1" fill="#111"/>
<circle cx="354.4" cy="51.59" r="1.1" fill="#111"/>
<circle cx="354.4" cy="33.75" r="1.1" fill="#111"/>
<circle cx="354.4" cy="34.38" r="1.1" fill="#111"/>
<circle cx="354.4" cy="32.42" r="1.1" fill="#111"/>
<circle cx="354.4" cy="41.87" r="1.1" fill="#111"/>
<circle cx="354.4" cy="40.48" r="1.1" fill="#111"/>
<circle cx="354.4" cy="33.42" r="1.1" fill="#111"/>
<circle cx="354.4" cy="38.41" r="1.1" fill="#111"/>
<circle cx="354.4" cy="41.03" r="1.1" fill="#111"/>
<circle cx="354.4" cy="18.7" r="1.1" fill="#111"/>
<circle cx="354.4" cy="53.8" r="1.1" fill="#111"/>
<line x1="354.4" y1="99.8" x2="354.4" y2="102.6" stroke="#2a2a2a" stroke-width="0.9" />
<rect x="254.9" y="15.1" width="115.5" height="84.7" fill="none" stroke="#2a2a2a" stroke-width="1.25"/>
<text x="253" y="110.4" font-size="5.9" fill="#333" textLength="37.1" lengthAdjust="spacingAndGlyphs">M_non−tri12</text>
<text x="291.7" y="110.4" font-size="5.9" fill="#333" textLength="21.6" lengthAdjust="spacingAndGlyphs">M_tri12</text>
<text x="315.5" y="110.4" font-size="5.9" fill="#333" textLength="35.5" lengthAdjust="spacingAndGlyphs">U_non−tri12</text>
<text x="353" y="110.4" font-size="5.9" fill="#333" textLength="20" lengthAdjust="spacingAndGlyphs">U_tri12</text>
<text x="453.45" y="11.5" font-size="6.8" text-anchor="middle" font-weight="bold" textLength="72.3" lengthAdjust="spacingAndGlyphs">STAT2 RNA expression</text>
<line x1="393.3" y1="30.2" x2="396.5" y2="30.2" stroke="#2a2a2a" stroke-width="0.9" />
<text x="392.3" y="33" font-size="6.4" text-anchor="end" fill="#333" textLength="11.3" lengthAdjust="spacingAndGlyphs">15.0</text>
<line x1="393.3" y1="46.5" x2="396.5" y2="46.5" stroke="#2a2a2a" stroke-width="0.9" />
<text x="392.3" y="49.3" font-size="6.4" text-anchor="end" fill="#333" textLength="11.3" lengthAdjust="spacingAndGlyphs">14.5</text>
<line x1="393.3" y1="62.5" x2="396.5" y2="62.5" stroke="#2a2a2a" stroke-width="0.9" />
<text x="392.3" y="65.3" font-size="6.4" text-anchor="end" fill="#333" textLength="11.3" lengthAdjust="spacingAndGlyphs">14.0</text>
<line x1="393.3" y1="78.8" x2="396.5" y2="78.8" stroke="#2a2a2a" stroke-width="0.9" />
<text x="392.3" y="81.6" font-size="6.4" text-anchor="end" fill="#333" textLength="11.3" lengthAdjust="spacingAndGlyphs">13.5</text>
<line x1="393.3" y1="95.2" x2="396.5" y2="95.2" stroke="#2a2a2a" stroke-width="0.9" />
<text x="392.3" y="98" font-size="6.4" text-anchor="end" fill="#333" textLength="11.3" lengthAdjust="spacingAndGlyphs">13.0</text>
<text x="378.3" y="57.5" font-size="8.6" text-anchor="middle" textLength="67" lengthAdjust="spacingAndGlyphs" transform="rotate(-90 378.3 57.5)">Normalized expression</text>
<line x1="412.7" y1="49.6" x2="412.7" y2="96.4" stroke="#111" stroke-width="0.6" />
<rect x="402.2" y="66.2" width="21" height="15.2" fill="#cc1736" stroke="#262626" stroke-width="0.55"/>
<line x1="402.2" y1="75.2" x2="423.2" y2="75.2" stroke="#1a1a1a" stroke-width="1" />
<circle cx="412.7" cy="77.48" r="1.1" fill="#111"/>
<circle cx="412.7" cy="80.53" r="1.1" fill="#111"/>
<circle cx="412.7" cy="80.22" r="1.1" fill="#111"/>
<circle cx="412.7" cy="57.33" r="1.1" fill="#111"/>
<circle cx="412.7" cy="91.13" r="1.1" fill="#111"/>
<circle cx="412.7" cy="83.1" r="1.1" fill="#111"/>
<circle cx="412.7" cy="69.95" r="1.1" fill="#111"/>
<circle cx="412.7" cy="74.92" r="1.1" fill="#111"/>
<circle cx="412.7" cy="53.2" r="1.1" fill="#111"/>
<circle cx="412.7" cy="80.13" r="1.1" fill="#111"/>
<circle cx="412.7" cy="68.63" r="1.1" fill="#111"/>
<circle cx="412.7" cy="68.31" r="1.1" fill="#111"/>
<circle cx="412.7" cy="68.13" r="1.1" fill="#111"/>
<circle cx="412.7" cy="64.07" r="1.1" fill="#111"/>
<circle cx="412.7" cy="69.48" r="1.1" fill="#111"/>
<circle cx="412.7" cy="94.49" r="1.1" fill="#111"/>
<circle cx="412.7" cy="80.81" r="1.1" fill="#111"/>
<circle cx="412.7" cy="76.5" r="1.1" fill="#111"/>
<circle cx="412.7" cy="80.5" r="1.1" fill="#111"/>
<circle cx="412.7" cy="80.89" r="1.1" fill="#111"/>
<circle cx="412.7" cy="85.88" r="1.1" fill="#111"/>
<circle cx="412.7" cy="68.72" r="1.1" fill="#111"/>
<circle cx="412.7" cy="50.68" r="1.1" fill="#111"/>
<circle cx="412.7" cy="75.37" r="1.1" fill="#111"/>
<circle cx="412.7" cy="60.85" r="1.1" fill="#111"/>
<circle cx="412.7" cy="70.91" r="1.1" fill="#111"/>
<circle cx="412.7" cy="73.51" r="1.1" fill="#111"/>
<circle cx="412.7" cy="73.51" r="1.1" fill="#111"/>
<circle cx="412.7" cy="67.07" r="1.1" fill="#111"/>
<circle cx="412.7" cy="81.74" r="1.1" fill="#111"/>
<circle cx="412.7" cy="49.6" r="1.1" fill="#111"/>
<circle cx="412.7" cy="96.4" r="1.1" fill="#111"/>
<line x1="412.7" y1="99.8" x2="412.7" y2="102.6" stroke="#2a2a2a" stroke-width="0.9" />
<line x1="440.5" y1="34" x2="440.5" y2="64.9" stroke="#111" stroke-width="0.6" />
<rect x="430" y="41.4" width="21" height="15.5" fill="#1b5a98" stroke="#262626" stroke-width="0.55"/>
<line x1="430" y1="47.7" x2="451" y2="47.7" stroke="#1a1a1a" stroke-width="1" />
<circle cx="440.5" cy="54.14" r="1.1" fill="#111"/>
<circle cx="440.5" cy="45.46" r="1.1" fill="#111"/>
<circle cx="440.5" cy="38.9" r="1.1" fill="#111"/>
<circle cx="440.5" cy="53.18" r="1.1" fill="#111"/>
<circle cx="440.5" cy="53.34" r="1.1" fill="#111"/>
<circle cx="440.5" cy="53.83" r="1.1" fill="#111"/>
<circle cx="440.5" cy="47.82" r="1.1" fill="#111"/>
<circle cx="440.5" cy="51.97" r="1.1" fill="#111"/>
<circle cx="440.5" cy="49.98" r="1.1" fill="#111"/>
<circle cx="440.5" cy="45.52" r="1.1" fill="#111"/>
<circle cx="440.5" cy="52.03" r="1.1" fill="#111"/>
<circle cx="440.5" cy="46.6" r="1.1" fill="#111"/>
<circle cx="440.5" cy="34" r="1.1" fill="#111"/>
<circle cx="440.5" cy="64.9" r="1.1" fill="#111"/>
<line x1="440.5" y1="99.8" x2="440.5" y2="102.6" stroke="#2a2a2a" stroke-width="0.9" />
<line x1="468.2" y1="57.7" x2="468.2" y2="97" stroke="#111" stroke-width="0.6" />
<rect x="457.7" y="75.6" width="21" height="13.7" fill="#3bb54b" stroke="#262626" stroke-width="0.55"/>
<line x1="457.7" y1="84.4" x2="478.7" y2="84.4" stroke="#1a1a1a" stroke-width="1" />
<circle cx="468.2" cy="77.67" r="1.1" fill="#111"/>
<circle cx="468.2" cy="76.59" r="1.1" fill="#111"/>
<circle cx="468.2" cy="80.61" r="1.1" fill="#111"/>
<circle cx="468.2" cy="66.78" r="1.1" fill="#111"/>
<circle cx="468.2" cy="65.46" r="1.1" fill="#111"/>
<circle cx="468.2" cy="59.32" r="1.1" fill="#111"/>
<circle cx="468.2" cy="86.93" r="1.1" fill="#111"/>
<circle cx="468.2" cy="61.7" r="1.1" fill="#111"/>
<circle cx="468.2" cy="88.58" r="1.1" fill="#111"/>
<circle cx="468.2" cy="81.03" r="1.1" fill="#111"/>
<circle cx="468.2" cy="89.66" r="1.1" fill="#111"/>
<circle cx="468.2" cy="91.53" r="1.1" fill="#111"/>
<circle cx="468.2" cy="59.81" r="1.1" fill="#111"/>
<circle cx="468.2" cy="86.78" r="1.1" fill="#111"/>
<circle cx="468.2" cy="83.57" r="1.1" fill="#111"/>
<circle cx="468.2" cy="80.7" r="1.1" fill="#111"/>
<circle cx="468.2" cy="76.46" r="1.1" fill="#111"/>
<circle cx="468.2" cy="61.39" r="1.1" fill="#111"/>
<circle cx="468.2" cy="81.46" r="1.1" fill="#111"/>
<circle cx="468.2" cy="83.62" r="1.1" fill="#111"/>
<circle cx="468.2" cy="79.71" r="1.1" fill="#111"/>
<circle cx="468.2" cy="85.18" r="1.1" fill="#111"/>
<circle cx="468.2" cy="57.7" r="1.1" fill="#111"/>
<circle cx="468.2" cy="97" r="1.1" fill="#111"/>
<line x1="468.2" y1="99.8" x2="468.2" y2="102.6" stroke="#2a2a2a" stroke-width="0.9" />
<line x1="495.8" y1="18.6" x2="495.8" y2="65" stroke="#111" stroke-width="0.6" />
<rect x="485.3" y="33.6" width="21" height="14.4" fill="#6a2180" stroke="#262626" stroke-width="0.55"/>
<line x1="485.3" y1="39.4" x2="506.3" y2="39.4" stroke="#1a1a1a" stroke-width="1" />
<circle cx="495.8" cy="47.46" r="1.1" fill="#111"/>
<circle cx="495.8" cy="29.17" r="1.1" fill="#111"/>
<circle cx="495.8" cy="22.31" r="1.1" fill="#111"/>
<circle cx="495.8" cy="51.56" r="1.1" fill="#111"/>
<circle cx="495.8" cy="40.21" r="1.1" fill="#111"/>
<circle cx="495.8" cy="40.73" r="1.1" fill="#111"/>
<circle cx="495.8" cy="45.56" r="1.1" fill="#111"/>
<circle cx="495.8" cy="22.11" r="1.1" fill="#111"/>
<circle cx="495.8" cy="22.6" r="1.1" fill="#111"/>
<circle cx="495.8" cy="46.59" r="1.1" fill="#111"/>
<circle cx="495.8" cy="35.24" r="1.1" fill="#111"/>
<circle cx="495.8" cy="47.88" r="1.1" fill="#111"/>
<circle cx="495.8" cy="18.6" r="1.1" fill="#111"/>
<circle cx="495.8" cy="65" r="1.1" fill="#111"/>
<line x1="495.8" y1="99.8" x2="495.8" y2="102.6" stroke="#2a2a2a" stroke-width="0.9" />
<rect x="396.5" y="15.1" width="115.7" height="84.7" fill="none" stroke="#2a2a2a" stroke-width="1.25"/>
<text x="396.3" y="110.4" font-size="5.9" fill="#333" textLength="36.9" lengthAdjust="spacingAndGlyphs">M_non−tri12</text>
<text x="435" y="110.4" font-size="5.9" fill="#333" textLength="21.8" lengthAdjust="spacingAndGlyphs">M_tri12</text>
<text x="459.3" y="110.4" font-size="5.9" fill="#333" textLength="35" lengthAdjust="spacingAndGlyphs">U_non−tri12</text>
<text x="496.3" y="110.4" font-size="5.9" fill="#333" textLength="19.5" lengthAdjust="spacingAndGlyphs">U_tri12</text>
<text x="302.85" y="266.7" font-size="6.8" text-anchor="middle" font-weight="bold" textLength="18.1" lengthAdjust="spacingAndGlyphs">OAS2</text>
<line x1="238.7" y1="290.1" x2="241.9" y2="290.1" stroke="#2a2a2a" stroke-width="0.9" />
<text x="237.6" y="292.9" font-size="6.4" text-anchor="end" fill="#333" textLength="7.3" lengthAdjust="spacingAndGlyphs">31</text>
<line x1="238.7" y1="313.8" x2="241.9" y2="313.8" stroke="#2a2a2a" stroke-width="0.9" />
<text x="237.6" y="316.6" font-size="6.4" text-anchor="end" fill="#333" textLength="7.3" lengthAdjust="spacingAndGlyphs">30</text>
<line x1="238.7" y1="337.5" x2="241.9" y2="337.5" stroke="#2a2a2a" stroke-width="0.9" />
<text x="237.6" y="340.3" font-size="6.4" text-anchor="end" fill="#333" textLength="7.3" lengthAdjust="spacingAndGlyphs">29</text>
<text x="225.7" y="313.65" font-size="8.6" text-anchor="middle" textLength="71.3" lengthAdjust="spacingAndGlyphs" transform="rotate(-90 225.7 313.65)">OAS2 RNA expression</text>
<line x1="259.6" y1="281.2" x2="259.6" y2="333.7" stroke="#111" stroke-width="0.6" />
<rect x="248.6" y="300.1" width="22" height="19.3" fill="#cc1736" stroke="#262626" stroke-width="0.55"/>
<line x1="248.6" y1="309.7" x2="270.6" y2="309.7" stroke="#1a1a1a" stroke-width="1" />
<circle cx="259.6" cy="310.9" r="1.1" fill="#111"/>
<circle cx="259.6" cy="326.06" r="1.1" fill="#111"/>
<circle cx="259.6" cy="311.44" r="1.1" fill="#111"/>
<circle cx="259.6" cy="309.98" r="1.1" fill="#111"/>
<circle cx="259.6" cy="315.4" r="1.1" fill="#111"/>
<circle cx="259.6" cy="286.93" r="1.1" fill="#111"/>
<circle cx="259.6" cy="296.5" r="1.1" fill="#111"/>
<circle cx="259.6" cy="300.91" r="1.1" fill="#111"/>
<circle cx="259.6" cy="333.2" r="1.1" fill="#111"/>
<circle cx="259.6" cy="311.98" r="1.1" fill="#111"/>
<circle cx="259.6" cy="300.39" r="1.1" fill="#111"/>
<circle cx="259.6" cy="301.25" r="1.1" fill="#111"/>
<circle cx="259.6" cy="304.77" r="1.1" fill="#111"/>
<circle cx="259.6" cy="289.97" r="1.1" fill="#111"/>
<circle cx="259.6" cy="316.36" r="1.1" fill="#111"/>
<circle cx="259.6" cy="312.46" r="1.1" fill="#111"/>
<circle cx="259.6" cy="312.89" r="1.1" fill="#111"/>
<circle cx="259.6" cy="305.47" r="1.1" fill="#111"/>
<circle cx="259.6" cy="333.64" r="1.1" fill="#111"/>
<circle cx="259.6" cy="313.76" r="1.1" fill="#111"/>
<circle cx="259.6" cy="304.53" r="1.1" fill="#111"/>
<circle cx="259.6" cy="301.46" r="1.1" fill="#111"/>
<circle cx="259.6" cy="307.83" r="1.1" fill="#111"/>
<circle cx="259.6" cy="307.56" r="1.1" fill="#111"/>
<circle cx="259.6" cy="331.52" r="1.1" fill="#111"/>
<circle cx="259.6" cy="285.16" r="1.1" fill="#111"/>
<circle cx="259.6" cy="326.12" r="1.1" fill="#111"/>
<circle cx="259.6" cy="325.08" r="1.1" fill="#111"/>
<circle cx="259.6" cy="293.1" r="1.1" fill="#111"/>
<circle cx="259.6" cy="305.31" r="1.1" fill="#111"/>
<circle cx="259.6" cy="281.2" r="1.1" fill="#111"/>
<circle cx="259.6" cy="333.7" r="1.1" fill="#111"/>
<circle cx="259.6" cy="352" r="1.1" fill="#111"/>
<line x1="259.6" y1="355.3" x2="259.6" y2="358.1" stroke="#2a2a2a" stroke-width="0.9" />
<line x1="288.7" y1="282.3" x2="288.7" y2="329.6" stroke="#111" stroke-width="0.6" />
<rect x="277.7" y="300.1" width="22" height="14.9" fill="#1b5a98" stroke="#262626" stroke-width="0.55"/>
<line x1="277.7" y1="304.5" x2="299.7" y2="304.5" stroke="#1a1a1a" stroke-width="1" />
<circle cx="288.7" cy="309.9" r="1.1" fill="#111"/>
<circle cx="288.7" cy="302.22" r="1.1" fill="#111"/>
<circle cx="288.7" cy="288.97" r="1.1" fill="#111"/>
<circle cx="288.7" cy="312.17" r="1.1" fill="#111"/>
<circle cx="288.7" cy="309.06" r="1.1" fill="#111"/>
<circle cx="288.7" cy="309.95" r="1.1" fill="#111"/>
<circle cx="288.7" cy="290.13" r="1.1" fill="#111"/>
<circle cx="288.7" cy="313.6" r="1.1" fill="#111"/>
<circle cx="288.7" cy="296.87" r="1.1" fill="#111"/>
<circle cx="288.7" cy="294.53" r="1.1" fill="#111"/>
<circle cx="288.7" cy="306.13" r="1.1" fill="#111"/>
<circle cx="288.7" cy="300.38" r="1.1" fill="#111"/>
<circle cx="288.7" cy="282.3" r="1.1" fill="#111"/>
<circle cx="288.7" cy="329.6" r="1.1" fill="#111"/>
<circle cx="288.7" cy="275" r="1.1" fill="#111"/>
<line x1="288.7" y1="355.3" x2="288.7" y2="358.1" stroke="#2a2a2a" stroke-width="0.9" />
<line x1="317.1" y1="287" x2="317.1" y2="337.2" stroke="#111" stroke-width="0.6" />
<rect x="306.1" y="308.9" width="22" height="15.3" fill="#3bb54b" stroke="#262626" stroke-width="0.55"/>
<line x1="306.1" y1="312.9" x2="328.1" y2="312.9" stroke="#1a1a1a" stroke-width="1" />
<circle cx="317.1" cy="319.38" r="1.1" fill="#111"/>
<circle cx="317.1" cy="321.89" r="1.1" fill="#111"/>
<circle cx="317.1" cy="312.43" r="1.1" fill="#111"/>
<circle cx="317.1" cy="291.93" r="1.1" fill="#111"/>
<circle cx="317.1" cy="310.89" r="1.1" fill="#111"/>
<circle cx="317.1" cy="312.17" r="1.1" fill="#111"/>
<circle cx="317.1" cy="315.5" r="1.1" fill="#111"/>
<circle cx="317.1" cy="318.21" r="1.1" fill="#111"/>
<circle cx="317.1" cy="293.04" r="1.1" fill="#111"/>
<circle cx="317.1" cy="306.08" r="1.1" fill="#111"/>
<circle cx="317.1" cy="321.23" r="1.1" fill="#111"/>
<circle cx="317.1" cy="320.29" r="1.1" fill="#111"/>
<circle cx="317.1" cy="334.52" r="1.1" fill="#111"/>
<circle cx="317.1" cy="321.9" r="1.1" fill="#111"/>
<circle cx="317.1" cy="320.45" r="1.1" fill="#111"/>
<circle cx="317.1" cy="315.47" r="1.1" fill="#111"/>
<circle cx="317.1" cy="315.48" r="1.1" fill="#111"/>
<circle cx="317.1" cy="310.7" r="1.1" fill="#111"/>
<circle cx="317.1" cy="321.11" r="1.1" fill="#111"/>
<circle cx="317.1" cy="333.18" r="1.1" fill="#111"/>
<circle cx="317.1" cy="320.35" r="1.1" fill="#111"/>
<circle cx="317.1" cy="301.82" r="1.1" fill="#111"/>
<circle cx="317.1" cy="287" r="1.1" fill="#111"/>
<circle cx="317.1" cy="337.2" r="1.1" fill="#111"/>
<line x1="317.1" y1="355.3" x2="317.1" y2="358.1" stroke="#2a2a2a" stroke-width="0.9" />
<line x1="346.2" y1="280" x2="346.2" y2="325.6" stroke="#111" stroke-width="0.6" />
<rect x="335.2" y="291" width="22" height="16.3" fill="#6a2180" stroke="#262626" stroke-width="0.55"/>
<line x1="335.2" y1="297.6" x2="357.2" y2="297.6" stroke="#1a1a1a" stroke-width="1" />
<circle cx="346.2" cy="287.73" r="1.1" fill="#111"/>
<circle cx="346.2" cy="306.33" r="1.1" fill="#111"/>
<circle cx="346.2" cy="295.17" r="1.1" fill="#111"/>
<circle cx="346.2" cy="301.73" r="1.1" fill="#111"/>
<circle cx="346.2" cy="302.15" r="1.1" fill="#111"/>
<circle cx="346.2" cy="303.67" r="1.1" fill="#111"/>
<circle cx="346.2" cy="282.46" r="1.1" fill="#111"/>
<circle cx="346.2" cy="313.85" r="1.1" fill="#111"/>
<circle cx="346.2" cy="304.11" r="1.1" fill="#111"/>
<circle cx="346.2" cy="293.44" r="1.1" fill="#111"/>
<circle cx="346.2" cy="301.82" r="1.1" fill="#111"/>
<circle cx="346.2" cy="301.62" r="1.1" fill="#111"/>
<circle cx="346.2" cy="280" r="1.1" fill="#111"/>
<circle cx="346.2" cy="325.6" r="1.1" fill="#111"/>
<line x1="346.2" y1="355.3" x2="346.2" y2="358.1" stroke="#2a2a2a" stroke-width="0.9" />
<rect x="241.9" y="271.4" width="120.1" height="83.9" fill="none" stroke="#2a2a2a" stroke-width="1.25"/>
<text x="242.5" y="366.4" font-size="5.9" fill="#333" textLength="36.8" lengthAdjust="spacingAndGlyphs">M_non−tri12</text>
<text x="281" y="366.4" font-size="5.9" fill="#333" textLength="22.5" lengthAdjust="spacingAndGlyphs">M_tri12</text>
<text x="305.5" y="366.4" font-size="5.9" fill="#333" textLength="35.5" lengthAdjust="spacingAndGlyphs">U_non−tri12</text>
<text x="343" y="366.4" font-size="5.9" fill="#333" textLength="19.5" lengthAdjust="spacingAndGlyphs">U_tri12</text>
<text x="451.9" y="266.7" font-size="6.8" text-anchor="middle" font-weight="bold" textLength="15.8" lengthAdjust="spacingAndGlyphs">IFI44</text>
<line x1="387.8" y1="273" x2="391" y2="273" stroke="#2a2a2a" stroke-width="0.9" />
<text x="384.8" y="275.8" font-size="6.4" text-anchor="end" fill="#333" textLength="7.3" lengthAdjust="spacingAndGlyphs">33</text>
<line x1="387.8" y1="294.6" x2="391" y2="294.6" stroke="#2a2a2a" stroke-width="0.9" />
<text x="384.8" y="297.4" font-size="6.4" text-anchor="end" fill="#333" textLength="7.3" lengthAdjust="spacingAndGlyphs">30</text>
<line x1="387.8" y1="316.3" x2="391" y2="316.3" stroke="#2a2a2a" stroke-width="0.9" />
<text x="384.8" y="319.1" font-size="6.4" text-anchor="end" fill="#333" textLength="7.3" lengthAdjust="spacingAndGlyphs">27</text>
<line x1="387.8" y1="338.1" x2="391" y2="338.1" stroke="#2a2a2a" stroke-width="0.9" />
<text x="384.8" y="340.9" font-size="6.4" text-anchor="end" fill="#333" textLength="7.3" lengthAdjust="spacingAndGlyphs">24</text>
<text x="373.7" y="313.2" font-size="8.6" text-anchor="middle" textLength="70.4" lengthAdjust="spacingAndGlyphs" transform="rotate(-90 373.7 313.2)">IFI44 RNA expression</text>
<line x1="408.5" y1="285.6" x2="408.5" y2="352.5" stroke="#111" stroke-width="0.6" />
<rect x="397.5" y="309.2" width="22" height="23.6" fill="#cc1736" stroke="#262626" stroke-width="0.55"/>
<line x1="397.5" y1="316.2" x2="419.5" y2="316.2" stroke="#1a1a1a" stroke-width="1" />
<circle cx="408.5" cy="333.03" r="1.1" fill="#111"/>
<circle cx="408.5" cy="312.93" r="1.1" fill="#111"/>
<circle cx="408.5" cy="333.13" r="1.1" fill="#111"/>
<circle cx="408.5" cy="346.22" r="1.1" fill="#111"/>
<circle cx="408.5" cy="352.5" r="1.1" fill="#111"/>
<circle cx="408.5" cy="317.18" r="1.1" fill="#111"/>
<circle cx="408.5" cy="315.82" r="1.1" fill="#111"/>
<circle cx="408.5" cy="314.6" r="1.1" fill="#111"/>
<circle cx="408.5" cy="350.03" r="1.1" fill="#111"/>
<circle cx="408.5" cy="314.47" r="1.1" fill="#111"/>
<circle cx="408.5" cy="342.87" r="1.1" fill="#111"/>
<circle cx="408.5" cy="319.95" r="1.1" fill="#111"/>
<circle cx="408.5" cy="311.06" r="1.1" fill="#111"/>
<circle cx="408.5" cy="317.7" r="1.1" fill="#111"/>
<circle cx="408.5" cy="331.15" r="1.1" fill="#111"/>
<circle cx="408.5" cy="318.76" r="1.1" fill="#111"/>
<circle cx="408.5" cy="352.4" r="1.1" fill="#111"/>
<circle cx="408.5" cy="331.5" r="1.1" fill="#111"/>
<circle cx="408.5" cy="288.91" r="1.1" fill="#111"/>
<circle cx="408.5" cy="331.34" r="1.1" fill="#111"/>
<circle cx="408.5" cy="326.17" r="1.1" fill="#111"/>
<circle cx="408.5" cy="320.88" r="1.1" fill="#111"/>
<circle cx="408.5" cy="334.77" r="1.1" fill="#111"/>
<circle cx="408.5" cy="286.72" r="1.1" fill="#111"/>
<circle cx="408.5" cy="329.04" r="1.1" fill="#111"/>
<circle cx="408.5" cy="318.67" r="1.1" fill="#111"/>
<circle cx="408.5" cy="313.43" r="1.1" fill="#111"/>
<circle cx="408.5" cy="339.77" r="1.1" fill="#111"/>
<circle cx="408.5" cy="316.55" r="1.1" fill="#111"/>
<circle cx="408.5" cy="316.71" r="1.1" fill="#111"/>
<circle cx="408.5" cy="285.6" r="1.1" fill="#111"/>
<circle cx="408.5" cy="352.5" r="1.1" fill="#111"/>
<line x1="408.5" y1="355.8" x2="408.5" y2="358.6" stroke="#2a2a2a" stroke-width="0.9" />
<line x1="437.7" y1="286.8" x2="437.7" y2="328.3" stroke="#111" stroke-width="0.6" />
<rect x="426.7" y="296.3" width="22" height="15" fill="#1b5a98" stroke="#262626" stroke-width="0.55"/>
<line x1="426.7" y1="305.2" x2="448.7" y2="305.2" stroke="#1a1a1a" stroke-width="1" />
<circle cx="437.7" cy="303.51" r="1.1" fill="#111"/>
<circle cx="437.7" cy="303" r="1.1" fill="#111"/>
<circle cx="437.7" cy="306.17" r="1.1" fill="#111"/>
<circle cx="437.7" cy="305.82" r="1.1" fill="#111"/>
<circle cx="437.7" cy="289.67" r="1.1" fill="#111"/>
<circle cx="437.7" cy="298.43" r="1.1" fill="#111"/>
<circle cx="437.7" cy="300.95" r="1.1" fill="#111"/>
<circle cx="437.7" cy="310.64" r="1.1" fill="#111"/>
<circle cx="437.7" cy="309.7" r="1.1" fill="#111"/>
<circle cx="437.7" cy="306.31" r="1.1" fill="#111"/>
<circle cx="437.7" cy="291.14" r="1.1" fill="#111"/>
<circle cx="437.7" cy="300.74" r="1.1" fill="#111"/>
<circle cx="437.7" cy="286.8" r="1.1" fill="#111"/>
<circle cx="437.7" cy="328.3" r="1.1" fill="#111"/>
<line x1="437.7" y1="355.8" x2="437.7" y2="358.6" stroke="#2a2a2a" stroke-width="0.9" />
<line x1="466.6" y1="275.3" x2="466.6" y2="344.4" stroke="#111" stroke-width="0.6" />
<rect x="455.6" y="297.4" width="22" height="24.7" fill="#3bb54b" stroke="#262626" stroke-width="0.55"/>
<line x1="455.6" y1="307.5" x2="477.6" y2="307.5" stroke="#1a1a1a" stroke-width="1" />
<circle cx="466.6" cy="317.33" r="1.1" fill="#111"/>
<circle cx="466.6" cy="328.56" r="1.1" fill="#111"/>
<circle cx="466.6" cy="314.79" r="1.1" fill="#111"/>
<circle cx="466.6" cy="300.12" r="1.1" fill="#111"/>
<circle cx="466.6" cy="283.79" r="1.1" fill="#111"/>
<circle cx="466.6" cy="303.63" r="1.1" fill="#111"/>
<circle cx="466.6" cy="305.24" r="1.1" fill="#111"/>
<circle cx="466.6" cy="320.75" r="1.1" fill="#111"/>
<circle cx="466.6" cy="322.06" r="1.1" fill="#111"/>
<circle cx="466.6" cy="293.26" r="1.1" fill="#111"/>
<circle cx="466.6" cy="325.47" r="1.1" fill="#111"/>
<circle cx="466.6" cy="311.2" r="1.1" fill="#111"/>
<circle cx="466.6" cy="326.78" r="1.1" fill="#111"/>
<circle cx="466.6" cy="319.2" r="1.1" fill="#111"/>
<circle cx="466.6" cy="305.04" r="1.1" fill="#111"/>
<circle cx="466.6" cy="296.07" r="1.1" fill="#111"/>
<circle cx="466.6" cy="322.01" r="1.1" fill="#111"/>
<circle cx="466.6" cy="293.25" r="1.1" fill="#111"/>
<circle cx="466.6" cy="320.12" r="1.1" fill="#111"/>
<circle cx="466.6" cy="283.53" r="1.1" fill="#111"/>
<circle cx="466.6" cy="291.92" r="1.1" fill="#111"/>
<circle cx="466.6" cy="321.1" r="1.1" fill="#111"/>
<circle cx="466.6" cy="275.3" r="1.1" fill="#111"/>
<circle cx="466.6" cy="344.4" r="1.1" fill="#111"/>
<line x1="466.6" y1="355.8" x2="466.6" y2="358.6" stroke="#2a2a2a" stroke-width="0.9" />
<line x1="495.5" y1="280.8" x2="495.5" y2="317.7" stroke="#111" stroke-width="0.6" />
<rect x="484.5" y="289" width="22" height="11.6" fill="#6a2180" stroke="#262626" stroke-width="0.55"/>
<line x1="484.5" y1="296.1" x2="506.5" y2="296.1" stroke="#1a1a1a" stroke-width="1" />
<circle cx="495.5" cy="296.67" r="1.1" fill="#111"/>
<circle cx="495.5" cy="291.3" r="1.1" fill="#111"/>
<circle cx="495.5" cy="294.73" r="1.1" fill="#111"/>
<circle cx="495.5" cy="294.32" r="1.1" fill="#111"/>
<circle cx="495.5" cy="291.94" r="1.1" fill="#111"/>
<circle cx="495.5" cy="292.76" r="1.1" fill="#111"/>
<circle cx="495.5" cy="298.13" r="1.1" fill="#111"/>
<circle cx="495.5" cy="316.74" r="1.1" fill="#111"/>
<circle cx="495.5" cy="291.75" r="1.1" fill="#111"/>
<circle cx="495.5" cy="295.68" r="1.1" fill="#111"/>
<circle cx="495.5" cy="296.86" r="1.1" fill="#111"/>
<circle cx="495.5" cy="314.89" r="1.1" fill="#111"/>
<circle cx="495.5" cy="280.8" r="1.1" fill="#111"/>
<circle cx="495.5" cy="317.7" r="1.1" fill="#111"/>
<circle cx="495.5" cy="327.8" r="1.1" fill="#111"/>
<line x1="495.5" y1="355.8" x2="495.5" y2="358.6" stroke="#2a2a2a" stroke-width="0.9" />
<rect x="391" y="271.5" width="121.8" height="84.3" fill="none" stroke="#2a2a2a" stroke-width="1.25"/>
<text x="390.7" y="366.9" font-size="5.9" fill="#333" textLength="37.2" lengthAdjust="spacingAndGlyphs">M_non−tri12</text>
<text x="429.9" y="366.9" font-size="5.9" fill="#333" textLength="21.9" lengthAdjust="spacingAndGlyphs">M_tri12</text>
<text x="453.8" y="366.9" font-size="5.9" fill="#333" textLength="35.1" lengthAdjust="spacingAndGlyphs">U_non−tri12</text>
<text x="491" y="366.9" font-size="5.9" fill="#333" textLength="21" lengthAdjust="spacingAndGlyphs">U_tri12</text>
<line x1="257.3" y1="152.2" x2="260.3" y2="152.2" stroke="#2a2a2a" stroke-width="0.9" />
<text x="256" y="154.4" font-size="6.4" text-anchor="end" fill="#333" textLength="12.21" lengthAdjust="spacingAndGlyphs">31.0</text>
<line x1="257.3" y1="177.3" x2="260.3" y2="177.3" stroke="#2a2a2a" stroke-width="0.9" />
<text x="256" y="179.5" font-size="6.4" text-anchor="end" fill="#333" textLength="12.21" lengthAdjust="spacingAndGlyphs">30.0</text>
<line x1="257.3" y1="202.8" x2="260.3" y2="202.8" stroke="#2a2a2a" stroke-width="0.9" />
<text x="256" y="205" font-size="6.4" text-anchor="end" fill="#333" textLength="12.21" lengthAdjust="spacingAndGlyphs">29.0</text>
<line x1="264.7" y1="222.5" x2="264.7" y2="225.3" stroke="#2a2a2a" stroke-width="0.9" />
<text x="264.7" y="233.8" font-size="6.4" text-anchor="middle" fill="#333" textLength="11.21" lengthAdjust="spacingAndGlyphs">15.0</text>
<line x1="286" y1="222.5" x2="286" y2="225.3" stroke="#2a2a2a" stroke-width="0.9" />
<text x="286" y="233.8" font-size="6.4" text-anchor="middle" fill="#333" textLength="11.21" lengthAdjust="spacingAndGlyphs">15.5</text>
<line x1="307.5" y1="222.5" x2="307.5" y2="225.3" stroke="#2a2a2a" stroke-width="0.9" />
<text x="307.5" y="233.8" font-size="6.4" text-anchor="middle" fill="#333" textLength="11.21" lengthAdjust="spacingAndGlyphs">16.0</text>
<line x1="328.8" y1="222.5" x2="328.8" y2="225.3" stroke="#2a2a2a" stroke-width="0.9" />
<text x="328.8" y="233.8" font-size="6.4" text-anchor="middle" fill="#333" textLength="11.21" lengthAdjust="spacingAndGlyphs">16.5</text>
<line x1="350" y1="222.5" x2="350" y2="225.3" stroke="#2a2a2a" stroke-width="0.9" />
<text x="350" y="233.8" font-size="6.4" text-anchor="middle" fill="#333" textLength="11.21" lengthAdjust="spacingAndGlyphs">17.0</text>
<text x="241.1" y="176.75" font-size="8.6" text-anchor="middle" textLength="71.7" lengthAdjust="spacingAndGlyphs" transform="rotate(-90 241.1 176.75)">OAS2 RNA expression</text>
<text x="279.2" y="240.6" font-size="8.3" textLength="73.3" lengthAdjust="spacingAndGlyphs">STAT2 protein expression</text>
<circle cx="326.8" cy="155" r="2.2" fill="none" stroke="#5cc06c" stroke-width="0.65"/>
<circle cx="322.5" cy="168.7" r="2.2" fill="none" stroke="#5cc06c" stroke-width="0.65"/>
<circle cx="308.8" cy="172.3" r="2.2" fill="none" stroke="#5cc06c" stroke-width="0.65"/>
<circle cx="296.6" cy="169.4" r="2.2" fill="none" stroke="#5cc06c" stroke-width="0.65"/>
<circle cx="289.4" cy="176.6" r="2.2" fill="none" stroke="#5cc06c" stroke-width="0.65"/>
<circle cx="282.9" cy="186" r="2.2" fill="none" stroke="#5cc06c" stroke-width="0.65"/>
<circle cx="296.6" cy="184.5" r="2.2" fill="none" stroke="#5cc06c" stroke-width="0.65"/>
<circle cx="298" cy="188.1" r="2.2" fill="none" stroke="#5cc06c" stroke-width="0.65"/>
<circle cx="318.2" cy="187.7" r="2.2" fill="none" stroke="#5cc06c" stroke-width="0.65"/>
<circle cx="321" cy="175.9" r="2.2" fill="none" stroke="#5cc06c" stroke-width="0.65"/>
<circle cx="285.8" cy="192.4" r="2.2" fill="none" stroke="#5cc06c" stroke-width="0.65"/>
<circle cx="296.3" cy="191.7" r="2.2" fill="none" stroke="#5cc06c" stroke-width="0.65"/>
<circle cx="292.6" cy="195.8" r="2.2" fill="none" stroke="#5cc06c" stroke-width="0.65"/>
<circle cx="313.6" cy="194.3" r="2.2" fill="none" stroke="#5cc06c" stroke-width="0.65"/>
<circle cx="302" cy="201.5" r="2.2" fill="none" stroke="#5cc06c" stroke-width="0.65"/>
<circle cx="325.4" cy="190.3" r="2.2" fill="none" stroke="#5cc06c" stroke-width="0.65"/>
<circle cx="342.7" cy="148.6" r="2.2" fill="none" stroke="#5cc06c" stroke-width="0.65"/>
<circle cx="288.9" cy="177.4" r="2.2" fill="none" stroke="#5cc06c" stroke-width="0.65"/>
<circle cx="334.2" cy="159.9" r="2.2" fill="none" stroke="#5585b8" stroke-width="0.65"/>
<circle cx="339.2" cy="149.5" r="2.2" fill="none" stroke="#5585b8" stroke-width="0.65"/>
<circle cx="341.5" cy="156.8" r="2.2" fill="none" stroke="#5585b8" stroke-width="0.65"/>
<circle cx="343.9" cy="167" r="2.2" fill="none" stroke="#5585b8" stroke-width="0.65"/>
<circle cx="347.6" cy="152.8" r="2.2" fill="none" stroke="#5585b8" stroke-width="0.65"/>
<circle cx="348.8" cy="141" r="2.2" fill="none" stroke="#5585b8" stroke-width="0.65"/>
<circle cx="357.8" cy="169.8" r="2.2" fill="none" stroke="#5585b8" stroke-width="0.65"/>
<circle cx="366.5" cy="161.6" r="2.2" fill="none" stroke="#5585b8" stroke-width="0.65"/>
<circle cx="336.1" cy="189.4" r="2.2" fill="none" stroke="#5585b8" stroke-width="0.65"/>
<circle cx="298.3" cy="151.7" r="2.45" fill="#2eae44"/>
<circle cx="282.2" cy="154.3" r="2.45" fill="#2eae44"/>
<circle cx="282.5" cy="160.1" r="2.45" fill="#2eae44"/>
<circle cx="297.3" cy="158.3" r="2.45" fill="#2eae44"/>
<circle cx="293.7" cy="162.2" r="2.45" fill="#2eae44"/>
<circle cx="292" cy="167" r="2.45" fill="#2eae44"/>
<circle cx="284.8" cy="170.9" r="2.45" fill="#2eae44"/>
<circle cx="287.2" cy="173.3" r="2.45" fill="#2eae44"/>
<circle cx="297.7" cy="173" r="2.45" fill="#2eae44"/>
<circle cx="300.2" cy="175.9" r="2.45" fill="#2eae44"/>
<circle cx="301.6" cy="168.7" r="2.45" fill="#2eae44"/>
<circle cx="303.8" cy="167.3" r="2.45" fill="#2eae44"/>
<circle cx="307.8" cy="161.2" r="2.45" fill="#2eae44"/>
<circle cx="313.6" cy="170.1" r="2.45" fill="#2eae44"/>
<circle cx="315.7" cy="153.6" r="2.45" fill="#2eae44"/>
<circle cx="295.1" cy="179.5" r="2.45" fill="#2eae44"/>
<circle cx="309.8" cy="183.1" r="2.45" fill="#2eae44"/>
<circle cx="308.4" cy="187.1" r="2.45" fill="#2eae44"/>
<circle cx="320.3" cy="183.8" r="2.45" fill="#2eae44"/>
<circle cx="326.1" cy="174.2" r="2.45" fill="#2eae44"/>
<circle cx="327.5" cy="168.7" r="2.45" fill="#2eae44"/>
<circle cx="303.1" cy="193.9" r="2.45" fill="#2eae44"/>
<circle cx="287.7" cy="196.3" r="2.45" fill="#2eae44"/>
<circle cx="296.9" cy="198.2" r="2.45" fill="#2eae44"/>
<circle cx="277.2" cy="197.2" r="2.45" fill="#2eae44"/>
<circle cx="265.3" cy="188.7" r="2.45" fill="#2eae44"/>
<circle cx="267.2" cy="181.1" r="2.45" fill="#2eae44"/>
<circle cx="319.1" cy="142.5" r="2.45" fill="#2eae44"/>
<circle cx="283.2" cy="218.6" r="2.45" fill="#2eae44"/>
<circle cx="303.3" cy="143.6" r="2.45" fill="#0f4a8a"/>
<circle cx="321.7" cy="135.6" r="2.45" fill="#0f4a8a"/>
<circle cx="313.6" cy="162.2" r="2.45" fill="#0f4a8a"/>
<circle cx="310.7" cy="165.8" r="2.45" fill="#0f4a8a"/>
<circle cx="316.7" cy="167" r="2.45" fill="#0f4a8a"/>
<circle cx="326.5" cy="163" r="2.45" fill="#0f4a8a"/>
<circle cx="306.7" cy="178.8" r="2.45" fill="#0f4a8a"/>
<circle cx="313.6" cy="177" r="2.45" fill="#0f4a8a"/>
<circle cx="316" cy="178.1" r="2.45" fill="#0f4a8a"/>
<circle cx="318.9" cy="193.9" r="2.45" fill="#0f4a8a"/>
<circle cx="327.5" cy="190.6" r="2.45" fill="#0f4a8a"/>
<line x1="265.3" y1="186.8" x2="370" y2="155.7" stroke="#9a9a9a" stroke-width="0.8" stroke-dasharray="3 2.2"/>
<text x="265.6" y="140.57" font-size="6.6" fill="#a04848" textLength="17.67" lengthAdjust="spacingAndGlyphs">N = 82</text>
<text x="265.6" y="149.57" font-size="6.6" fill="#a04848" textLength="32.26" lengthAdjust="spacingAndGlyphs"><tspan font-style="italic">P</tspan> = 3.2e−04</text>
<text x="265.6" y="158.07" font-size="6.6" fill="#a04848" textLength="19.32" lengthAdjust="spacingAndGlyphs">R = 0.4</text>
<rect x="260.3" y="131.2" width="110.3" height="91.3" fill="none" stroke="#2a2a2a" stroke-width="1.1"/>
<line x1="397.4" y1="133.4" x2="400.4" y2="133.4" stroke="#2a2a2a" stroke-width="0.9" />
<text x="396.1" y="135.6" font-size="6.4" text-anchor="end" fill="#333" textLength="12.21" lengthAdjust="spacingAndGlyphs">33.0</text>
<line x1="397.4" y1="156.8" x2="400.4" y2="156.8" stroke="#2a2a2a" stroke-width="0.9" />
<text x="396.1" y="159" font-size="6.4" text-anchor="end" fill="#333" textLength="12.21" lengthAdjust="spacingAndGlyphs">30.0</text>
<line x1="397.4" y1="180.2" x2="400.4" y2="180.2" stroke="#2a2a2a" stroke-width="0.9" />
<text x="396.1" y="182.4" font-size="6.4" text-anchor="end" fill="#333" textLength="12.21" lengthAdjust="spacingAndGlyphs">27.0</text>
<line x1="397.4" y1="203.3" x2="400.4" y2="203.3" stroke="#2a2a2a" stroke-width="0.9" />
<text x="396.1" y="205.5" font-size="6.4" text-anchor="end" fill="#333" textLength="12.21" lengthAdjust="spacingAndGlyphs">24.0</text>
<line x1="404.8" y1="221.9" x2="404.8" y2="224.7" stroke="#2a2a2a" stroke-width="0.9" />
<text x="404.8" y="231.4" font-size="6.4" text-anchor="middle" fill="#333" textLength="11.21" lengthAdjust="spacingAndGlyphs">15.0</text>
<line x1="426.4" y1="221.9" x2="426.4" y2="224.7" stroke="#2a2a2a" stroke-width="0.9" />
<text x="426.4" y="231.4" font-size="6.4" text-anchor="middle" fill="#333" textLength="11.21" lengthAdjust="spacingAndGlyphs">15.5</text>
<line x1="448.5" y1="221.9" x2="448.5" y2="224.7" stroke="#2a2a2a" stroke-width="0.9" />
<text x="448.5" y="231.4" font-size="6.4" text-anchor="middle" fill="#333" textLength="11.21" lengthAdjust="spacingAndGlyphs">16.0</text>
<line x1="470.5" y1="221.9" x2="470.5" y2="224.7" stroke="#2a2a2a" stroke-width="0.9" />
<text x="470.5" y="231.4" font-size="6.4" text-anchor="middle" fill="#333" textLength="11.21" lengthAdjust="spacingAndGlyphs">16.5</text>
<line x1="492.3" y1="221.9" x2="492.3" y2="224.7" stroke="#2a2a2a" stroke-width="0.9" />
<text x="492.3" y="231.4" font-size="6.4" text-anchor="middle" fill="#333" textLength="11.21" lengthAdjust="spacingAndGlyphs">17.0</text>
<text x="381.7" y="176.85" font-size="8.6" text-anchor="middle" textLength="62.1" lengthAdjust="spacingAndGlyphs" transform="rotate(-90 381.7 176.85)">IFI44 RNA expression</text>
<text x="419.8" y="240.6" font-size="8.3" textLength="73.2" lengthAdjust="spacingAndGlyphs">STAT2 protein expression</text>
<circle cx="454.5" cy="136.8" r="2.2" fill="none" stroke="#5cc06c" stroke-width="0.65"/>
<circle cx="483.2" cy="135.7" r="2.2" fill="none" stroke="#5cc06c" stroke-width="0.65"/>
<circle cx="463.3" cy="145.1" r="2.2" fill="none" stroke="#5cc06c" stroke-width="0.65"/>
<circle cx="429.5" cy="156.1" r="2.2" fill="none" stroke="#5cc06c" stroke-width="0.65"/>
<circle cx="437.4" cy="158.8" r="2.2" fill="none" stroke="#5cc06c" stroke-width="0.65"/>
<circle cx="427.2" cy="166.7" r="2.2" fill="none" stroke="#5cc06c" stroke-width="0.65"/>
<circle cx="457" cy="162.4" r="2.2" fill="none" stroke="#5cc06c" stroke-width="0.65"/>
<circle cx="461.7" cy="168.2" r="2.2" fill="none" stroke="#5cc06c" stroke-width="0.65"/>
<circle cx="436.7" cy="171.3" r="2.2" fill="none" stroke="#5cc06c" stroke-width="0.65"/>
<circle cx="442.2" cy="183.6" r="2.2" fill="none" stroke="#5cc06c" stroke-width="0.65"/>
<circle cx="443" cy="186.2" r="2.2" fill="none" stroke="#5cc06c" stroke-width="0.65"/>
<circle cx="432.7" cy="193.8" r="2.2" fill="none" stroke="#5cc06c" stroke-width="0.65"/>
<circle cx="443.4" cy="195.3" r="2.2" fill="none" stroke="#5cc06c" stroke-width="0.65"/>
<circle cx="432" cy="205.6" r="2.2" fill="none" stroke="#5cc06c" stroke-width="0.65"/>
<circle cx="439" cy="210.3" r="2.2" fill="none" stroke="#5cc06c" stroke-width="0.65"/>
<circle cx="462.6" cy="201.6" r="2.2" fill="none" stroke="#5cc06c" stroke-width="0.65"/>
<circle cx="461" cy="167.8" r="2.2" fill="none" stroke="#5cc06c" stroke-width="0.65"/>
<circle cx="484.8" cy="145.1" r="2.2" fill="none" stroke="#5585b8" stroke-width="0.65"/>
<circle cx="480.6" cy="148.3" r="2.2" fill="none" stroke="#5585b8" stroke-width="0.65"/>
<circle cx="476.2" cy="151" r="2.2" fill="none" stroke="#5585b8" stroke-width="0.65"/>
<circle cx="474.9" cy="153.8" r="2.2" fill="none" stroke="#5585b8" stroke-width="0.65"/>
<circle cx="507.3" cy="142" r="2.2" fill="none" stroke="#5585b8" stroke-width="0.65"/>
<circle cx="464.4" cy="161.5" r="2.2" fill="none" stroke="#5585b8" stroke-width="0.65"/>
<circle cx="468.3" cy="168.2" r="2.2" fill="none" stroke="#5585b8" stroke-width="0.65"/>
<circle cx="482.5" cy="162" r="2.2" fill="none" stroke="#5585b8" stroke-width="0.65"/>
<circle cx="489.5" cy="158.8" r="2.2" fill="none" stroke="#5585b8" stroke-width="0.65"/>
<circle cx="498.5" cy="158.8" r="2.2" fill="none" stroke="#5585b8" stroke-width="0.65"/>
<circle cx="488.4" cy="181.3" r="2.2" fill="none" stroke="#5585b8" stroke-width="0.65"/>
<circle cx="484.1" cy="192.6" r="2.2" fill="none" stroke="#5585b8" stroke-width="0.65"/>
<circle cx="405.9" cy="172.2" r="2.45" fill="#2eae44"/>
<circle cx="417.7" cy="174.2" r="2.45" fill="#2eae44"/>
<circle cx="423.2" cy="163.5" r="2.45" fill="#2eae44"/>
<circle cx="428.4" cy="173.7" r="2.45" fill="#2eae44"/>
<circle cx="434.2" cy="164" r="2.45" fill="#2eae44"/>
<circle cx="438.5" cy="155.3" r="2.45" fill="#2eae44"/>
<circle cx="441.3" cy="169.5" r="2.45" fill="#2eae44"/>
<circle cx="439.4" cy="174.5" r="2.45" fill="#2eae44"/>
<circle cx="433.1" cy="180" r="2.45" fill="#2eae44"/>
<circle cx="435.8" cy="179.7" r="2.45" fill="#2eae44"/>
<circle cx="448.4" cy="172.2" r="2.45" fill="#2eae44"/>
<circle cx="451.5" cy="176.9" r="2.45" fill="#2eae44"/>
<circle cx="449.2" cy="180.8" r="2.45" fill="#2eae44"/>
<circle cx="466.7" cy="147.5" r="2.45" fill="#2eae44"/>
<circle cx="460.9" cy="153.8" r="2.45" fill="#2eae44"/>
<circle cx="468.3" cy="175" r="2.45" fill="#2eae44"/>
<circle cx="437.9" cy="189.8" r="2.45" fill="#2eae44"/>
<circle cx="438.2" cy="194.1" r="2.45" fill="#2eae44"/>
<circle cx="423" cy="194.1" r="2.45" fill="#2eae44"/>
<circle cx="425.7" cy="196.4" r="2.45" fill="#2eae44"/>
<circle cx="407.9" cy="201.5" r="2.45" fill="#2eae44"/>
<circle cx="437.8" cy="199.9" r="2.45" fill="#2eae44"/>
<circle cx="444.2" cy="203.5" r="2.45" fill="#2eae44"/>
<circle cx="448.1" cy="199.3" r="2.45" fill="#2eae44"/>
<circle cx="454.4" cy="198.8" r="2.45" fill="#2eae44"/>
<circle cx="427.7" cy="214.5" r="2.45" fill="#2eae44"/>
<circle cx="456.3" cy="214.2" r="2.45" fill="#2eae44"/>
<circle cx="440.3" cy="218.5" r="2.45" fill="#2eae44"/>
<circle cx="459.9" cy="188.9" r="2.45" fill="#2eae44"/>
<circle cx="450.8" cy="176.8" r="2.45" fill="#2eae44"/>
<circle cx="450.8" cy="152" r="2.45" fill="#0f4a8a"/>
<circle cx="457.6" cy="149.1" r="2.45" fill="#0f4a8a"/>
<circle cx="447.3" cy="164.6" r="2.45" fill="#0f4a8a"/>
<circle cx="454.2" cy="170.6" r="2.45" fill="#0f4a8a"/>
<circle cx="443.7" cy="174" r="2.45" fill="#0f4a8a"/>
<circle cx="452.3" cy="176.1" r="2.45" fill="#0f4a8a"/>
<circle cx="459.7" cy="158" r="2.45" fill="#0f4a8a"/>
<circle cx="467.5" cy="158.5" r="2.45" fill="#0f4a8a"/>
<circle cx="462.8" cy="172.2" r="2.45" fill="#0f4a8a"/>
<circle cx="467.5" cy="166.2" r="2.45" fill="#0f4a8a"/>
<circle cx="454.7" cy="191.7" r="2.45" fill="#0f4a8a"/>
<circle cx="456.3" cy="193.3" r="2.45" fill="#0f4a8a"/>
<circle cx="462.3" cy="172.1" r="2.45" fill="#0f4a8a"/>
<line x1="406" y1="193" x2="504.5" y2="152" stroke="#9a9a9a" stroke-width="0.8" stroke-dasharray="3 2.2"/>
<text x="406" y="140.67" font-size="6.6" fill="#a04848" textLength="17.67" lengthAdjust="spacingAndGlyphs">N = 82</text>
<text x="406" y="149.27" font-size="6.6" fill="#a04848" textLength="33.91" lengthAdjust="spacingAndGlyphs"><tspan font-style="italic">P</tspan> = 5.7e−0.5</text>
<text x="406" y="157.97" font-size="6.6" fill="#a04848" textLength="19.32" lengthAdjust="spacingAndGlyphs">R = 0.4</text>
<rect x="400.4" y="131.6" width="112.2" height="90.3" fill="none" stroke="#2a2a2a" stroke-width="1.1"/>
<text x="220.5" y="253" font-size="7.8" textLength="35.7" lengthAdjust="spacingAndGlyphs">Trisomy 12</text>
<circle cx="262.7" cy="250.8" r="2.3" fill="#2eae44"/>
<text x="268.8" y="253" font-size="7.8" textLength="9.3" lengthAdjust="spacingAndGlyphs">No</text>
<circle cx="283.2" cy="250.8" r="2.3" fill="#0f4a8a"/>
<text x="288.8" y="253" font-size="7.8" textLength="11.9" lengthAdjust="spacingAndGlyphs">Yes</text>
<text x="306.9" y="253" font-size="7.8" textLength="17.3" lengthAdjust="spacingAndGlyphs">IGHV</text>
<circle cx="330.5" cy="250.8" r="2.3" fill="#111"/>
<text x="337" y="253" font-size="7.8" textLength="6.4" lengthAdjust="spacingAndGlyphs">M</text>
<circle cx="348.5" cy="250.8" r="2.1" fill="none" stroke="#444" stroke-width="0.55"/>
<text x="354.2" y="253" font-size="7.8" textLength="5" lengthAdjust="spacingAndGlyphs">U</text>
<text x="373.4" y="253" font-size="7.8" textLength="35.7" lengthAdjust="spacingAndGlyphs">Trisomy 12</text>
<circle cx="415.6" cy="250.8" r="2.3" fill="#2eae44"/>
<text x="421.7" y="253" font-size="7.8" textLength="9.3" lengthAdjust="spacingAndGlyphs">No</text>
<circle cx="436.1" cy="250.8" r="2.3" fill="#0f4a8a"/>
<text x="441.7" y="253" font-size="7.8" textLength="11.9" lengthAdjust="spacingAndGlyphs">Yes</text>
<text x="459.8" y="253" font-size="7.8" textLength="17.3" lengthAdjust="spacingAndGlyphs">IGHV</text>
<circle cx="483.4" cy="250.8" r="2.3" fill="#111"/>
<text x="489.9" y="253" font-size="7.8" textLength="6.4" lengthAdjust="spacingAndGlyphs">M</text>
<circle cx="501.4" cy="250.8" r="2.1" fill="none" stroke="#444" stroke-width="0.55"/>
<text x="507.1" y="253" font-size="7.8" textLength="5" lengthAdjust="spacingAndGlyphs">U</text>
<text x="147" y="253.5" font-size="7" text-anchor="middle" font-weight="bold" textLength="52.3" lengthAdjust="spacingAndGlyphs">RNA enrichment</text>
<rect x="93.8" y="260.35" width="70" height="4.1" fill="#1f5591"/>
<line x1="85.2" y1="262.4" x2="88" y2="262.4" stroke="#2a2a2a" stroke-width="0.9" />
<text x="82.8" y="264.33" font-size="5.6" text-anchor="end" fill="#2a2a2a" textLength="71.2" lengthAdjust="spacingAndGlyphs">TNF-alpha signaling via NFKB</text>
<rect x="93.8" y="268.65" width="107.5" height="4.1" fill="#c8102e"/>
<line x1="85.2" y1="270.7" x2="88" y2="270.7" stroke="#2a2a2a" stroke-width="0.9" />
<text x="82.8" y="272.63" font-size="5.6" text-anchor="end" fill="#2a2a2a" textLength="60.6" lengthAdjust="spacingAndGlyphs">Interferon alpha response</text>
<rect x="93.8" y="276.95" width="38.2" height="4.1" fill="#c8102e"/>
<line x1="85.2" y1="279" x2="88" y2="279" stroke="#2a2a2a" stroke-width="0.9" />
<text x="82.8" y="280.93" font-size="5.6" text-anchor="end" fill="#2a2a2a" textLength="65.8" lengthAdjust="spacingAndGlyphs">Interferon gamma response</text>
<rect x="93.8" y="285.25" width="23.2" height="4.1" fill="#c8102e"/>
<line x1="85.2" y1="287.3" x2="88" y2="287.3" stroke="#2a2a2a" stroke-width="0.9" />
<text x="82.8" y="289.23" font-size="5.6" text-anchor="end" fill="#2a2a2a" textLength="63.1" lengthAdjust="spacingAndGlyphs">Oxidative phosphorylation</text>
<rect x="93.8" y="293.55" width="21.2" height="4.1" fill="#c8102e"/>
<line x1="85.2" y1="295.6" x2="88" y2="295.6" stroke="#2a2a2a" stroke-width="0.9" />
<text x="82.8" y="297.53" font-size="5.6" text-anchor="end" fill="#2a2a2a" textLength="51.9" lengthAdjust="spacingAndGlyphs">Fatty acid metabolism</text>
<line x1="93.8" y1="300.5" x2="93.8" y2="303.1" stroke="#2a2a2a" stroke-width="0.9" />
<text x="93.8" y="309.6" font-size="6.2" text-anchor="middle" fill="#333">0</text>
<line x1="131.6" y1="300.5" x2="131.6" y2="303.1" stroke="#2a2a2a" stroke-width="0.9" />
<text x="131.6" y="309.6" font-size="6.2" text-anchor="middle" fill="#333">5</text>
<line x1="169.3" y1="300.5" x2="169.3" y2="303.1" stroke="#2a2a2a" stroke-width="0.9" />
<text x="169.3" y="309.6" font-size="6.2" text-anchor="middle" fill="#333">10</text>
<line x1="207" y1="300.5" x2="207" y2="303.1" stroke="#2a2a2a" stroke-width="0.9" />
<text x="207" y="309.6" font-size="6.2" text-anchor="middle" fill="#333">15</text>
<text x="146" y="318.28" font-size="7.2" text-anchor="middle" fill="#333">-Log<tspan font-size="5.4" dy="2">10</tspan><tspan dy="-2">(</tspan><tspan font-style="italic">P</tspan>value)</text>
<text x="172.4" y="279.3" font-size="7.4" fill="#333" textLength="29.4" lengthAdjust="spacingAndGlyphs">Direction</text>
<rect x="173.2" y="283" width="6.5" height="6.7" fill="#1f5591"/>
<rect x="173.2" y="290.6" width="6.5" height="6.4" fill="#c8102e"/>
<text x="181.9" y="287.8" font-size="7.4" fill="#333" textLength="19" lengthAdjust="spacingAndGlyphs">Down</text>
<text x="181.9" y="296.1" font-size="7.4" fill="#333" textLength="9" lengthAdjust="spacingAndGlyphs">Up</text>
<rect x="88" y="257.2" width="118.5" height="43.3" fill="none" stroke="#2a2a2a" stroke-width="1.2"/>
<text x="147" y="328.8" font-size="7" text-anchor="middle" font-weight="bold" textLength="60.5" lengthAdjust="spacingAndGlyphs">Protein enrichment</text>
<rect x="93.8" y="335.05" width="107.7" height="4.1" fill="#c8102e"/>
<line x1="85.2" y1="337.1" x2="88" y2="337.1" stroke="#2a2a2a" stroke-width="0.9" />
<text x="82.8" y="339.03" font-size="5.6" text-anchor="end" fill="#2a2a2a" textLength="65.8" lengthAdjust="spacingAndGlyphs">Interferon gamma response</text>
<rect x="93.8" y="342.85" width="75" height="4.1" fill="#c8102e"/>
<line x1="85.2" y1="344.9" x2="88" y2="344.9" stroke="#2a2a2a" stroke-width="0.9" />
<text x="82.8" y="346.83" font-size="5.6" text-anchor="end" fill="#2a2a2a" textLength="60.6" lengthAdjust="spacingAndGlyphs">Interferon alpha response</text>
<rect x="93.8" y="350.75" width="48.7" height="4.1" fill="#c8102e"/>
<line x1="85.2" y1="352.8" x2="88" y2="352.8" stroke="#2a2a2a" stroke-width="0.9" />
<text x="82.8" y="354.73" font-size="5.6" text-anchor="end" fill="#2a2a2a" textLength="78.9" lengthAdjust="spacingAndGlyphs">Epithelial mesenchymal transition</text>
<line x1="93.8" y1="357" x2="93.8" y2="359.6" stroke="#2a2a2a" stroke-width="0.9" />
<text x="93.8" y="366.6" font-size="6.2" text-anchor="middle" fill="#333">0</text>
<line x1="130.5" y1="357" x2="130.5" y2="359.6" stroke="#2a2a2a" stroke-width="0.9" />
<text x="130.5" y="366.6" font-size="6.2" text-anchor="middle" fill="#333">2</text>
<line x1="167.5" y1="357" x2="167.5" y2="359.6" stroke="#2a2a2a" stroke-width="0.9" />
<text x="167.5" y="366.6" font-size="6.2" text-anchor="middle" fill="#333">4</text>
<line x1="204.3" y1="357" x2="204.3" y2="359.6" stroke="#2a2a2a" stroke-width="0.9" />
<text x="204.3" y="366.6" font-size="6.2" text-anchor="middle" fill="#333">6</text>
<text x="146" y="374.98" font-size="7.2" text-anchor="middle" fill="#333">-Log<tspan font-size="5.4" dy="2">10</tspan><tspan dy="-2">(</tspan><tspan font-style="italic">P</tspan>value)</text>
<text x="175.5" y="346.35" font-size="7.4" fill="#333" textLength="29.4" lengthAdjust="spacingAndGlyphs">Direction</text>
<rect x="176.8" y="348.8" width="6.4" height="6.8" fill="#c8102e"/>
<text x="185.2" y="354.75" font-size="7.4" fill="#333" textLength="9" lengthAdjust="spacingAndGlyphs">Up</text>
<rect x="88" y="332" width="119" height="25" fill="none" stroke="#2a2a2a" stroke-width="1.2"/>
<rect x="0.6" y="0.6" width="518.8" height="380.8" fill="none" stroke="#111" stroke-width="1.2"/>
<rect x="0" y="380.2" width="520" height="1.8" fill="#111"/>
</svg>
</body></html>
